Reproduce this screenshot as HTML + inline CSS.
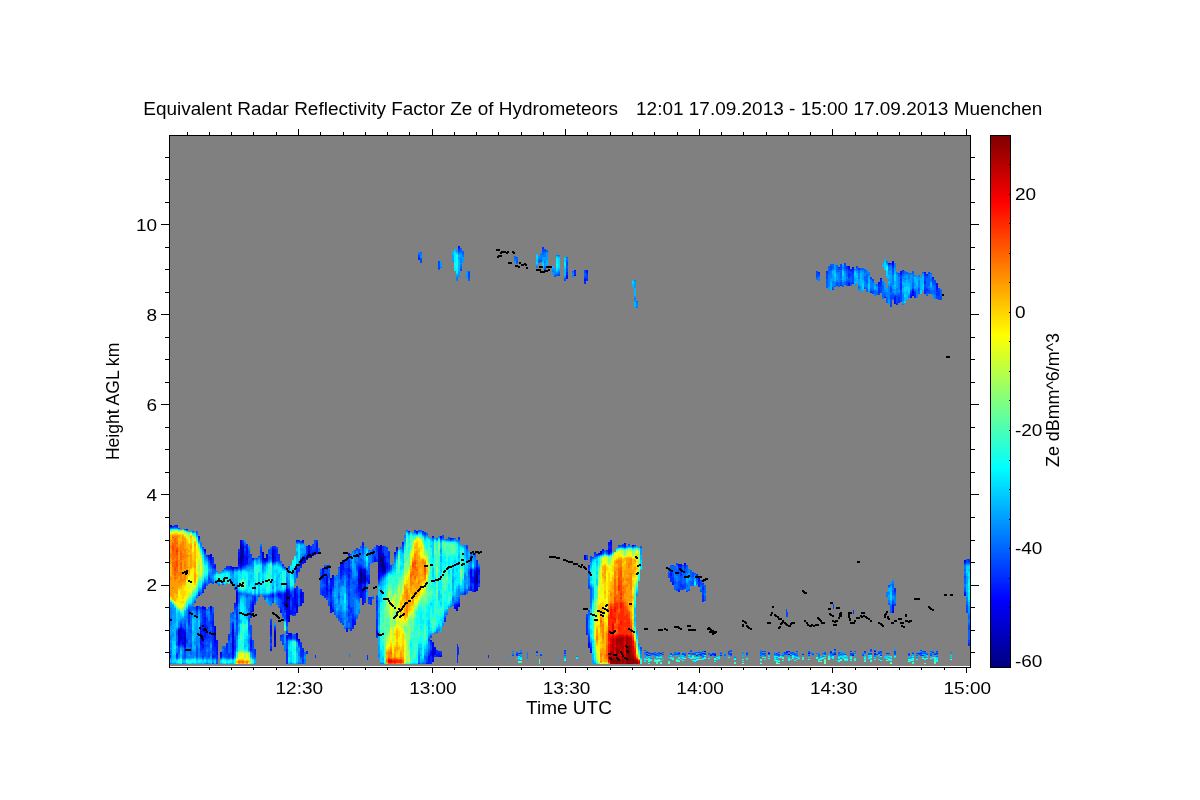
<!DOCTYPE html>
<html lang="en"><head><meta charset="utf-8"><title>Equivalent Radar Reflectivity Factor Ze of Hydrometeors</title>
<style>html,body{margin:0;padding:0;background:#fff;}body{width:1200px;height:800px;overflow:hidden;}svg{display:block;}text{font-family:"Liberation Sans",Arial,Helvetica,sans-serif;fill:#000;}</style></head><body>
<svg width="1200" height="800" viewBox="0 0 1200 800">
<defs>
<linearGradient id="cb" x1="0" y1="0" x2="0" y2="1">
<stop offset="0.0000" stop-color="#800000"/>
<stop offset="0.0156" stop-color="#8f0000"/>
<stop offset="0.0312" stop-color="#9f0000"/>
<stop offset="0.0469" stop-color="#af0000"/>
<stop offset="0.0625" stop-color="#bf0000"/>
<stop offset="0.0781" stop-color="#cf0000"/>
<stop offset="0.0938" stop-color="#df0000"/>
<stop offset="0.1094" stop-color="#ef0000"/>
<stop offset="0.1250" stop-color="#ff0000"/>
<stop offset="0.1406" stop-color="#ff1000"/>
<stop offset="0.1562" stop-color="#ff2000"/>
<stop offset="0.1719" stop-color="#ff3000"/>
<stop offset="0.1875" stop-color="#ff4000"/>
<stop offset="0.2031" stop-color="#ff5000"/>
<stop offset="0.2188" stop-color="#ff6000"/>
<stop offset="0.2344" stop-color="#ff7000"/>
<stop offset="0.2500" stop-color="#ff8000"/>
<stop offset="0.2656" stop-color="#ff8f00"/>
<stop offset="0.2812" stop-color="#ff9f00"/>
<stop offset="0.2969" stop-color="#ffaf00"/>
<stop offset="0.3125" stop-color="#ffbf00"/>
<stop offset="0.3281" stop-color="#ffcf00"/>
<stop offset="0.3438" stop-color="#ffdf00"/>
<stop offset="0.3594" stop-color="#ffef00"/>
<stop offset="0.3750" stop-color="#ffff00"/>
<stop offset="0.3906" stop-color="#efff10"/>
<stop offset="0.4062" stop-color="#dfff20"/>
<stop offset="0.4219" stop-color="#cfff30"/>
<stop offset="0.4375" stop-color="#bfff40"/>
<stop offset="0.4531" stop-color="#afff50"/>
<stop offset="0.4688" stop-color="#9fff60"/>
<stop offset="0.4844" stop-color="#8fff70"/>
<stop offset="0.5000" stop-color="#80ff80"/>
<stop offset="0.5156" stop-color="#70ff8f"/>
<stop offset="0.5312" stop-color="#60ff9f"/>
<stop offset="0.5469" stop-color="#50ffaf"/>
<stop offset="0.5625" stop-color="#40ffbf"/>
<stop offset="0.5781" stop-color="#30ffcf"/>
<stop offset="0.5938" stop-color="#20ffdf"/>
<stop offset="0.6094" stop-color="#10ffef"/>
<stop offset="0.6250" stop-color="#00ffff"/>
<stop offset="0.6406" stop-color="#00efff"/>
<stop offset="0.6562" stop-color="#00dfff"/>
<stop offset="0.6719" stop-color="#00cfff"/>
<stop offset="0.6875" stop-color="#00bfff"/>
<stop offset="0.7031" stop-color="#00afff"/>
<stop offset="0.7188" stop-color="#009fff"/>
<stop offset="0.7344" stop-color="#008fff"/>
<stop offset="0.7500" stop-color="#0080ff"/>
<stop offset="0.7656" stop-color="#0070ff"/>
<stop offset="0.7812" stop-color="#0060ff"/>
<stop offset="0.7969" stop-color="#0050ff"/>
<stop offset="0.8125" stop-color="#0040ff"/>
<stop offset="0.8281" stop-color="#0030ff"/>
<stop offset="0.8438" stop-color="#0020ff"/>
<stop offset="0.8594" stop-color="#0010ff"/>
<stop offset="0.8750" stop-color="#0000ff"/>
<stop offset="0.8906" stop-color="#0000ef"/>
<stop offset="0.9062" stop-color="#0000df"/>
<stop offset="0.9219" stop-color="#0000cf"/>
<stop offset="0.9375" stop-color="#0000bf"/>
<stop offset="0.9531" stop-color="#0000af"/>
<stop offset="0.9688" stop-color="#00009f"/>
<stop offset="0.9844" stop-color="#00008f"/>
<stop offset="1.0000" stop-color="#000080"/>
</linearGradient>

</defs>
<rect width="1200" height="800" fill="#fff"/>
<rect x="170" y="136" width="800" height="530" fill="#808080"/>
<g id="data">
<g fill="none" stroke-width="1" shape-rendering="crispEdges">
<path stroke="#000080" d="M240.5 557v2M241.5 557v2M286.5 594v4M286.5 599v5M287.5 594v4M287.5 599v5M360.5 572v10M361.5 572v10M380.5 556v7M381.5 556v7M382.5 559v7M382.5 569v1M383.5 559v7M383.5 569v1M476.5 575v6M477.5 575v6"/>
<path stroke="#00009c" d="M178.5 631v2M179.5 631v2M240.5 546v3M240.5 555v2M240.5 559v5M241.5 546v3M241.5 555v2M241.5 559v5M242.5 551v7M243.5 551v7M264.5 558v1M265.5 558v1M286.5 592v2M286.5 598v1M286.5 604v1M287.5 592v2M287.5 598v1M287.5 604v1M360.5 570v2M360.5 582v1M361.5 570v2M361.5 582v1M364.5 575v7M365.5 575v7M378.5 560v3M379.5 560v3M380.5 555v1M380.5 563v3M381.5 555v1M381.5 563v3M382.5 557v2M382.5 566v3M382.5 570v1M383.5 557v2M383.5 566v3M383.5 570v1M384.5 567v3M385.5 567v3M476.5 570v5M476.5 581v2M477.5 570v5M477.5 581v2"/>
<path stroke="#0000b8" d="M178.5 630v1M178.5 633v6M179.5 630v1M179.5 633v6M184.5 638v5M185.5 638v5M210.5 554v1M211.5 554v1M240.5 544v2M240.5 549v6M240.5 564v1M241.5 544v2M241.5 549v6M241.5 564v1M242.5 548v3M242.5 558v2M243.5 548v3M243.5 558v2M262.5 552v3M263.5 552v3M264.5 559v1M265.5 559v1M272.5 554v6M273.5 554v6M274.5 635v5M275.5 635v5M286.5 591v1M286.5 605v4M287.5 591v1M287.5 605v4M288.5 617v5M289.5 617v5M296.5 606v2M297.5 606v2M358.5 579v1M359.5 579v1M360.5 569v1M360.5 583v1M361.5 569v1M361.5 583v1M362.5 574v7M363.5 574v7M364.5 571v4M364.5 582v1M365.5 571v4M365.5 582v1M378.5 554v6M378.5 563v5M379.5 554v6M379.5 563v5M380.5 546v5M380.5 553v2M380.5 566v5M381.5 546v5M381.5 553v2M381.5 566v5M382.5 555v2M382.5 571v1M383.5 555v2M383.5 571v1M384.5 565v2M384.5 570v1M385.5 565v2M385.5 570v1M432.5 651v3M433.5 651v3M474.5 579v4M475.5 579v4M476.5 569v1M476.5 583v1M477.5 569v1M477.5 583v1"/>
<path stroke="#0000d4" d="M170.5 525v1M171.5 525v1M178.5 639v4M179.5 639v4M180.5 629v11M181.5 629v11M184.5 636v2M184.5 643v3M185.5 636v2M185.5 643v3M210.5 555v1M211.5 555v1M214.5 632v4M214.5 639v2M215.5 632v4M215.5 639v2M232.5 567v1M232.5 631v18M233.5 567v1M233.5 631v18M236.5 593v6M237.5 593v6M240.5 541v3M240.5 565v1M241.5 541v3M241.5 565v1M242.5 546v2M242.5 560v4M243.5 546v2M243.5 560v4M262.5 555v4M263.5 555v4M266.5 554v5M267.5 554v5M272.5 551v3M272.5 560v1M273.5 551v3M273.5 560v1M274.5 632v3M274.5 640v6M275.5 632v3M275.5 640v6M284.5 602v3M285.5 602v3M286.5 590v1M286.5 609v2M287.5 590v1M287.5 609v2M288.5 592v4M288.5 598v1M288.5 615v2M289.5 592v4M289.5 598v1M289.5 615v2M296.5 604v2M296.5 608v2M296.5 633v5M297.5 604v2M297.5 608v2M297.5 633v5M298.5 639v1M299.5 639v1M300.5 593v5M301.5 593v5M308.5 549v8M309.5 549v8M326.5 580v2M327.5 580v2M342.5 560v1M343.5 560v1M358.5 577v2M358.5 580v5M359.5 577v2M359.5 580v5M360.5 584v3M361.5 584v3M362.5 572v2M362.5 581v2M363.5 572v2M363.5 581v2M364.5 570v1M365.5 570v1M378.5 551v3M378.5 568v4M379.5 551v3M379.5 568v4M380.5 545v1M380.5 551v2M380.5 571v1M381.5 545v1M381.5 551v2M381.5 571v1M382.5 554v1M382.5 572v1M383.5 554v1M383.5 572v1M384.5 563v2M384.5 571v1M385.5 563v2M385.5 571v1M432.5 648v3M432.5 654v2M433.5 648v3M433.5 654v2M456.5 608v3M457.5 608v3M474.5 574v5M474.5 583v1M474.5 587v5M475.5 574v5M475.5 583v1M475.5 587v5M476.5 568v1M476.5 584v1M477.5 568v1M477.5 584v1M584.5 556v2M585.5 556v2M600.5 551v2M601.5 551v2M608.5 552v1M609.5 552v1M704.5 651v1M705.5 651v1M874.5 651v1M875.5 651v1M964.5 560v1M965.5 560v1"/>
<path stroke="#0000f1" d="M170.5 526v1M171.5 526v1M178.5 629v1M178.5 643v2M179.5 629v1M179.5 643v2M180.5 628v1M180.5 640v1M181.5 628v1M181.5 640v1M182.5 630v5M182.5 636v4M182.5 642v2M183.5 630v5M183.5 636v4M183.5 642v2M184.5 632v4M184.5 646v1M185.5 632v4M185.5 646v1M196.5 606v1M197.5 606v1M202.5 607v2M203.5 607v2M204.5 549v2M204.5 607v2M205.5 549v2M205.5 607v2M208.5 555v1M209.5 555v1M210.5 556v4M210.5 606v3M211.5 556v4M211.5 606v3M214.5 626v6M214.5 636v3M214.5 641v2M215.5 626v6M215.5 636v3M215.5 641v2M220.5 652v3M221.5 652v3M232.5 568v1M232.5 629v2M232.5 649v5M233.5 568v1M233.5 629v2M233.5 649v5M236.5 567v1M236.5 592v1M236.5 599v5M237.5 567v1M237.5 592v1M237.5 599v5M238.5 558v6M239.5 558v6M240.5 540v1M240.5 566v1M241.5 540v1M241.5 566v1M242.5 544v2M242.5 564v1M243.5 544v2M243.5 564v1M246.5 557v3M247.5 557v3M252.5 604v8M253.5 604v8M262.5 559v1M263.5 559v1M264.5 560v1M265.5 560v1M266.5 559v2M267.5 559v2M272.5 549v2M272.5 561v1M272.5 595v1M273.5 549v2M273.5 561v1M273.5 595v1M274.5 550v2M274.5 557v2M274.5 631v1M274.5 646v1M275.5 550v2M275.5 557v2M275.5 631v1M275.5 646v1M278.5 594v1M279.5 594v1M284.5 594v8M284.5 605v2M285.5 594v8M285.5 605v2M286.5 589v1M286.5 611v8M287.5 589v1M287.5 611v8M288.5 591v1M288.5 596v2M288.5 599v16M288.5 633v1M289.5 591v1M289.5 596v2M289.5 599v16M289.5 633v1M290.5 633v4M291.5 633v4M294.5 591v14M295.5 591v14M296.5 603v1M296.5 610v3M296.5 638v2M297.5 603v1M297.5 610v3M297.5 638v2M298.5 640v1M299.5 640v1M300.5 561v4M300.5 592v1M300.5 598v6M301.5 561v4M301.5 592v1M301.5 598v6M302.5 540v2M302.5 559v2M302.5 601v2M303.5 540v2M303.5 559v2M303.5 601v2M304.5 559v4M305.5 559v4M308.5 545v4M308.5 557v1M309.5 545v4M309.5 557v1M310.5 555v3M311.5 555v3M312.5 555v1M313.5 555v1M322.5 568v4M323.5 568v4M326.5 578v2M326.5 582v3M326.5 588v3M327.5 578v2M327.5 582v3M327.5 588v3M330.5 578v2M330.5 589v2M330.5 605v4M331.5 578v2M331.5 589v2M331.5 605v4M332.5 575v4M332.5 611v1M333.5 575v4M333.5 611v1M340.5 563v1M340.5 571v1M341.5 563v1M341.5 571v1M342.5 561v2M343.5 561v2M358.5 570v7M358.5 585v4M359.5 570v7M359.5 585v4M360.5 568v1M360.5 587v11M361.5 568v1M361.5 587v11M362.5 570v2M363.5 570v2M364.5 569v1M364.5 583v1M365.5 569v1M365.5 583v1M378.5 546v5M378.5 572v6M379.5 546v5M379.5 572v6M380.5 572v1M381.5 572v1M382.5 553v1M382.5 573v1M383.5 553v1M383.5 573v1M384.5 557v1M384.5 562v1M384.5 572v1M385.5 557v1M385.5 562v1M385.5 572v1M396.5 547v1M397.5 547v1M416.5 531v1M417.5 531v1M432.5 643v5M432.5 656v1M432.5 660v2M433.5 643v5M433.5 656v1M433.5 660v2M434.5 648v6M435.5 648v6M440.5 656v1M441.5 656v1M454.5 607v2M455.5 607v2M456.5 605v3M457.5 605v3M458.5 604v3M459.5 604v3M470.5 570v9M471.5 570v9M472.5 579v1M472.5 581v1M473.5 579v1M473.5 581v1M474.5 572v2M474.5 584v3M475.5 572v2M475.5 584v3M476.5 585v6M477.5 585v6M478.5 571v1M479.5 571v1M584.5 555v1M584.5 558v2M585.5 555v1M585.5 558v2M588.5 643v3M589.5 643v3M590.5 652v1M591.5 652v1M598.5 553v1M599.5 553v1M600.5 553v1M601.5 553v1M608.5 550v2M608.5 553v1M609.5 550v2M609.5 553v1M610.5 542v3M611.5 542v3M624.5 543v1M625.5 543v1M632.5 545v1M633.5 545v1M660.5 653v1M661.5 653v1M678.5 564v1M679.5 564v1M684.5 563v1M685.5 563v1M698.5 577v2M699.5 577v2M768.5 653v1M769.5 653v1M808.5 653v1M809.5 653v1M848.5 266v2M849.5 266v2M892.5 261v4M892.5 611v2M893.5 261v4M893.5 611v2M912.5 291v5M913.5 291v5M964.5 561v1M965.5 561v1"/>
<path stroke="#000eff" d="M176.5 525v1M177.5 525v1M178.5 645v1M179.5 645v1M180.5 626v2M180.5 641v2M181.5 626v2M181.5 641v2M182.5 629v1M182.5 635v1M182.5 640v2M182.5 644v1M183.5 629v1M183.5 635v1M183.5 640v2M183.5 644v1M184.5 630v2M184.5 647v1M185.5 630v2M185.5 647v1M186.5 529v1M187.5 529v1M188.5 613v1M189.5 613v1M196.5 607v3M197.5 607v3M198.5 536v2M198.5 595v1M199.5 536v2M199.5 595v1M200.5 629v16M201.5 629v16M202.5 592v1M202.5 606v1M202.5 609v1M202.5 628v4M202.5 636v6M202.5 644v4M203.5 592v1M203.5 606v1M203.5 609v1M203.5 628v4M203.5 636v6M203.5 644v4M204.5 551v1M204.5 588v1M204.5 609v1M204.5 614v1M204.5 617v6M204.5 624v14M205.5 551v1M205.5 588v1M205.5 609v1M205.5 614v1M205.5 617v6M205.5 624v14M206.5 627v1M207.5 627v1M208.5 556v2M209.5 556v2M210.5 560v3M210.5 609v3M211.5 560v3M211.5 609v3M212.5 621v6M212.5 656v1M213.5 621v6M213.5 656v1M214.5 565v3M214.5 643v4M215.5 565v3M215.5 643v4M216.5 640v15M217.5 640v15M220.5 655v2M221.5 655v2M230.5 566v3M231.5 566v3M232.5 569v1M232.5 624v5M232.5 654v4M233.5 569v1M233.5 624v5M233.5 654v4M234.5 567v1M234.5 603v1M235.5 567v1M235.5 603v1M236.5 568v1M236.5 591v1M236.5 604v2M237.5 568v1M237.5 591v1M237.5 604v2M238.5 552v6M238.5 564v2M239.5 552v6M239.5 564v2M240.5 567v1M241.5 567v1M242.5 543v1M242.5 565v1M243.5 543v1M243.5 565v1M244.5 555v10M245.5 555v10M246.5 547v10M246.5 560v4M247.5 547v10M247.5 560v4M250.5 611v1M250.5 640v7M250.5 649v1M251.5 611v1M251.5 640v7M251.5 649v1M252.5 558v2M252.5 602v2M253.5 558v2M253.5 602v2M254.5 597v4M255.5 597v4M262.5 560v2M263.5 560v2M264.5 561v1M265.5 561v1M270.5 625v10M270.5 649v2M271.5 625v10M271.5 649v2M272.5 548v1M272.5 594v1M272.5 596v1M273.5 548v1M273.5 594v1M273.5 596v1M274.5 549v1M274.5 552v5M274.5 559v2M274.5 630v1M275.5 549v1M275.5 552v5M275.5 559v2M275.5 630v1M278.5 593v1M278.5 595v2M279.5 593v1M279.5 595v2M280.5 594v4M280.5 610v3M281.5 594v4M281.5 610v3M282.5 602v2M283.5 602v2M284.5 593v1M284.5 607v3M285.5 593v1M285.5 607v3M286.5 619v2M286.5 635v4M287.5 619v2M287.5 635v4M288.5 590v1M288.5 634v3M289.5 590v1M289.5 634v3M290.5 595v2M290.5 610v5M290.5 637v2M291.5 595v2M291.5 610v5M291.5 637v2M292.5 598v16M293.5 598v16M294.5 589v2M294.5 605v3M294.5 612v2M295.5 589v2M295.5 605v3M295.5 612v2M296.5 540v1M296.5 570v3M296.5 593v10M297.5 540v1M297.5 570v3M297.5 593v10M298.5 540v1M298.5 641v2M299.5 540v1M299.5 641v2M300.5 560v1M300.5 565v1M300.5 591v1M300.5 604v2M300.5 646v1M301.5 560v1M301.5 565v1M301.5 591v1M301.5 604v2M301.5 646v1M302.5 557v2M302.5 561v3M302.5 592v9M302.5 651v1M303.5 557v2M303.5 561v3M303.5 592v9M303.5 651v1M304.5 558v1M305.5 558v1M306.5 556v4M307.5 556v4M310.5 554v1M311.5 554v1M312.5 552v3M313.5 552v3M314.5 552v3M315.5 552v3M316.5 543v11M317.5 543v11M322.5 572v6M322.5 592v1M323.5 572v6M323.5 592v1M326.5 576v2M326.5 585v3M326.5 591v4M327.5 576v2M327.5 585v3M327.5 591v4M330.5 580v9M330.5 591v4M330.5 602v3M330.5 609v4M331.5 580v9M331.5 591v4M331.5 602v3M331.5 609v4M332.5 579v7M332.5 609v2M333.5 579v7M333.5 609v2M340.5 564v7M340.5 572v4M341.5 564v7M341.5 572v4M342.5 563v7M343.5 563v7M346.5 629v3M347.5 629v3M348.5 553v2M348.5 568v4M348.5 574v4M349.5 553v2M349.5 568v4M349.5 574v4M352.5 619v8M353.5 619v8M354.5 621v4M355.5 621v4M358.5 567v3M358.5 589v3M359.5 567v3M359.5 589v3M360.5 567v1M361.5 567v1M362.5 544v1M362.5 569v1M362.5 583v1M362.5 590v15M363.5 544v1M363.5 569v1M363.5 583v1M363.5 590v15M364.5 584v8M365.5 584v8M366.5 577v4M367.5 577v4M368.5 580v4M369.5 580v4M374.5 557v5M375.5 557v5M376.5 601v1M376.5 630v5M377.5 601v1M377.5 630v5M378.5 578v2M379.5 578v2M380.5 573v3M381.5 573v3M382.5 552v1M382.5 574v1M383.5 552v1M383.5 574v1M384.5 556v1M384.5 558v4M384.5 573v1M385.5 556v1M385.5 558v4M385.5 573v1M386.5 563v6M387.5 563v6M394.5 552v2M395.5 552v2M396.5 548v2M397.5 548v2M402.5 542v2M403.5 542v2M416.5 532v1M417.5 532v1M426.5 663v1M427.5 663v1M428.5 656v8M429.5 656v8M430.5 640v2M430.5 651v5M431.5 640v2M431.5 651v5M432.5 536v1M432.5 642v1M432.5 657v3M433.5 536v1M433.5 642v1M433.5 657v3M434.5 647v1M434.5 654v1M435.5 647v1M435.5 654v1M436.5 654v2M437.5 654v2M438.5 653v4M439.5 653v4M440.5 536v2M440.5 655v1M441.5 536v2M441.5 655v1M450.5 538v1M451.5 538v1M454.5 605v2M455.5 605v2M456.5 604v1M457.5 604v1M458.5 246v2M458.5 603v1M459.5 246v2M459.5 603v1M470.5 569v1M470.5 579v4M470.5 586v5M471.5 569v1M471.5 579v4M471.5 586v5M472.5 577v2M472.5 580v1M472.5 582v1M473.5 577v2M473.5 580v1M473.5 582v1M474.5 570v2M475.5 570v2M476.5 567v1M477.5 567v1M478.5 569v2M478.5 572v3M478.5 580v3M479.5 569v2M479.5 572v3M479.5 580v3M516.5 654v1M517.5 654v1M536.5 652v1M537.5 652v1M566.5 275v4M567.5 275v4M574.5 270v1M574.5 275v1M575.5 270v1M575.5 275v1M584.5 279v2M585.5 279v2M586.5 270v3M587.5 270v3M588.5 642v1M588.5 646v2M589.5 642v1M589.5 646v2M590.5 649v3M591.5 649v3M596.5 554v1M597.5 554v1M598.5 554v1M599.5 554v1M602.5 549v2M603.5 549v2M608.5 542v4M608.5 548v2M609.5 542v4M609.5 548v2M610.5 540v2M610.5 545v7M611.5 540v2M611.5 545v7M624.5 544v3M625.5 544v3M646.5 652v1M647.5 652v1M670.5 573v3M671.5 573v3M672.5 582v3M673.5 582v3M678.5 565v2M678.5 591v1M679.5 565v2M679.5 591v1M680.5 564v3M681.5 564v3M684.5 564v2M685.5 564v2M698.5 579v3M699.5 579v3M702.5 653v1M703.5 653v1M710.5 655v1M711.5 655v1M714.5 654v2M715.5 654v2M786.5 652v1M787.5 652v1M788.5 651v1M788.5 654v1M789.5 651v1M789.5 654v1M830.5 652v1M831.5 652v1M834.5 654v1M835.5 654v1M848.5 268v2M848.5 283v2M849.5 268v2M849.5 283v2M852.5 267v3M852.5 655v1M853.5 267v3M853.5 655v1M874.5 654v1M875.5 654v1M878.5 282v2M879.5 282v2M880.5 278v1M881.5 278v1M888.5 263v1M889.5 263v1M892.5 265v1M892.5 605v6M893.5 265v1M893.5 605v6M894.5 297v7M895.5 297v7M900.5 271v4M901.5 271v4M910.5 295v3M911.5 295v3M912.5 290v1M913.5 290v1M924.5 272v1M925.5 272v1M932.5 277v1M933.5 277v1M936.5 283v7M937.5 283v7M964.5 562v1M964.5 593v3M965.5 562v1M965.5 593v3"/>
<path stroke="#002aff" d="M170.5 527v1M170.5 655v3M171.5 527v1M172.5 526v1M173.5 526v1M174.5 525v2M175.5 525v2M176.5 526v1M176.5 654v4M177.5 526v1M177.5 654v4M178.5 628v1M178.5 646v1M179.5 628v1M179.5 646v1M180.5 624v2M180.5 643v2M181.5 624v2M181.5 643v2M182.5 628v1M182.5 645v1M183.5 628v1M183.5 645v1M184.5 629v1M184.5 648v4M185.5 629v1M185.5 648v4M186.5 640v2M187.5 640v2M188.5 610v3M188.5 614v11M189.5 610v3M189.5 614v11M196.5 610v2M197.5 610v2M198.5 538v1M198.5 594v1M199.5 538v1M199.5 594v1M200.5 607v2M200.5 625v4M200.5 645v6M201.5 607v2M201.5 625v4M201.5 645v6M202.5 588v4M202.5 610v18M202.5 632v4M202.5 642v2M202.5 648v2M202.5 656v1M203.5 588v4M203.5 610v18M203.5 632v4M203.5 642v2M203.5 648v2M203.5 656v1M204.5 552v1M204.5 584v4M204.5 610v4M204.5 615v2M204.5 623v1M204.5 638v2M204.5 645v2M205.5 552v1M205.5 584v4M205.5 610v4M205.5 615v2M205.5 623v1M205.5 638v2M205.5 645v2M206.5 555v1M206.5 619v1M206.5 625v2M206.5 628v4M206.5 633v6M207.5 555v1M207.5 619v1M207.5 625v2M207.5 628v4M207.5 633v6M208.5 558v2M208.5 636v2M209.5 558v2M209.5 636v2M210.5 563v2M210.5 612v3M210.5 621v3M211.5 563v2M211.5 612v3M211.5 621v3M212.5 557v11M212.5 614v7M212.5 627v24M212.5 654v2M212.5 657v1M213.5 557v11M213.5 614v7M213.5 627v24M213.5 654v2M213.5 657v1M214.5 564v1M214.5 568v1M214.5 647v6M214.5 654v3M215.5 564v1M215.5 568v1M215.5 647v6M215.5 654v3M216.5 655v4M217.5 655v4M220.5 657v1M221.5 657v1M226.5 566v3M226.5 643v11M227.5 566v3M227.5 643v11M228.5 566v3M228.5 634v1M228.5 636v4M228.5 654v3M229.5 566v3M229.5 634v1M229.5 636v4M229.5 654v3M230.5 569v1M231.5 569v1M232.5 570v1M232.5 623v1M233.5 570v1M233.5 623v1M234.5 568v1M234.5 604v4M234.5 640v3M234.5 645v5M235.5 568v1M235.5 604v4M235.5 640v3M235.5 645v5M236.5 590v1M236.5 606v1M236.5 609v11M236.5 623v2M237.5 590v1M237.5 606v1M237.5 609v11M237.5 623v2M238.5 549v3M238.5 566v2M239.5 549v3M239.5 566v2M240.5 568v1M241.5 568v1M242.5 541v2M242.5 566v1M243.5 541v2M243.5 566v1M244.5 546v2M244.5 551v4M244.5 565v1M245.5 546v2M245.5 551v4M245.5 565v1M246.5 544v3M246.5 564v1M247.5 544v3M247.5 564v1M248.5 555v3M249.5 555v3M250.5 554v1M250.5 604v7M250.5 612v6M250.5 638v2M250.5 647v2M250.5 650v1M251.5 554v1M251.5 604v7M251.5 612v6M251.5 638v2M251.5 647v2M251.5 650v1M252.5 600v2M253.5 600v2M254.5 596v1M254.5 601v2M254.5 649v6M255.5 596v1M255.5 601v2M255.5 649v6M260.5 550v3M261.5 550v3M262.5 562v1M263.5 562v1M264.5 562v1M265.5 562v1M266.5 561v1M267.5 561v1M270.5 595v2M270.5 621v4M270.5 635v2M270.5 639v4M270.5 646v3M271.5 595v2M271.5 621v4M271.5 635v2M271.5 639v4M271.5 646v3M272.5 546v2M272.5 562v1M272.5 597v1M272.5 602v1M273.5 546v2M273.5 562v1M273.5 597v1M273.5 602v1M274.5 546v3M274.5 561v1M274.5 628v2M275.5 546v3M275.5 561v1M275.5 628v2M276.5 549v12M276.5 594v2M277.5 549v12M277.5 594v2M278.5 554v7M278.5 597v1M279.5 554v7M279.5 597v1M280.5 593v1M280.5 598v2M280.5 607v3M280.5 635v2M281.5 593v1M281.5 598v2M281.5 607v3M281.5 635v2M282.5 564v2M282.5 594v8M282.5 604v3M283.5 564v2M283.5 594v8M283.5 604v3M284.5 567v1M284.5 592v1M284.5 610v2M285.5 567v1M285.5 592v1M285.5 610v2M286.5 587v2M286.5 621v2M286.5 632v2M286.5 639v2M286.5 649v15M287.5 587v2M287.5 621v2M287.5 632v2M287.5 639v2M287.5 649v15M288.5 589v1M288.5 637v2M289.5 589v1M289.5 637v2M290.5 593v2M290.5 597v4M290.5 607v3M291.5 593v2M291.5 597v4M291.5 607v3M292.5 597v1M292.5 614v2M293.5 597v1M293.5 614v2M294.5 588v1M294.5 608v4M294.5 614v1M295.5 588v1M295.5 608v4M295.5 614v1M296.5 541v1M296.5 568v2M296.5 573v2M296.5 586v7M296.5 640v1M297.5 541v1M297.5 568v2M297.5 573v2M297.5 586v7M297.5 640v1M298.5 541v1M298.5 568v4M298.5 643v2M299.5 541v1M299.5 568v4M299.5 643v2M300.5 541v1M300.5 559v1M300.5 566v2M300.5 589v2M300.5 643v3M300.5 647v10M301.5 541v1M301.5 559v1M301.5 566v2M301.5 589v2M301.5 643v3M301.5 647v10M302.5 542v1M302.5 648v3M302.5 652v5M302.5 659v3M303.5 542v1M303.5 648v3M303.5 652v5M303.5 659v3M304.5 556v2M305.5 556v2M306.5 546v10M306.5 651v3M307.5 546v10M307.5 651v3M310.5 546v8M311.5 546v8M312.5 550v2M313.5 550v2M314.5 549v3M315.5 549v3M315.5 655v3M316.5 540v3M317.5 540v3M322.5 578v3M322.5 589v3M322.5 593v3M323.5 578v3M323.5 589v3M323.5 593v3M324.5 577v7M324.5 587v11M325.5 577v7M325.5 587v11M326.5 567v3M326.5 575v1M326.5 595v2M327.5 567v3M327.5 575v1M327.5 595v2M328.5 565v1M328.5 589v3M329.5 565v1M329.5 589v3M330.5 595v7M331.5 595v7M332.5 586v2M332.5 607v2M333.5 586v2M333.5 607v2M340.5 576v3M341.5 576v3M342.5 570v5M343.5 570v5M344.5 563v1M344.5 568v4M345.5 563v1M345.5 568v4M346.5 568v7M346.5 628v1M347.5 568v7M347.5 628v1M348.5 555v1M348.5 560v8M348.5 572v2M348.5 578v8M348.5 593v3M348.5 605v4M348.5 613v3M349.5 555v1M349.5 560v8M349.5 572v2M349.5 578v8M349.5 593v3M349.5 605v4M349.5 613v3M350.5 570v2M350.5 608v5M350.5 628v3M351.5 570v2M351.5 608v5M351.5 628v3M352.5 614v5M352.5 627v2M353.5 614v5M353.5 627v2M354.5 618v3M355.5 618v3M356.5 548v1M356.5 587v6M357.5 548v1M357.5 587v6M358.5 565v2M358.5 592v5M359.5 565v2M359.5 592v5M360.5 565v2M361.5 565v2M362.5 542v2M362.5 545v3M362.5 568v1M362.5 584v6M363.5 542v2M363.5 545v3M363.5 568v1M363.5 584v6M364.5 568v1M364.5 592v11M365.5 568v1M365.5 592v11M366.5 575v2M366.5 581v1M367.5 575v2M367.5 581v1M367.5 655v5M368.5 575v5M368.5 597v3M368.5 603v1M369.5 575v5M369.5 597v3M369.5 603v1M370.5 597v8M371.5 597v8M374.5 556v1M375.5 556v1M376.5 545v7M376.5 559v3M376.5 600v1M376.5 602v3M376.5 606v5M376.5 619v11M376.5 635v2M377.5 545v7M377.5 559v3M377.5 600v1M377.5 602v3M377.5 606v5M377.5 619v11M377.5 635v2M378.5 580v1M379.5 580v1M380.5 576v2M381.5 576v2M382.5 546v6M382.5 575v1M383.5 546v6M383.5 575v1M384.5 555v1M385.5 555v1M386.5 556v2M386.5 561v2M386.5 569v3M387.5 556v2M387.5 561v2M387.5 569v3M388.5 552v7M388.5 563v7M389.5 552v7M389.5 563v7M394.5 554v2M395.5 554v2M396.5 550v1M397.5 550v1M402.5 544v2M403.5 544v2M408.5 531v1M409.5 531v1M414.5 530v1M415.5 530v1M418.5 257v3M419.5 257v3M422.5 531v2M423.5 531v2M424.5 532v3M425.5 532v3M426.5 662v1M427.5 662v1M428.5 654v2M429.5 654v2M430.5 642v3M430.5 650v1M430.5 656v8M431.5 642v3M431.5 650v1M431.5 656v8M432.5 537v1M433.5 537v1M434.5 655v2M435.5 655v2M436.5 650v4M436.5 656v1M437.5 650v4M437.5 656v1M438.5 651v2M439.5 651v2M440.5 538v1M440.5 652v3M441.5 538v1M441.5 652v3M444.5 618v4M445.5 618v4M450.5 539v1M451.5 539v1M452.5 538v1M453.5 538v1M454.5 604v1M455.5 604v1M456.5 603v1M457.5 603v1M457.5 644v19M458.5 248v2M458.5 537v2M458.5 601v2M458.5 647v8M459.5 248v2M459.5 537v2M459.5 601v2M464.5 592v3M465.5 592v3M466.5 547v1M467.5 547v1M470.5 552v1M470.5 583v3M471.5 552v1M471.5 583v3M472.5 576v1M472.5 583v1M472.5 589v3M473.5 576v1M473.5 583v1M473.5 589v3M474.5 569v1M475.5 569v1M476.5 560v7M477.5 560v7M478.5 568v1M478.5 575v5M478.5 583v1M478.5 586v1M479.5 568v1M479.5 575v5M479.5 583v1M479.5 586v1M488.5 655v3M518.5 653v1M519.5 653v1M542.5 247v2M543.5 247v2M564.5 653v1M565.5 653v1M566.5 272v3M567.5 272v3M574.5 271v4M575.5 271v4M584.5 278v1M584.5 281v3M585.5 278v1M585.5 281v3M586.5 273v2M586.5 278v3M586.5 559v1M586.5 617v18M587.5 273v2M587.5 278v3M587.5 559v1M587.5 617v18M588.5 565v3M588.5 637v5M589.5 565v3M589.5 637v5M590.5 647v2M591.5 647v2M594.5 552v2M595.5 552v2M596.5 555v1M597.5 555v1M600.5 554v1M601.5 554v1M602.5 551v2M603.5 551v2M606.5 550v2M607.5 550v2M608.5 546v2M609.5 546v2M610.5 552v1M611.5 552v1M622.5 545v1M623.5 545v1M632.5 546v1M633.5 546v1M634.5 545v1M635.5 545v1M646.5 654v1M647.5 654v1M648.5 655v1M649.5 655v1M652.5 653v1M653.5 653v1M654.5 654v1M655.5 654v1M670.5 571v2M670.5 576v6M671.5 571v2M671.5 576v6M672.5 577v5M673.5 577v5M678.5 567v2M678.5 589v2M678.5 653v1M679.5 567v2M679.5 589v2M679.5 653v1M680.5 567v2M680.5 572v4M680.5 584v3M681.5 567v2M681.5 572v4M681.5 584v3M682.5 586v2M682.5 654v1M683.5 586v2M683.5 654v1M684.5 566v2M685.5 566v2M688.5 653v1M689.5 653v1M696.5 574v2M696.5 655v1M697.5 574v2M697.5 655v1M698.5 582v5M698.5 654v1M699.5 582v5M699.5 654v1M700.5 654v1M701.5 654v1M702.5 583v1M702.5 587v3M702.5 595v7M703.5 583v1M703.5 587v3M703.5 595v7M704.5 653v1M705.5 653v1M712.5 653v2M713.5 653v2M720.5 655v1M721.5 655v1M730.5 654v1M731.5 654v1M746.5 653v1M747.5 653v1M786.5 651v1M787.5 651v1M802.5 654v1M803.5 654v1M818.5 272v2M819.5 272v2M826.5 271v2M827.5 271v2M834.5 649v1M835.5 649v1M838.5 267v1M839.5 267v1M840.5 285v1M841.5 285v1M846.5 266v3M847.5 266v3M848.5 270v1M848.5 273v4M848.5 282v1M848.5 285v1M849.5 270v1M849.5 273v4M849.5 282v1M849.5 285v1M850.5 269v3M850.5 651v1M851.5 269v3M851.5 651v1M852.5 270v3M852.5 283v1M853.5 270v3M853.5 283v1M853.5 610v4M858.5 268v1M859.5 268v1M864.5 651v1M865.5 651v1M870.5 292v1M871.5 292v1M874.5 653v1M875.5 653v1M878.5 284v3M878.5 288v5M878.5 653v1M879.5 284v3M879.5 288v5M879.5 653v1M880.5 279v7M880.5 655v1M881.5 279v7M881.5 655v1M884.5 297v1M885.5 297v1M886.5 653v1M887.5 653v1M888.5 264v1M889.5 264v1M890.5 263v1M891.5 263v1M892.5 266v2M892.5 604v1M893.5 266v2M893.5 604v1M894.5 296v1M894.5 588v4M895.5 296v1M895.5 588v4M896.5 303v2M897.5 303v2M898.5 297v6M899.5 297v6M900.5 275v1M900.5 279v2M900.5 283v7M901.5 275v1M901.5 279v2M901.5 283v7M902.5 270v1M903.5 270v1M908.5 654v1M909.5 654v1M910.5 293v2M911.5 293v2M912.5 289v1M913.5 289v1M914.5 292v6M915.5 292v6M918.5 653v1M919.5 653v1M920.5 653v1M921.5 653v1M922.5 655v1M923.5 655v1M924.5 273v3M924.5 281v3M924.5 287v7M925.5 273v3M925.5 281v3M925.5 287v7M926.5 274v2M926.5 289v2M927.5 274v2M927.5 289v2M932.5 278v2M932.5 652v1M933.5 278v2M933.5 652v1M934.5 654v1M935.5 654v1M936.5 290v2M936.5 293v3M936.5 653v1M937.5 290v2M937.5 293v3M937.5 653v1M938.5 291v5M939.5 291v5M964.5 563v1M964.5 592v1M965.5 563v1M965.5 592v1M968.5 559v3M968.5 643v3M969.5 559v3M969.5 643v3"/>
<path stroke="#0047ff" d="M172.5 527v1M173.5 527v1M176.5 527v1M176.5 631v4M176.5 642v3M176.5 653v1M177.5 527v1M177.5 631v4M177.5 642v3M177.5 653v1M178.5 528v1M178.5 647v1M178.5 649v4M179.5 528v1M179.5 647v1M179.5 649v4M180.5 623v1M180.5 645v1M181.5 623v1M181.5 645v1M182.5 627v1M182.5 646v1M183.5 627v1M183.5 646v1M184.5 623v6M184.5 652v6M185.5 623v6M185.5 652v6M186.5 638v2M186.5 642v2M187.5 638v2M187.5 642v2M188.5 609v1M188.5 625v2M188.5 630v1M189.5 609v1M189.5 625v2M189.5 630v1M190.5 630v3M190.5 644v3M191.5 630v3M191.5 644v3M194.5 602v1M194.5 607v2M195.5 602v1M195.5 607v2M196.5 612v3M196.5 647v10M197.5 612v3M197.5 647v10M198.5 539v1M198.5 592v2M198.5 606v3M199.5 539v1M199.5 592v2M199.5 606v3M200.5 609v4M200.5 623v2M200.5 651v2M201.5 609v4M201.5 623v2M201.5 651v2M202.5 547v1M202.5 586v2M202.5 650v6M202.5 657v1M203.5 547v1M203.5 586v2M203.5 650v6M203.5 657v1M204.5 553v1M204.5 583v1M204.5 640v5M204.5 647v9M205.5 553v1M205.5 583v1M205.5 640v5M205.5 647v9M206.5 556v1M206.5 617v2M206.5 620v5M206.5 632v1M206.5 639v3M206.5 644v3M207.5 556v1M207.5 617v2M207.5 620v5M207.5 632v1M207.5 639v3M207.5 644v3M208.5 560v1M208.5 577v6M208.5 622v14M208.5 638v5M208.5 644v4M208.5 652v5M209.5 560v1M209.5 577v6M209.5 622v14M209.5 638v5M209.5 644v4M209.5 652v5M210.5 565v1M210.5 579v4M210.5 615v6M210.5 624v3M210.5 630v11M211.5 565v1M211.5 579v4M211.5 615v6M211.5 624v3M211.5 630v11M212.5 568v1M212.5 582v2M212.5 612v2M212.5 651v3M212.5 658v1M213.5 568v1M213.5 582v2M213.5 612v2M213.5 651v3M213.5 658v1M214.5 569v2M214.5 653v1M214.5 657v1M215.5 569v2M215.5 653v1M215.5 657v1M216.5 659v1M216.5 663v1M217.5 659v1M217.5 663v1M222.5 654v2M223.5 654v2M224.5 568v1M224.5 648v9M225.5 568v1M225.5 648v9M226.5 569v1M226.5 654v4M227.5 569v1M227.5 654v4M228.5 569v1M228.5 635v1M228.5 640v1M228.5 653v1M228.5 657v1M229.5 569v1M229.5 635v1M229.5 640v1M229.5 653v1M229.5 657v1M230.5 632v5M230.5 643v7M230.5 652v5M231.5 632v5M231.5 643v7M231.5 652v5M232.5 612v2M232.5 622v1M232.5 658v1M233.5 612v2M233.5 622v1M233.5 658v1M234.5 589v1M234.5 608v2M234.5 636v4M234.5 643v2M234.5 650v2M235.5 589v1M235.5 608v2M235.5 636v4M235.5 643v2M235.5 650v2M236.5 569v1M236.5 607v2M236.5 620v3M236.5 625v10M237.5 569v1M237.5 607v2M237.5 620v3M237.5 625v10M238.5 568v1M238.5 593v2M239.5 568v1M239.5 593v2M240.5 569v1M241.5 569v1M242.5 540v1M242.5 567v1M243.5 540v1M243.5 567v1M244.5 545v1M244.5 548v3M244.5 566v1M245.5 545v1M245.5 548v3M245.5 566v1M246.5 595v2M247.5 595v2M248.5 551v4M248.5 558v7M248.5 618v4M248.5 627v3M249.5 551v4M249.5 558v7M249.5 618v4M249.5 627v3M250.5 555v9M250.5 601v3M250.5 625v10M250.5 636v2M250.5 651v1M251.5 555v9M251.5 601v3M251.5 625v10M251.5 636v2M251.5 651v1M252.5 560v1M252.5 596v4M252.5 640v13M253.5 560v1M253.5 596v4M253.5 640v13M254.5 595v1M254.5 603v2M254.5 655v2M255.5 595v1M255.5 603v2M255.5 655v2M256.5 558v1M257.5 558v1M258.5 556v1M258.5 596v1M259.5 556v1M259.5 596v1M260.5 547v3M260.5 553v7M261.5 547v3M261.5 553v7M262.5 563v1M263.5 563v1M264.5 563v1M264.5 596v2M265.5 563v1M265.5 596v2M268.5 550v4M268.5 556v4M268.5 595v3M269.5 550v4M269.5 556v4M269.5 595v3M270.5 549v6M270.5 557v2M270.5 594v1M270.5 597v1M270.5 619v2M270.5 637v2M270.5 643v3M271.5 549v6M271.5 557v2M271.5 594v1M271.5 597v1M271.5 619v2M271.5 637v2M271.5 643v3M272.5 593v1M272.5 598v4M273.5 593v1M273.5 598v4M274.5 562v1M274.5 627v1M275.5 562v1M275.5 627v1M276.5 547v2M276.5 593v1M276.5 596v1M277.5 547v2M277.5 593v1M277.5 596v1M278.5 561v1M278.5 592v1M278.5 598v1M279.5 561v1M279.5 592v1M279.5 598v1M280.5 592v1M280.5 600v7M280.5 637v4M281.5 592v1M281.5 600v7M281.5 637v4M282.5 566v1M282.5 593v1M282.5 607v9M282.5 634v11M283.5 566v1M283.5 593v1M283.5 607v9M283.5 634v11M284.5 612v1M284.5 615v4M285.5 612v1M285.5 615v4M286.5 585v2M286.5 623v3M286.5 631v1M286.5 641v8M287.5 585v2M287.5 623v3M287.5 631v1M287.5 641v8M288.5 566v2M288.5 588v1M289.5 566v2M289.5 588v1M290.5 592v1M290.5 601v6M290.5 639v1M291.5 592v1M291.5 601v6M291.5 639v1M292.5 591v6M292.5 636v2M293.5 591v6M293.5 636v2M294.5 615v1M294.5 634v5M295.5 615v1M295.5 634v5M296.5 542v1M296.5 567v1M296.5 575v3M297.5 542v1M297.5 567v1M297.5 575v3M298.5 565v3M298.5 595v3M298.5 605v1M298.5 645v1M299.5 565v3M299.5 595v3M299.5 605v1M299.5 645v1M300.5 542v1M300.5 558v1M300.5 642v1M300.5 657v1M301.5 542v1M301.5 558v1M301.5 642v1M301.5 657v1M302.5 556v1M302.5 657v2M302.5 662v2M303.5 556v1M303.5 657v2M303.5 662v2M304.5 555v1M305.5 555v1M312.5 544v6M313.5 544v6M314.5 540v9M315.5 540v9M320.5 569v1M320.5 572v7M320.5 588v7M321.5 569v1M321.5 572v7M321.5 588v7M322.5 581v3M322.5 587v2M323.5 581v3M323.5 587v2M324.5 566v11M324.5 584v3M325.5 566v11M325.5 584v3M326.5 565v2M326.5 570v5M326.5 597v3M327.5 565v2M327.5 570v5M327.5 597v3M328.5 566v2M328.5 573v5M328.5 585v4M328.5 592v6M328.5 601v5M329.5 566v2M329.5 573v5M329.5 585v4M329.5 592v6M329.5 601v5M332.5 588v2M332.5 600v7M333.5 588v2M333.5 600v7M334.5 614v1M335.5 614v1M338.5 567v1M338.5 596v2M338.5 615v4M339.5 567v1M339.5 596v2M339.5 615v4M340.5 579v1M340.5 618v5M341.5 579v1M341.5 618v5M342.5 575v2M342.5 581v2M342.5 623v2M343.5 575v2M343.5 581v2M343.5 623v2M344.5 559v4M344.5 564v4M344.5 572v2M345.5 559v4M345.5 564v4M345.5 572v2M346.5 559v9M346.5 575v3M346.5 581v7M346.5 627v1M347.5 559v9M347.5 575v3M347.5 581v7M347.5 627v1M348.5 556v4M348.5 586v7M348.5 596v9M348.5 609v4M348.5 616v6M348.5 628v1M349.5 556v4M349.5 586v7M349.5 596v9M349.5 609v4M349.5 616v6M349.5 628v1M350.5 569v1M350.5 572v7M350.5 607v1M350.5 613v3M350.5 618v10M351.5 569v1M351.5 572v7M351.5 607v1M351.5 613v3M351.5 618v10M352.5 581v3M352.5 607v7M353.5 581v3M353.5 607v7M354.5 550v1M354.5 581v4M354.5 589v5M354.5 616v2M355.5 550v1M355.5 581v4M355.5 589v5M355.5 616v2M356.5 549v1M356.5 565v5M356.5 578v4M356.5 584v3M356.5 593v3M357.5 549v1M357.5 565v5M357.5 578v4M357.5 584v3M357.5 593v3M358.5 549v9M358.5 563v2M358.5 597v2M359.5 549v9M359.5 563v2M359.5 597v2M360.5 559v2M360.5 564v1M361.5 559v2M361.5 564v1M362.5 548v5M362.5 566v2M363.5 548v5M363.5 566v2M366.5 571v4M366.5 582v1M367.5 571v4M367.5 582v1M368.5 574v1M368.5 600v3M369.5 574v1M369.5 600v3M372.5 549v13M372.5 598v1M373.5 549v13M373.5 598v1M374.5 554v2M375.5 554v2M376.5 552v7M376.5 596v4M376.5 605v1M376.5 611v8M376.5 637v1M377.5 552v7M377.5 596v4M377.5 605v1M377.5 611v8M377.5 637v1M378.5 581v2M379.5 581v2M380.5 578v2M381.5 578v2M382.5 576v1M383.5 576v1M384.5 546v9M384.5 574v1M385.5 546v9M385.5 574v1M386.5 547v9M386.5 558v3M386.5 572v1M387.5 547v9M387.5 558v3M387.5 572v1M388.5 551v1M388.5 559v4M388.5 570v1M389.5 551v1M389.5 559v4M389.5 570v1M390.5 565v4M391.5 565v4M394.5 556v1M395.5 556v1M396.5 551v1M397.5 551v1M402.5 546v1M403.5 546v1M414.5 531v1M415.5 531v1M416.5 533v1M417.5 533v1M418.5 255v2M418.5 530v1M418.5 663v1M419.5 255v2M419.5 530v1M419.5 663v1M420.5 259v4M421.5 259v4M422.5 533v1M423.5 533v1M426.5 658v4M427.5 658v4M428.5 639v2M428.5 652v2M429.5 639v2M429.5 652v2M430.5 636v2M430.5 645v5M431.5 636v2M431.5 645v5M438.5 261v8M439.5 261v8M440.5 539v1M440.5 651v1M441.5 539v1M441.5 651v1M442.5 535v3M443.5 535v3M444.5 617v1M445.5 617v1M448.5 537v2M449.5 537v2M452.5 539v1M453.5 539v1M454.5 603v1M455.5 603v1M456.5 602v1M457.5 602v1M458.5 250v2M458.5 539v1M458.5 599v2M459.5 250v2M459.5 539v1M459.5 599v2M460.5 269v2M461.5 269v2M462.5 594v1M463.5 594v1M464.5 591v1M465.5 591v1M466.5 545v2M466.5 548v1M467.5 545v2M467.5 548v1M468.5 272v6M468.5 572v2M468.5 588v3M469.5 272v6M469.5 572v2M469.5 588v3M470.5 553v1M470.5 568v1M471.5 553v1M471.5 568v1M472.5 570v6M472.5 584v5M473.5 570v6M473.5 584v5M474.5 553v2M474.5 568v1M475.5 553v2M475.5 568v1M478.5 567v1M478.5 584v2M479.5 567v1M479.5 584v2M512.5 655v1M513.5 655v1M516.5 261v1M516.5 655v1M517.5 261v1M517.5 655v1M520.5 653v1M521.5 653v1M536.5 651v1M537.5 651v1M540.5 261v1M540.5 654v2M541.5 261v1M541.5 654v2M542.5 249v3M543.5 249v3M544.5 249v3M544.5 269v1M545.5 249v3M545.5 269v1M554.5 276v1M555.5 276v1M556.5 275v1M557.5 275v1M558.5 274v2M559.5 274v2M564.5 279v2M564.5 650v2M565.5 279v2M565.5 650v2M566.5 262v4M566.5 268v4M567.5 262v4M567.5 268v4M584.5 270v3M584.5 276v2M585.5 270v3M585.5 276v2M586.5 275v3M586.5 555v4M586.5 614v3M587.5 275v3M587.5 555v4M587.5 614v3M588.5 568v5M588.5 585v4M588.5 610v2M588.5 635v2M589.5 568v5M589.5 585v4M589.5 610v2M589.5 635v2M590.5 556v4M590.5 589v1M590.5 644v3M591.5 556v4M591.5 589v1M591.5 644v3M592.5 557v1M593.5 557v1M594.5 554v3M595.5 554v3M602.5 553v1M603.5 553v1M606.5 552v1M607.5 552v1M608.5 554v1M609.5 554v1M610.5 553v1M611.5 553v1M618.5 545v2M619.5 545v2M620.5 545v1M621.5 545v1M622.5 544v1M622.5 546v1M623.5 544v1M623.5 546v1M624.5 547v1M625.5 547v1M628.5 544v1M629.5 544v1M640.5 647v2M641.5 647v2M648.5 653v1M649.5 653v1M650.5 653v1M651.5 653v1M656.5 655v1M657.5 655v1M662.5 654v1M663.5 654v1M668.5 573v5M669.5 573v5M670.5 569v2M670.5 654v1M671.5 569v2M671.5 654v1M672.5 565v1M672.5 572v5M673.5 565v1M673.5 572v5M674.5 581v3M674.5 654v1M675.5 581v3M675.5 654v1M676.5 563v2M676.5 589v2M676.5 654v1M677.5 563v2M677.5 589v2M677.5 654v1M678.5 569v5M678.5 581v8M679.5 569v5M679.5 581v8M680.5 569v3M680.5 576v8M680.5 587v3M681.5 569v3M681.5 576v8M681.5 587v3M682.5 565v1M682.5 584v2M682.5 588v2M682.5 653v1M683.5 565v1M683.5 584v2M683.5 588v2M683.5 653v1M684.5 568v5M684.5 583v6M684.5 655v1M685.5 568v5M685.5 583v6M685.5 655v1M686.5 565v1M686.5 591v1M687.5 565v1M687.5 591v1M688.5 590v1M689.5 590v1M690.5 651v1M691.5 651v1M692.5 572v5M692.5 582v2M692.5 653v1M693.5 572v5M693.5 582v2M693.5 653v1M694.5 654v1M695.5 654v1M696.5 576v4M697.5 576v4M698.5 652v1M699.5 652v1M700.5 580v5M700.5 591v1M700.5 655v1M701.5 580v5M701.5 591v1M701.5 655v1M702.5 584v3M702.5 590v5M703.5 584v3M703.5 590v5M704.5 600v1M704.5 654v1M705.5 600v1M705.5 654v1M710.5 654v1M711.5 654v1M714.5 653v1M715.5 653v1M720.5 653v1M721.5 653v1M728.5 651v1M728.5 653v1M729.5 651v1M729.5 653v1M730.5 650v1M730.5 653v1M731.5 650v1M731.5 653v1M762.5 651v1M762.5 653v2M763.5 651v1M763.5 653v2M764.5 651v1M764.5 653v1M765.5 651v1M765.5 653v1M768.5 652v1M769.5 652v1M776.5 653v1M777.5 653v1M778.5 652v1M778.5 654v1M779.5 652v1M779.5 654v1M784.5 652v2M785.5 652v2M786.5 609v8M787.5 612v5M790.5 653v1M791.5 653v1M792.5 652v1M792.5 654v1M793.5 652v1M793.5 654v1M794.5 654v1M795.5 654v1M796.5 651v1M797.5 651v1M808.5 652v1M808.5 655v1M809.5 652v1M809.5 655v1M812.5 654v1M813.5 654v1M816.5 271v6M817.5 271v6M818.5 274v2M819.5 274v2M824.5 653v1M825.5 653v1M826.5 273v6M826.5 282v1M827.5 273v6M827.5 282v1M830.5 266v4M830.5 651v1M831.5 266v4M831.5 651v1M832.5 289v1M832.5 654v1M833.5 289v1M833.5 604v5M833.5 654v1M834.5 652v2M835.5 652v2M836.5 283v3M837.5 283v3M838.5 268v2M839.5 268v2M840.5 264v6M840.5 282v3M841.5 264v6M841.5 282v3M844.5 263v6M844.5 654v1M845.5 263v6M845.5 654v1M846.5 269v2M846.5 281v5M847.5 269v2M847.5 281v5M848.5 271v2M848.5 277v2M848.5 280v2M849.5 271v2M849.5 277v2M849.5 280v2M850.5 272v4M850.5 282v2M850.5 653v2M851.5 272v4M851.5 282v2M851.5 653v2M852.5 273v10M852.5 653v2M853.5 273v10M853.5 653v2M856.5 266v2M857.5 266v2M858.5 269v1M859.5 269v1M862.5 655v1M863.5 655v1M864.5 652v1M865.5 652v1M866.5 281v1M867.5 281v1M868.5 654v1M869.5 654v1M870.5 277v2M870.5 290v2M870.5 649v2M870.5 653v1M871.5 277v2M871.5 290v2M871.5 649v2M871.5 653v1M872.5 279v2M872.5 291v3M873.5 279v2M873.5 291v3M874.5 650v1M875.5 650v1M876.5 654v1M877.5 654v1M878.5 287v1M878.5 293v2M878.5 652v1M879.5 287v1M879.5 293v2M879.5 652v1M880.5 286v7M880.5 651v2M881.5 286v7M881.5 651v2M884.5 296v1M885.5 296v1M888.5 265v1M888.5 585v1M888.5 653v1M889.5 265v1M889.5 585v1M889.5 653v1M890.5 264v1M890.5 288v4M890.5 295v12M891.5 264v1M891.5 288v4M891.5 295v12M892.5 268v4M892.5 294v5M892.5 601v3M893.5 268v4M893.5 294v5M893.5 601v3M894.5 295v1M894.5 592v2M894.5 604v2M894.5 651v3M895.5 295v1M895.5 592v2M895.5 604v2M895.5 651v3M896.5 296v7M897.5 296v7M898.5 273v1M898.5 295v2M899.5 273v1M899.5 295v2M900.5 276v3M900.5 281v2M900.5 290v12M901.5 276v3M901.5 281v2M901.5 290v12M902.5 271v3M903.5 271v3M910.5 291v2M911.5 291v2M912.5 288v1M912.5 653v1M913.5 288v1M913.5 653v1M914.5 291v1M915.5 291v1M916.5 653v1M917.5 653v1M918.5 290v1M919.5 290v1M920.5 650v1M920.5 655v1M921.5 650v1M921.5 655v1M922.5 651v1M923.5 651v1M924.5 276v5M924.5 284v3M924.5 651v1M924.5 653v1M925.5 276v5M925.5 284v3M925.5 651v1M925.5 653v1M926.5 276v2M926.5 288v1M926.5 291v2M926.5 654v1M927.5 276v2M927.5 288v1M927.5 291v2M927.5 654v1M928.5 272v2M928.5 290v3M929.5 272v2M929.5 290v3M930.5 655v1M931.5 655v1M932.5 280v3M933.5 280v3M934.5 280v5M935.5 280v5M936.5 292v1M936.5 296v3M936.5 651v1M937.5 292v1M937.5 296v3M937.5 651v1M938.5 288v3M938.5 296v4M939.5 288v3M939.5 296v4M940.5 296v4M941.5 296v4M964.5 576v2M964.5 590v2M965.5 576v2M965.5 590v2M966.5 559v4M966.5 605v8M967.5 559v4M967.5 605v8M968.5 562v1M968.5 625v5M968.5 640v3M969.5 562v1M969.5 625v5M969.5 640v3"/>
<path stroke="#0063ff" d="M170.5 618v1M170.5 651v3M171.5 618v1M171.5 651v3M174.5 527v1M175.5 527v1M176.5 630v1M176.5 635v7M176.5 645v1M176.5 652v1M176.5 658v1M177.5 630v1M177.5 635v7M177.5 645v1M177.5 652v1M177.5 658v1M178.5 627v1M178.5 648v1M178.5 653v2M179.5 627v1M179.5 648v1M179.5 653v2M180.5 621v2M180.5 646v1M181.5 621v2M181.5 646v1M182.5 624v3M182.5 647v1M182.5 655v4M183.5 624v3M183.5 647v1M183.5 655v4M184.5 529v1M184.5 620v3M184.5 658v1M185.5 529v1M185.5 620v3M185.5 658v1M186.5 530v1M186.5 617v1M186.5 632v6M186.5 644v3M187.5 530v1M187.5 617v1M187.5 632v6M187.5 644v3M188.5 607v2M188.5 627v3M188.5 631v9M188.5 642v5M189.5 607v2M189.5 627v3M189.5 631v9M189.5 642v5M190.5 607v15M190.5 623v7M190.5 633v11M190.5 647v8M191.5 607v15M191.5 623v7M191.5 633v11M191.5 647v8M192.5 531v1M192.5 606v4M193.5 531v1M193.5 606v4M194.5 601v1M194.5 609v2M195.5 601v1M195.5 609v2M196.5 531v3M196.5 597v1M196.5 615v2M196.5 645v2M196.5 657v1M197.5 531v3M197.5 597v1M197.5 615v2M197.5 645v2M197.5 657v1M198.5 540v1M198.5 609v1M199.5 540v1M199.5 609v1M200.5 592v3M200.5 613v10M200.5 653v4M201.5 592v3M201.5 613v10M201.5 653v4M202.5 548v2M202.5 585v1M202.5 658v1M203.5 548v2M203.5 585v1M203.5 658v1M204.5 554v1M204.5 582v1M204.5 656v1M205.5 554v1M205.5 582v1M205.5 656v1M206.5 557v1M206.5 583v3M206.5 609v2M206.5 615v2M206.5 642v2M206.5 647v2M206.5 652v6M207.5 557v1M207.5 583v3M207.5 609v2M207.5 615v2M207.5 642v2M207.5 647v2M207.5 652v6M208.5 561v2M208.5 575v2M208.5 583v1M208.5 607v3M208.5 620v2M208.5 643v1M208.5 648v4M208.5 657v1M209.5 561v2M209.5 575v2M209.5 583v1M209.5 607v3M209.5 620v2M209.5 643v1M209.5 648v4M209.5 657v1M210.5 566v2M210.5 578v1M210.5 627v3M210.5 641v2M210.5 651v2M211.5 566v2M211.5 578v1M211.5 627v3M211.5 641v2M211.5 651v2M212.5 569v5M212.5 581v1M212.5 607v5M212.5 663v1M213.5 569v5M213.5 581v1M213.5 607v5M213.5 663v1M214.5 571v2M214.5 658v1M215.5 571v2M215.5 658v1M216.5 660v3M217.5 660v3M220.5 658v1M221.5 658v1M222.5 570v1M222.5 584v1M222.5 646v3M222.5 651v3M222.5 656v1M223.5 570v1M223.5 584v1M223.5 646v3M223.5 651v3M223.5 656v1M224.5 569v1M224.5 646v2M224.5 657v1M225.5 569v1M225.5 646v2M225.5 657v1M226.5 658v1M227.5 658v1M228.5 570v1M228.5 641v12M228.5 658v1M229.5 570v1M229.5 641v12M229.5 658v1M230.5 570v1M230.5 582v2M230.5 613v5M230.5 623v9M230.5 637v6M230.5 650v2M230.5 657v1M231.5 570v1M231.5 582v2M231.5 613v5M231.5 623v9M231.5 637v6M231.5 650v2M231.5 657v1M232.5 571v2M232.5 614v5M232.5 621v1M233.5 571v2M233.5 614v5M233.5 621v1M234.5 569v1M234.5 588v1M234.5 610v3M234.5 632v4M234.5 652v4M235.5 569v1M235.5 588v1M235.5 610v3M235.5 632v4M235.5 652v4M236.5 588v2M236.5 635v1M237.5 588v2M237.5 635v1M238.5 592v1M238.5 595v8M239.5 592v1M239.5 595v8M240.5 593v2M241.5 593v2M242.5 568v1M243.5 568v1M244.5 543v2M244.5 567v1M245.5 543v2M245.5 567v1M246.5 565v1M246.5 594v1M246.5 597v1M247.5 565v1M247.5 594v1M247.5 597v1M248.5 549v2M248.5 565v1M248.5 594v2M248.5 608v3M248.5 614v4M248.5 622v5M248.5 630v3M249.5 549v2M249.5 565v1M249.5 594v2M249.5 608v3M249.5 614v4M249.5 622v5M249.5 630v3M250.5 564v1M250.5 595v1M250.5 600v1M250.5 635v1M251.5 564v1M251.5 595v1M251.5 600v1M251.5 635v1M252.5 561v1M252.5 595v1M252.5 653v4M253.5 561v1M253.5 595v1M253.5 653v4M254.5 558v1M254.5 657v1M255.5 558v1M255.5 657v1M256.5 559v1M257.5 559v1M258.5 557v1M258.5 595v1M259.5 557v1M259.5 595v1M260.5 546v1M260.5 560v1M261.5 546v1M261.5 560v1M262.5 564v1M262.5 596v1M263.5 564v1M263.5 596v1M264.5 564v1M264.5 595v1M264.5 598v2M265.5 564v1M265.5 595v1M265.5 598v2M266.5 562v1M266.5 595v2M267.5 562v1M267.5 595v2M268.5 549v1M268.5 554v2M268.5 560v1M268.5 598v2M269.5 549v1M269.5 554v2M269.5 560v1M269.5 598v2M270.5 547v2M270.5 555v2M270.5 559v1M270.5 598v3M271.5 547v2M271.5 555v2M271.5 559v1M271.5 598v3M272.5 563v1M273.5 563v1M274.5 595v1M274.5 626v1M275.5 595v1M275.5 626v1M276.5 561v1M276.5 592v1M276.5 597v1M277.5 561v1M277.5 592v1M277.5 597v1M278.5 562v1M278.5 591v1M278.5 599v9M279.5 562v1M279.5 591v1M279.5 599v9M280.5 561v2M281.5 561v2M282.5 592v1M282.5 616v2M283.5 592v1M283.5 616v2M284.5 568v1M284.5 591v1M284.5 613v2M284.5 619v1M284.5 650v1M285.5 568v1M285.5 591v1M285.5 613v2M285.5 619v1M285.5 650v1M286.5 583v2M286.5 626v1M286.5 630v1M287.5 583v2M287.5 626v1M287.5 630v1M288.5 568v1M288.5 587v1M288.5 639v1M289.5 568v1M289.5 587v1M289.5 639v1M290.5 591v1M291.5 591v1M292.5 590v1M292.5 634v2M292.5 638v1M293.5 590v1M293.5 634v2M293.5 638v1M296.5 566v1M296.5 641v1M297.5 566v1M297.5 641v1M298.5 542v1M298.5 564v1M298.5 590v5M298.5 598v7M298.5 606v1M298.5 646v1M298.5 663v1M299.5 542v1M299.5 564v1M299.5 590v5M299.5 598v7M299.5 606v1M299.5 646v1M299.5 663v1M300.5 543v1M300.5 658v1M300.5 663v1M301.5 543v1M301.5 658v1M301.5 663v1M302.5 543v1M303.5 543v1M304.5 554v1M304.5 652v2M305.5 554v1M305.5 652v2M318.5 548v6M319.5 548v6M320.5 570v2M320.5 579v9M321.5 570v2M321.5 579v9M322.5 584v3M323.5 584v3M324.5 565v1M325.5 565v1M328.5 568v5M328.5 578v3M328.5 583v2M328.5 598v3M329.5 568v5M329.5 578v3M329.5 583v2M329.5 598v3M332.5 590v2M332.5 597v3M333.5 590v2M333.5 597v3M334.5 578v2M334.5 609v5M335.5 578v2M335.5 609v5M336.5 575v1M336.5 615v3M337.5 575v1M337.5 615v3M338.5 568v3M338.5 572v7M338.5 583v5M338.5 593v3M338.5 598v2M338.5 611v4M338.5 619v2M339.5 568v3M339.5 572v7M339.5 583v5M339.5 593v3M339.5 598v2M339.5 611v4M339.5 619v2M340.5 580v5M340.5 612v6M341.5 580v5M341.5 612v6M342.5 577v4M342.5 583v2M342.5 618v5M343.5 577v4M343.5 583v2M343.5 618v5M344.5 574v2M344.5 628v1M345.5 574v2M345.5 628v1M346.5 558v1M346.5 578v3M346.5 588v6M346.5 612v5M346.5 621v6M347.5 558v1M347.5 578v3M347.5 588v6M347.5 612v5M347.5 621v6M348.5 622v1M348.5 627v1M349.5 622v1M349.5 627v1M350.5 554v1M350.5 561v3M350.5 566v3M350.5 579v10M350.5 591v16M350.5 616v2M351.5 554v1M351.5 561v3M351.5 566v3M351.5 579v10M351.5 591v16M351.5 616v2M352.5 578v3M352.5 584v14M352.5 599v8M353.5 578v3M353.5 584v14M353.5 599v8M354.5 551v3M354.5 561v1M354.5 579v2M354.5 585v4M354.5 594v4M354.5 614v2M355.5 551v3M355.5 561v1M355.5 579v2M355.5 585v4M355.5 594v4M355.5 614v2M356.5 550v1M356.5 562v3M356.5 570v2M356.5 576v2M356.5 582v2M356.5 596v3M356.5 615v4M357.5 550v1M357.5 562v3M357.5 570v2M357.5 576v2M357.5 582v2M357.5 596v3M357.5 615v4M358.5 558v5M358.5 599v2M359.5 558v5M359.5 599v2M360.5 546v2M360.5 550v1M360.5 558v1M360.5 561v3M361.5 546v2M361.5 550v1M361.5 558v1M361.5 561v3M362.5 553v2M362.5 560v6M363.5 553v2M363.5 560v6M364.5 567v1M365.5 567v1M366.5 570v1M366.5 583v1M367.5 570v1M367.5 583v1M368.5 563v4M368.5 568v6M369.5 563v4M369.5 568v6M372.5 562v1M372.5 597v1M373.5 562v1M373.5 597v1M374.5 547v7M375.5 547v7M376.5 595v1M377.5 595v1M378.5 583v1M379.5 583v1M380.5 580v1M381.5 580v1M382.5 577v1M383.5 577v1M384.5 575v1M385.5 575v1M388.5 571v1M389.5 571v1M390.5 569v1M391.5 569v1M394.5 557v2M395.5 557v2M396.5 552v2M397.5 552v2M400.5 547v1M401.5 547v1M402.5 547v3M403.5 547v3M406.5 530v1M407.5 530v1M408.5 532v1M409.5 532v1M414.5 532v1M415.5 532v1M418.5 254v1M418.5 531v1M418.5 662v1M419.5 254v1M419.5 531v1M419.5 662v1M420.5 252v1M420.5 258v1M420.5 530v2M421.5 252v1M421.5 258v1M421.5 530v2M422.5 534v1M422.5 663v1M423.5 534v1M423.5 663v1M424.5 535v1M424.5 656v3M424.5 663v1M425.5 535v1M425.5 656v3M425.5 663v1M426.5 533v2M426.5 656v2M427.5 533v2M427.5 656v2M428.5 638v1M428.5 641v1M428.5 649v3M429.5 638v1M429.5 641v1M429.5 649v3M430.5 635v1M431.5 635v1M432.5 538v1M433.5 538v1M436.5 538v1M436.5 632v1M437.5 538v1M437.5 632v1M438.5 269v1M439.5 269v1M442.5 538v1M443.5 538v1M444.5 616v1M445.5 616v1M446.5 539v1M446.5 614v1M447.5 539v1M447.5 614v1M448.5 539v1M449.5 539v1M450.5 540v1M451.5 540v1M452.5 598v3M452.5 605v1M453.5 598v3M453.5 605v1M454.5 538v1M454.5 602v1M455.5 538v1M455.5 602v1M456.5 601v1M457.5 601v1M458.5 252v1M458.5 540v1M458.5 597v2M459.5 252v1M459.5 540v1M459.5 597v2M460.5 248v4M460.5 266v3M460.5 594v1M461.5 248v4M461.5 266v3M461.5 594v1M462.5 251v4M462.5 593v1M463.5 251v4M463.5 593v1M464.5 589v2M465.5 589v2M466.5 549v2M466.5 590v4M467.5 549v2M467.5 590v4M468.5 271v1M468.5 278v3M468.5 570v2M468.5 574v4M468.5 586v2M469.5 271v1M469.5 278v3M469.5 570v2M469.5 574v4M469.5 586v2M470.5 554v9M470.5 567v1M471.5 554v9M471.5 567v1M472.5 569v1M473.5 569v1M474.5 555v2M474.5 566v2M475.5 555v2M475.5 566v2M478.5 566v1M479.5 566v1M514.5 256v3M515.5 256v3M516.5 257v4M516.5 262v2M516.5 652v2M517.5 257v4M517.5 262v2M517.5 652v2M518.5 655v1M519.5 655v1M520.5 652v1M521.5 652v1M538.5 260v3M539.5 260v3M540.5 259v2M541.5 259v2M542.5 252v3M543.5 252v3M544.5 252v1M544.5 267v2M545.5 252v1M545.5 267v2M546.5 250v2M547.5 250v2M554.5 275v1M555.5 275v1M556.5 274v1M557.5 274v1M558.5 272v2M559.5 272v2M564.5 278v1M564.5 652v1M564.5 655v1M565.5 278v1M565.5 652v1M565.5 655v1M566.5 257v1M566.5 260v2M566.5 266v2M567.5 257v1M567.5 260v2M567.5 266v2M572.5 271v1M573.5 271v1M584.5 273v3M585.5 273v3M588.5 573v2M588.5 579v6M588.5 612v4M588.5 633v2M589.5 573v2M589.5 579v6M589.5 612v4M589.5 633v2M590.5 560v2M590.5 587v2M590.5 590v13M590.5 643v1M591.5 560v2M591.5 587v2M591.5 590v13M591.5 643v1M592.5 558v1M593.5 558v1M596.5 556v1M597.5 556v1M598.5 555v1M599.5 555v1M604.5 550v2M605.5 550v2M606.5 553v1M607.5 553v1M620.5 546v1M621.5 546v1M628.5 545v1M629.5 545v1M636.5 301v1M637.5 301v1M640.5 546v2M640.5 649v2M641.5 546v2M641.5 649v2M644.5 650v1M644.5 653v1M645.5 650v1M645.5 653v1M646.5 655v1M647.5 655v1M648.5 652v1M649.5 652v1M650.5 654v1M651.5 654v1M652.5 654v1M653.5 654v1M654.5 652v1M655.5 652v1M656.5 653v1M657.5 653v1M658.5 652v3M659.5 652v3M662.5 652v1M663.5 652v1M668.5 571v2M669.5 571v2M670.5 565v4M670.5 653v1M671.5 565v4M671.5 653v1M672.5 566v6M673.5 566v6M674.5 566v6M674.5 578v3M674.5 584v6M674.5 652v1M675.5 566v6M675.5 578v3M675.5 584v6M675.5 652v1M676.5 565v1M676.5 569v7M676.5 582v7M676.5 653v1M677.5 565v1M677.5 569v7M677.5 582v7M677.5 653v1M678.5 574v7M678.5 652v1M678.5 654v1M679.5 574v7M679.5 652v1M679.5 654v1M682.5 566v18M683.5 566v18M684.5 573v10M684.5 653v2M685.5 573v10M685.5 653v2M686.5 566v7M686.5 585v2M686.5 590v1M687.5 566v7M687.5 585v2M687.5 590v1M688.5 589v1M689.5 589v1M690.5 570v8M690.5 581v5M690.5 650v1M690.5 653v1M691.5 570v8M691.5 581v5M691.5 650v1M691.5 653v1M692.5 577v5M692.5 584v2M692.5 654v1M693.5 577v5M693.5 584v2M693.5 654v1M694.5 573v2M694.5 653v1M695.5 573v2M695.5 653v1M696.5 580v4M696.5 652v1M697.5 580v4M697.5 652v1M700.5 585v2M700.5 589v2M700.5 652v2M701.5 585v2M701.5 589v2M701.5 652v2M702.5 651v1M702.5 656v1M703.5 651v1M703.5 656v1M704.5 585v8M704.5 596v4M705.5 585v8M705.5 596v4M708.5 653v2M709.5 653v2M724.5 655v1M725.5 655v1M728.5 652v1M728.5 654v1M729.5 652v1M729.5 654v1M730.5 651v1M730.5 655v1M731.5 651v1M731.5 655v1M746.5 654v1M747.5 654v1M760.5 652v2M760.5 655v1M761.5 652v2M761.5 655v1M764.5 655v1M765.5 655v1M768.5 654v1M769.5 654v1M774.5 654v1M775.5 654v1M776.5 654v2M777.5 654v2M778.5 655v1M779.5 655v1M782.5 655v1M783.5 655v1M784.5 654v1M785.5 654v1M786.5 653v2M787.5 653v2M790.5 652v1M790.5 655v1M791.5 652v1M791.5 655v1M794.5 653v1M795.5 653v1M796.5 655v1M797.5 655v1M808.5 651v1M809.5 651v1M816.5 277v2M817.5 277v2M818.5 276v1M818.5 654v1M819.5 276v1M819.5 654v1M822.5 653v1M823.5 653v1M824.5 652v1M824.5 654v1M825.5 652v1M825.5 654v1M826.5 279v3M826.5 283v5M827.5 279v3M827.5 283v5M828.5 266v9M829.5 266v9M830.5 264v2M830.5 270v1M830.5 653v1M831.5 264v2M831.5 270v1M831.5 653v1M832.5 264v5M832.5 287v2M832.5 653v1M833.5 264v5M833.5 287v2M833.5 653v1M834.5 286v1M834.5 650v1M835.5 286v1M835.5 650v1M836.5 265v7M836.5 282v1M837.5 265v7M837.5 282v1M838.5 270v2M838.5 282v5M838.5 652v2M839.5 270v2M839.5 282v5M839.5 652v2M840.5 270v9M840.5 280v2M840.5 654v1M841.5 270v9M841.5 280v2M841.5 654v1M842.5 285v2M843.5 285v2M844.5 269v2M844.5 282v3M845.5 269v2M845.5 282v3M846.5 271v6M846.5 279v2M847.5 271v6M847.5 279v2M848.5 279v1M849.5 279v1M850.5 276v6M850.5 284v2M850.5 655v1M851.5 276v6M851.5 284v2M851.5 655v1M854.5 651v1M855.5 651v1M856.5 268v2M857.5 268v2M858.5 270v3M858.5 287v1M859.5 270v3M859.5 287v1M860.5 268v2M861.5 268v2M862.5 268v2M863.5 268v2M864.5 269v4M864.5 276v5M864.5 287v2M865.5 269v4M865.5 276v5M865.5 287v2M866.5 274v7M866.5 282v2M866.5 288v4M867.5 274v7M867.5 282v2M867.5 288v4M868.5 653v1M869.5 653v1M870.5 279v1M870.5 288v2M870.5 651v1M870.5 654v1M871.5 279v1M871.5 288v2M871.5 651v1M871.5 654v1M872.5 281v2M872.5 289v2M873.5 281v2M873.5 289v2M874.5 291v2M875.5 291v2M876.5 284v2M876.5 292v3M877.5 284v2M877.5 292v3M882.5 285v6M882.5 292v5M883.5 285v6M883.5 292v5M884.5 293v3M885.5 293v3M886.5 297v6M887.5 297v6M888.5 266v1M888.5 586v1M888.5 603v2M889.5 266v1M889.5 586v1M889.5 603v2M890.5 265v1M890.5 286v2M890.5 292v3M890.5 605v8M891.5 265v1M891.5 286v2M891.5 292v3M891.5 605v8M892.5 272v3M892.5 293v1M892.5 299v1M892.5 584v4M892.5 590v5M892.5 600v1M893.5 272v3M893.5 293v1M893.5 299v1M893.5 584v4M893.5 590v5M893.5 600v1M894.5 594v2M894.5 603v1M894.5 654v1M895.5 594v2M895.5 603v1M895.5 654v1M896.5 294v2M897.5 294v2M898.5 274v3M898.5 293v2M899.5 274v3M899.5 293v2M902.5 274v2M903.5 274v2M904.5 271v3M905.5 271v3M906.5 272v2M907.5 272v2M908.5 273v1M908.5 653v1M908.5 655v1M909.5 273v1M909.5 653v1M909.5 655v1M910.5 290v1M911.5 290v1M912.5 271v3M912.5 283v5M913.5 271v3M913.5 283v5M914.5 290v1M915.5 290v1M916.5 655v1M917.5 655v1M918.5 288v2M918.5 291v3M918.5 654v1M919.5 288v2M919.5 291v3M919.5 654v1M920.5 652v1M920.5 654v1M921.5 652v1M921.5 654v1M922.5 272v1M922.5 653v1M923.5 272v1M923.5 653v1M924.5 652v1M925.5 652v1M926.5 278v10M926.5 293v3M927.5 278v10M927.5 293v3M928.5 274v12M928.5 288v2M928.5 293v1M929.5 274v12M929.5 288v2M929.5 293v1M930.5 273v1M930.5 279v2M930.5 290v4M930.5 651v1M930.5 653v2M931.5 273v1M931.5 279v2M931.5 290v4M931.5 651v1M931.5 653v2M932.5 283v3M932.5 290v3M933.5 283v3M933.5 290v3M934.5 285v10M934.5 653v1M935.5 285v10M935.5 653v1M936.5 652v1M936.5 654v1M936.5 656v1M937.5 652v1M937.5 654v1M937.5 656v1M940.5 290v6M941.5 290v6M964.5 564v2M964.5 569v2M964.5 574v2M964.5 578v6M964.5 587v3M965.5 564v2M965.5 569v2M965.5 574v2M965.5 578v6M965.5 587v3M966.5 563v1M966.5 602v3M967.5 563v1M967.5 602v3M968.5 563v1M968.5 615v4M968.5 623v2M968.5 630v10M969.5 563v1M969.5 615v4M969.5 623v2M969.5 630v10"/>
<path stroke="#0080ff" d="M170.5 528v1M170.5 608v10M170.5 619v7M170.5 635v5M170.5 643v5M170.5 649v2M170.5 654v1M170.5 663v1M171.5 528v1M171.5 608v10M171.5 619v7M171.5 635v5M171.5 643v5M171.5 649v2M171.5 654v3M171.5 663v1M172.5 612v1M172.5 634v2M173.5 612v1M173.5 634v2M176.5 629v1M176.5 648v4M177.5 629v1M177.5 648v4M178.5 622v5M178.5 655v3M179.5 622v5M179.5 655v3M180.5 620v1M180.5 647v1M181.5 620v1M181.5 647v1M182.5 619v5M182.5 648v7M182.5 663v1M183.5 619v5M183.5 648v7M183.5 663v1M184.5 616v4M185.5 616v4M186.5 610v7M186.5 618v5M186.5 628v4M186.5 647v11M187.5 610v7M187.5 618v5M187.5 628v4M187.5 647v11M188.5 606v1M188.5 640v2M188.5 647v7M188.5 656v2M189.5 606v1M189.5 640v2M189.5 647v7M189.5 656v2M190.5 606v1M190.5 622v1M190.5 655v3M191.5 606v1M191.5 622v1M191.5 655v3M192.5 604v1M192.5 610v1M192.5 651v7M193.5 604v1M193.5 610v1M193.5 651v7M194.5 600v1M194.5 611v2M194.5 642v2M194.5 652v4M195.5 600v1M195.5 611v2M195.5 642v2M195.5 652v4M196.5 534v1M196.5 596v1M196.5 617v1M196.5 636v9M196.5 658v1M197.5 534v1M197.5 596v1M197.5 617v1M197.5 636v9M197.5 658v1M198.5 541v1M198.5 591v1M198.5 610v1M198.5 638v5M198.5 648v9M199.5 541v1M199.5 591v1M199.5 610v1M199.5 638v5M199.5 648v9M200.5 542v4M200.5 590v2M200.5 657v1M201.5 542v4M201.5 590v2M201.5 657v1M202.5 550v1M202.5 584v1M203.5 550v1M203.5 584v1M204.5 555v2M204.5 580v2M204.5 657v1M205.5 555v2M205.5 580v2M205.5 657v1M206.5 558v1M206.5 581v2M206.5 611v4M206.5 649v3M206.5 658v1M206.5 663v1M207.5 558v1M207.5 581v2M207.5 611v4M207.5 649v3M207.5 658v1M207.5 663v1M208.5 563v4M208.5 573v2M208.5 610v2M208.5 613v7M208.5 658v1M209.5 563v4M209.5 573v2M209.5 610v2M209.5 613v7M209.5 658v1M210.5 568v2M210.5 572v6M210.5 643v1M210.5 648v3M210.5 653v3M211.5 568v2M211.5 572v6M211.5 643v1M211.5 648v3M211.5 653v3M212.5 574v2M212.5 579v2M212.5 659v1M213.5 574v2M213.5 579v2M213.5 659v1M214.5 573v1M215.5 573v1M216.5 571v1M216.5 583v1M217.5 571v1M217.5 583v1M218.5 584v2M219.5 584v2M222.5 649v2M222.5 657v1M223.5 649v2M223.5 657v1M226.5 570v1M227.5 570v1M230.5 571v1M230.5 580v2M230.5 618v5M231.5 571v1M231.5 580v2M231.5 618v5M232.5 573v1M232.5 619v2M233.5 573v1M233.5 619v2M234.5 570v1M234.5 587v1M234.5 613v2M234.5 617v3M234.5 629v3M234.5 656v1M235.5 570v1M235.5 587v1M235.5 613v2M235.5 617v3M235.5 629v3M235.5 656v1M236.5 570v1M236.5 585v3M236.5 636v4M237.5 570v1M237.5 585v3M237.5 636v4M238.5 569v1M238.5 603v1M238.5 619v4M239.5 569v1M239.5 603v1M239.5 619v4M240.5 570v1M240.5 592v1M240.5 595v1M241.5 570v1M241.5 592v1M241.5 595v1M242.5 593v2M243.5 593v2M244.5 542v1M244.5 568v1M244.5 593v3M245.5 542v1M245.5 568v1M245.5 593v3M246.5 566v2M246.5 593v1M246.5 598v11M247.5 566v2M247.5 593v1M247.5 598v11M248.5 546v3M248.5 566v1M248.5 596v2M248.5 599v9M248.5 611v3M248.5 633v2M248.5 638v6M248.5 647v3M249.5 546v3M249.5 566v1M249.5 596v2M249.5 599v9M249.5 611v3M249.5 633v2M249.5 638v6M249.5 647v3M250.5 565v2M250.5 594v1M250.5 596v4M250.5 652v1M251.5 565v2M251.5 594v1M251.5 596v4M251.5 652v1M252.5 562v5M252.5 657v1M253.5 562v5M253.5 657v1M254.5 559v1M254.5 594v1M254.5 658v1M255.5 559v1M255.5 594v1M255.5 658v1M256.5 560v1M256.5 596v5M257.5 560v1M257.5 596v5M258.5 558v1M258.5 594v1M259.5 558v1M259.5 594v1M260.5 544v2M260.5 561v1M261.5 544v2M261.5 561v1M262.5 565v4M262.5 595v1M263.5 565v4M263.5 595v1M264.5 565v1M265.5 565v1M266.5 597v1M267.5 597v1M268.5 561v1M268.5 594v1M268.5 600v2M269.5 561v1M269.5 594v1M269.5 600v2M270.5 560v1M270.5 593v1M270.5 601v5M271.5 560v1M271.5 593v1M271.5 601v5M272.5 564v1M272.5 592v1M273.5 564v1M273.5 592v1M274.5 563v1M274.5 594v1M274.5 596v2M274.5 625v1M275.5 563v1M275.5 594v1M275.5 596v2M275.5 625v1M276.5 591v1M276.5 598v7M277.5 591v1M277.5 598v7M278.5 563v1M279.5 563v1M280.5 563v2M280.5 591v1M281.5 563v2M281.5 591v1M282.5 567v1M283.5 567v1M284.5 590v1M284.5 620v1M284.5 643v7M285.5 590v1M285.5 620v1M285.5 643v7M286.5 577v6M286.5 627v3M287.5 577v6M287.5 627v3M288.5 569v1M288.5 583v1M288.5 585v2M289.5 569v1M289.5 583v1M289.5 585v2M290.5 590v1M290.5 663v1M291.5 590v1M291.5 663v1M292.5 589v1M292.5 639v1M293.5 589v1M293.5 639v1M294.5 572v11M294.5 639v1M295.5 572v11M295.5 639v1M296.5 543v1M297.5 543v1M298.5 563v1M298.5 588v2M298.5 647v1M298.5 651v5M298.5 662v1M299.5 563v1M299.5 588v2M299.5 647v1M299.5 651v5M299.5 662v1M300.5 557v1M300.5 659v4M301.5 557v1M301.5 659v4M302.5 554v2M303.5 554v2M304.5 553v1M304.5 654v2M304.5 659v5M305.5 553v1M305.5 654v2M305.5 659v5M328.5 581v2M329.5 581v2M332.5 592v5M333.5 592v5M334.5 576v2M334.5 580v4M334.5 585v3M334.5 604v5M335.5 576v2M335.5 580v4M335.5 585v3M335.5 604v5M336.5 576v5M336.5 612v3M337.5 576v5M337.5 612v3M338.5 571v1M338.5 579v4M338.5 588v5M338.5 600v4M338.5 610v1M339.5 571v1M339.5 579v4M339.5 588v5M339.5 600v4M339.5 610v1M340.5 585v2M340.5 606v6M341.5 585v2M341.5 606v6M342.5 585v1M342.5 612v6M343.5 585v1M343.5 612v6M344.5 576v4M344.5 617v3M344.5 626v2M345.5 576v4M345.5 617v3M345.5 626v2M346.5 594v6M346.5 606v2M346.5 610v2M346.5 617v4M347.5 594v6M347.5 606v2M347.5 610v2M347.5 617v4M348.5 623v4M349.5 623v4M349.5 654v3M350.5 555v6M350.5 564v2M350.5 589v2M351.5 555v6M351.5 564v2M351.5 589v2M352.5 551v2M352.5 572v6M352.5 598v1M353.5 551v2M353.5 572v6M353.5 598v1M354.5 554v7M354.5 562v2M354.5 576v3M354.5 598v16M355.5 554v7M355.5 562v2M355.5 576v3M355.5 598v16M356.5 551v11M356.5 572v4M356.5 599v1M356.5 606v1M356.5 614v1M357.5 551v11M357.5 572v4M357.5 599v1M357.5 606v1M357.5 614v1M358.5 601v2M358.5 609v5M359.5 601v2M359.5 609v5M360.5 548v2M360.5 551v7M361.5 548v2M361.5 551v7M362.5 555v5M363.5 555v5M364.5 547v1M364.5 562v5M365.5 547v1M365.5 562v5M366.5 569v1M366.5 584v8M367.5 569v1M367.5 584v8M368.5 550v13M368.5 567v1M369.5 550v13M369.5 567v1M370.5 550v14M371.5 550v14M372.5 596v1M373.5 596v1M378.5 584v1M378.5 654v3M379.5 584v1M379.5 654v3M380.5 581v1M380.5 663v1M381.5 581v1M381.5 663v1M382.5 578v1M382.5 663v1M383.5 578v1M383.5 663v1M384.5 576v1M385.5 576v1M386.5 573v1M387.5 573v1M390.5 570v1M391.5 570v1M392.5 564v1M393.5 564v1M394.5 559v3M395.5 559v3M396.5 554v1M397.5 554v1M400.5 548v1M401.5 548v1M402.5 550v2M403.5 550v2M404.5 535v3M405.5 535v3M408.5 533v1M409.5 533v1M418.5 252v2M418.5 655v7M419.5 252v2M419.5 655v7M420.5 253v3M420.5 257v1M420.5 663v1M421.5 253v3M421.5 257v1M421.5 663v1M422.5 662v1M423.5 662v1M424.5 536v1M424.5 655v1M424.5 659v4M425.5 536v1M425.5 655v1M425.5 659v4M426.5 535v1M426.5 652v4M427.5 535v1M427.5 652v4M428.5 637v1M428.5 642v7M429.5 637v1M429.5 642v7M432.5 539v1M433.5 539v1M434.5 633v1M435.5 633v1M436.5 539v1M436.5 630v2M437.5 539v1M437.5 630v2M438.5 536v1M438.5 630v1M439.5 536v1M439.5 630v1M440.5 267v1M440.5 540v1M441.5 267v1M441.5 540v1M442.5 539v1M442.5 625v1M443.5 539v1M443.5 625v1M444.5 539v1M444.5 613v3M445.5 539v1M445.5 613v3M446.5 612v2M447.5 612v2M448.5 540v1M449.5 540v1M450.5 606v1M451.5 606v1M452.5 540v1M452.5 597v1M452.5 601v4M453.5 540v1M453.5 597v1M453.5 601v4M454.5 539v1M454.5 600v2M455.5 539v1M455.5 600v2M456.5 277v4M456.5 540v1M456.5 597v4M457.5 277v4M457.5 540v1M457.5 597v4M458.5 253v1M458.5 276v1M458.5 541v1M458.5 589v8M459.5 253v1M459.5 276v1M459.5 541v1M459.5 589v8M460.5 252v2M460.5 258v5M460.5 264v2M460.5 592v2M461.5 252v2M461.5 258v5M461.5 264v2M461.5 592v2M462.5 255v2M462.5 592v1M463.5 255v2M463.5 592v1M464.5 545v2M464.5 575v5M464.5 583v6M465.5 545v2M465.5 575v5M465.5 583v6M466.5 551v7M466.5 589v1M467.5 551v7M467.5 589v1M468.5 566v1M468.5 568v2M468.5 578v8M469.5 566v1M469.5 568v2M469.5 578v8M470.5 563v4M471.5 563v4M472.5 553v2M473.5 553v2M474.5 557v9M475.5 557v9M478.5 564v2M479.5 564v2M512.5 651v1M512.5 653v2M513.5 651v1M513.5 653v2M514.5 259v2M515.5 259v2M520.5 650v1M520.5 656v1M521.5 650v1M521.5 656v1M527.5 652v7M536.5 266v2M536.5 655v1M537.5 266v2M537.5 655v1M538.5 258v2M539.5 258v2M540.5 253v6M541.5 253v6M542.5 255v2M543.5 255v2M544.5 253v4M544.5 261v2M544.5 266v1M545.5 253v4M545.5 261v2M545.5 266v1M546.5 252v1M547.5 252v1M552.5 270v2M553.5 270v2M554.5 271v4M555.5 271v4M556.5 255v1M556.5 273v1M557.5 255v1M557.5 273v1M558.5 255v1M558.5 271v1M559.5 255v1M559.5 271v1M564.5 277v1M565.5 277v1M566.5 258v2M567.5 258v2M572.5 272v2M572.5 275v2M573.5 272v2M573.5 275v2M576.5 656v1M577.5 656v1M588.5 575v4M588.5 616v4M588.5 629v4M589.5 575v4M589.5 616v4M589.5 629v4M590.5 562v1M590.5 586v1M590.5 603v4M590.5 642v1M591.5 562v1M591.5 586v1M591.5 603v4M591.5 642v1M594.5 557v1M595.5 557v1M602.5 554v1M603.5 554v1M604.5 552v1M605.5 552v1M618.5 547v1M619.5 547v1M622.5 547v1M623.5 547v1M626.5 546v1M627.5 546v1M628.5 546v1M629.5 546v1M630.5 546v1M631.5 546v1M632.5 547v1M633.5 547v1M634.5 280v1M634.5 298v2M634.5 546v1M635.5 280v1M635.5 298v2M635.5 546v1M636.5 302v3M636.5 306v2M636.5 595v1M637.5 302v3M637.5 306v2M637.5 595v1M638.5 644v1M639.5 644v1M640.5 548v1M640.5 651v3M641.5 548v1M641.5 651v3M644.5 652v1M644.5 654v1M645.5 652v1M645.5 654v1M646.5 651v1M647.5 651v1M650.5 655v1M650.5 658v1M651.5 655v1M651.5 658v1M654.5 653v1M654.5 655v1M655.5 653v1M655.5 655v1M656.5 654v1M657.5 654v1M658.5 655v1M659.5 655v1M660.5 655v1M661.5 655v1M668.5 567v4M669.5 567v4M672.5 654v2M673.5 654v2M674.5 572v6M674.5 653v1M675.5 572v6M675.5 653v1M676.5 566v3M676.5 576v6M677.5 566v3M677.5 576v6M686.5 573v3M686.5 583v2M686.5 587v3M687.5 573v3M687.5 583v2M687.5 587v3M688.5 569v4M688.5 576v1M688.5 581v8M689.5 569v4M689.5 576v1M689.5 581v8M690.5 578v3M690.5 654v1M691.5 578v3M691.5 654v1M694.5 575v1M694.5 652v1M695.5 575v1M695.5 652v1M696.5 584v1M697.5 584v1M700.5 587v2M701.5 587v2M702.5 655v1M703.5 655v1M704.5 593v3M705.5 593v3M712.5 655v1M713.5 655v1M714.5 657v1M715.5 657v1M720.5 652v1M721.5 652v1M724.5 654v1M725.5 654v1M734.5 657v1M735.5 657v1M742.5 653v1M743.5 653v1M746.5 652v1M746.5 655v1M747.5 652v1M747.5 655v1M760.5 650v2M760.5 654v1M760.5 657v1M761.5 650v2M761.5 654v1M761.5 657v1M764.5 654v1M765.5 654v1M774.5 653v1M775.5 653v1M776.5 657v1M777.5 657v1M782.5 653v1M783.5 653v1M788.5 653v1M789.5 653v1M792.5 653v1M793.5 653v1M794.5 655v1M795.5 655v1M796.5 653v2M797.5 653v2M810.5 652v2M811.5 652v2M812.5 653v1M813.5 653v1M816.5 279v1M816.5 653v1M817.5 279v1M817.5 653v1M818.5 277v4M818.5 655v2M819.5 277v4M819.5 655v2M822.5 656v1M823.5 656v1M828.5 275v12M829.5 275v12M830.5 271v7M830.5 654v2M831.5 271v7M831.5 654v2M832.5 269v1M832.5 281v6M832.5 655v1M833.5 269v1M833.5 281v6M833.5 655v1M834.5 282v4M835.5 282v4M836.5 272v2M836.5 280v2M837.5 272v2M837.5 280v2M838.5 272v10M838.5 654v2M839.5 272v10M839.5 654v2M840.5 279v1M840.5 652v1M840.5 658v1M841.5 279v1M841.5 652v1M841.5 658v1M842.5 267v2M842.5 282v3M842.5 653v2M843.5 267v2M843.5 282v3M843.5 653v2M844.5 271v2M844.5 281v1M845.5 271v2M845.5 281v1M846.5 277v2M847.5 277v2M854.5 269v1M854.5 653v1M855.5 269v1M855.5 653v1M856.5 270v1M857.5 270v1M858.5 273v6M858.5 285v2M858.5 288v2M859.5 273v6M859.5 285v2M859.5 288v2M860.5 270v1M861.5 270v1M862.5 270v2M862.5 653v2M863.5 270v2M863.5 653v2M864.5 273v3M864.5 281v6M864.5 653v1M865.5 273v3M865.5 281v6M865.5 653v1M866.5 270v4M866.5 284v4M867.5 270v4M867.5 284v4M868.5 272v4M869.5 272v4M870.5 280v8M871.5 280v8M872.5 283v6M873.5 283v6M874.5 290v1M874.5 293v3M874.5 655v2M875.5 290v1M875.5 293v3M875.5 655v2M876.5 286v1M876.5 290v2M877.5 286v1M877.5 290v2M878.5 651v1M879.5 651v1M880.5 653v2M881.5 653v2M882.5 281v4M882.5 291v1M882.5 297v2M883.5 281v4M883.5 291v1M883.5 297v2M884.5 290v3M885.5 290v3M886.5 261v3M886.5 292v5M886.5 592v5M887.5 261v3M887.5 292v5M887.5 592v5M888.5 267v4M888.5 286v13M888.5 587v1M888.5 592v2M888.5 600v3M889.5 267v4M889.5 286v13M889.5 587v1M889.5 592v2M889.5 600v3M890.5 266v4M890.5 283v3M890.5 584v2M890.5 604v1M891.5 266v4M891.5 283v3M891.5 584v2M891.5 604v1M892.5 275v10M892.5 289v4M892.5 581v3M892.5 588v2M892.5 595v1M892.5 599v1M893.5 275v10M893.5 289v4M893.5 581v3M893.5 588v2M893.5 595v1M893.5 599v1M894.5 263v5M894.5 293v2M894.5 596v7M895.5 263v5M895.5 293v2M895.5 596v7M896.5 272v3M896.5 288v6M897.5 272v3M897.5 288v6M898.5 277v13M898.5 292v1M899.5 277v13M899.5 292v1M902.5 276v3M902.5 294v7M902.5 304v1M903.5 276v3M903.5 294v7M903.5 304v1M904.5 274v2M904.5 278v2M905.5 274v2M905.5 278v2M906.5 274v1M907.5 274v1M908.5 274v5M908.5 296v2M909.5 274v5M909.5 296v2M910.5 273v2M910.5 289v1M911.5 273v2M911.5 289v1M912.5 274v3M912.5 278v5M912.5 652v1M913.5 274v3M913.5 278v5M913.5 652v1M914.5 275v1M914.5 289v1M915.5 275v1M915.5 289v1M916.5 289v9M916.5 657v1M917.5 289v9M917.5 657v1M918.5 275v2M918.5 280v8M919.5 275v2M919.5 280v8M922.5 273v1M922.5 652v1M923.5 273v1M923.5 652v1M924.5 657v1M925.5 657v1M926.5 653v1M927.5 653v1M928.5 286v2M929.5 286v2M930.5 274v5M930.5 281v1M930.5 288v2M931.5 274v5M931.5 281v1M931.5 288v2M932.5 286v4M932.5 293v2M932.5 651v1M932.5 654v1M933.5 286v4M933.5 293v2M933.5 651v1M933.5 654v1M934.5 295v4M935.5 295v4M940.5 289v1M941.5 289v1M950.5 652v1M951.5 652v1M964.5 566v3M964.5 571v3M964.5 584v3M965.5 566v3M965.5 571v3M965.5 584v3M966.5 597v5M967.5 597v5M968.5 613v2M968.5 619v4M969.5 613v2M969.5 619v4"/>
<path stroke="#009cff" d="M170.5 603v5M170.5 626v9M170.5 640v3M170.5 648v1M170.5 658v2M171.5 603v5M171.5 626v9M171.5 640v3M171.5 648v1M171.5 657v3M172.5 528v1M172.5 605v7M172.5 613v3M172.5 617v8M172.5 626v3M172.5 632v2M172.5 636v2M172.5 663v1M173.5 528v1M173.5 605v7M173.5 613v3M173.5 617v8M173.5 626v3M173.5 632v2M173.5 636v2M173.5 663v1M174.5 528v1M174.5 608v15M174.5 663v1M175.5 528v1M175.5 608v15M175.5 663v1M176.5 528v1M176.5 628v1M176.5 646v2M176.5 659v1M177.5 528v1M177.5 628v1M177.5 646v2M177.5 659v1M178.5 620v2M178.5 658v1M179.5 620v2M179.5 658v1M180.5 618v2M180.5 648v1M181.5 618v2M181.5 648v1M182.5 618v1M182.5 659v1M183.5 618v1M183.5 659v1M184.5 613v3M184.5 659v1M184.5 663v1M185.5 613v3M185.5 659v1M185.5 663v1M186.5 609v1M186.5 623v5M187.5 609v1M187.5 623v5M188.5 605v1M188.5 654v2M188.5 658v1M189.5 605v1M189.5 654v2M189.5 658v1M190.5 530v1M190.5 605v1M191.5 530v1M191.5 605v1M192.5 532v1M192.5 602v2M192.5 611v7M192.5 649v2M193.5 532v1M193.5 602v2M193.5 611v7M193.5 649v2M194.5 599v1M194.5 613v4M194.5 627v3M194.5 632v1M194.5 638v4M194.5 644v2M194.5 649v3M194.5 656v2M195.5 599v1M195.5 613v4M195.5 627v3M195.5 632v1M195.5 638v4M195.5 644v2M195.5 649v3M195.5 656v2M196.5 535v1M196.5 595v1M196.5 618v18M197.5 535v1M197.5 595v1M197.5 618v18M198.5 590v1M198.5 611v3M198.5 630v8M198.5 643v5M198.5 657v1M199.5 590v1M199.5 611v3M199.5 630v8M199.5 643v5M199.5 657v1M200.5 546v1M200.5 589v1M200.5 658v1M201.5 546v1M201.5 589v1M201.5 658v1M202.5 551v1M202.5 583v1M202.5 659v1M203.5 551v1M203.5 583v1M203.5 659v1M204.5 557v3M204.5 579v1M204.5 658v1M204.5 663v1M205.5 557v3M205.5 579v1M205.5 658v1M205.5 663v1M206.5 559v2M206.5 580v1M206.5 659v1M206.5 662v1M207.5 559v2M207.5 580v1M207.5 659v1M207.5 662v1M208.5 567v2M208.5 571v2M208.5 612v1M208.5 663v1M209.5 567v2M209.5 571v2M209.5 612v1M209.5 663v1M210.5 570v2M210.5 644v4M210.5 656v3M211.5 570v2M211.5 644v4M211.5 656v3M212.5 576v3M212.5 660v3M213.5 576v3M213.5 660v3M214.5 582v1M214.5 659v1M215.5 582v1M215.5 659v1M216.5 582v1M217.5 582v1M218.5 583v1M219.5 583v1M220.5 572v1M220.5 659v1M221.5 572v1M221.5 659v1M222.5 571v1M222.5 583v1M223.5 571v1M223.5 583v1M224.5 570v1M224.5 658v1M225.5 570v1M225.5 658v1M228.5 571v1M229.5 571v1M230.5 572v4M230.5 578v2M230.5 658v1M231.5 572v4M231.5 578v2M231.5 658v1M232.5 574v12M232.5 659v1M233.5 574v12M233.5 659v1M234.5 584v3M234.5 615v2M234.5 620v9M234.5 657v1M235.5 584v3M235.5 615v2M235.5 620v9M235.5 657v1M236.5 571v1M236.5 583v2M236.5 640v8M237.5 571v1M237.5 583v2M237.5 640v8M238.5 591v1M238.5 604v3M238.5 609v10M238.5 623v1M238.5 627v4M239.5 591v1M239.5 604v3M239.5 609v10M239.5 623v1M239.5 627v4M240.5 596v1M241.5 596v1M242.5 569v1M242.5 595v1M243.5 569v1M243.5 595v1M244.5 540v2M244.5 569v1M244.5 592v1M244.5 596v2M245.5 540v2M245.5 569v1M245.5 592v1M245.5 596v2M246.5 568v2M246.5 609v2M247.5 568v2M247.5 609v2M248.5 567v3M248.5 593v1M248.5 598v1M248.5 635v3M248.5 644v3M248.5 650v1M249.5 567v3M249.5 593v1M249.5 598v1M249.5 635v3M249.5 644v3M249.5 650v1M250.5 567v2M250.5 593v1M250.5 653v2M251.5 567v2M251.5 593v1M251.5 653v2M252.5 567v2M252.5 658v1M253.5 567v2M253.5 658v1M254.5 593v1M254.5 659v1M254.5 663v1M255.5 593v1M255.5 659v1M255.5 663v1M256.5 561v2M256.5 595v1M256.5 601v1M257.5 561v2M257.5 595v1M257.5 601v1M258.5 559v1M258.5 592v2M259.5 559v1M259.5 592v2M260.5 543v1M260.5 562v1M261.5 543v1M261.5 562v1M262.5 569v3M262.5 594v1M263.5 569v3M263.5 594v1M264.5 566v1M264.5 594v1M265.5 566v1M265.5 594v1M266.5 563v1M266.5 594v1M266.5 598v1M266.5 602v1M267.5 563v1M267.5 594v1M267.5 598v1M267.5 602v1M268.5 562v1M268.5 602v3M269.5 562v1M269.5 602v3M270.5 561v1M271.5 561v1M272.5 586v3M272.5 591v1M273.5 586v3M273.5 591v1M274.5 564v1M274.5 593v1M274.5 598v2M274.5 623v2M275.5 564v1M275.5 593v1M275.5 598v2M275.5 623v2M276.5 562v1M276.5 584v2M276.5 590v1M277.5 562v1M277.5 584v2M277.5 590v1M278.5 564v1M278.5 590v1M279.5 564v1M279.5 590v1M280.5 565v1M281.5 565v1M282.5 568v1M282.5 591v1M283.5 568v1M283.5 591v1M284.5 569v1M284.5 634v9M285.5 569v1M285.5 634v9M286.5 571v6M287.5 571v6M288.5 570v1M288.5 580v3M288.5 584v1M288.5 640v1M289.5 570v1M289.5 580v3M289.5 584v1M289.5 640v1M290.5 589v1M290.5 640v1M291.5 589v1M291.5 640v1M292.5 588v1M293.5 588v1M294.5 570v2M295.5 570v2M296.5 552v3M296.5 565v1M296.5 642v1M296.5 647v4M296.5 663v1M297.5 552v3M297.5 565v1M297.5 642v1M297.5 647v4M297.5 663v1M298.5 543v1M298.5 562v1M298.5 648v3M298.5 656v6M299.5 543v1M299.5 562v1M299.5 648v3M299.5 656v6M300.5 544v2M300.5 548v3M300.5 553v4M301.5 544v2M301.5 548v3M301.5 553v4M302.5 544v1M302.5 548v6M303.5 544v1M303.5 548v6M304.5 545v8M304.5 656v3M305.5 545v8M305.5 656v3M334.5 584v1M334.5 588v4M334.5 593v1M334.5 597v7M335.5 584v1M335.5 588v4M335.5 593v1M335.5 597v7M336.5 581v18M336.5 603v5M336.5 610v2M337.5 581v18M337.5 603v5M337.5 610v2M338.5 604v6M339.5 604v6M340.5 587v5M340.5 596v2M340.5 604v2M341.5 587v5M341.5 596v2M341.5 604v2M342.5 586v1M342.5 596v4M342.5 610v2M343.5 586v1M343.5 596v4M343.5 610v2M344.5 580v7M344.5 612v5M344.5 620v6M345.5 580v7M345.5 612v5M345.5 620v6M346.5 600v6M346.5 608v2M347.5 600v6M347.5 608v2M352.5 553v2M352.5 568v4M353.5 553v2M353.5 568v4M354.5 564v12M355.5 564v12M356.5 600v6M356.5 607v7M357.5 600v6M357.5 607v7M358.5 603v6M359.5 603v6M364.5 548v6M364.5 560v2M365.5 548v6M365.5 560v2M366.5 547v1M366.5 567v2M366.5 592v6M367.5 547v1M367.5 567v2M367.5 592v6M378.5 585v1M378.5 600v7M378.5 613v4M378.5 632v3M378.5 645v9M378.5 657v2M379.5 585v1M379.5 600v7M379.5 613v4M379.5 632v3M379.5 645v9M379.5 657v2M380.5 582v4M381.5 582v4M382.5 579v2M383.5 579v2M384.5 577v1M385.5 577v1M386.5 574v1M387.5 574v1M388.5 572v1M389.5 572v1M390.5 571v1M391.5 571v1M392.5 565v3M393.5 565v3M394.5 562v2M395.5 562v2M396.5 555v2M397.5 555v2M400.5 549v1M401.5 549v1M402.5 552v1M403.5 552v1M404.5 538v4M405.5 538v4M406.5 531v1M407.5 531v1M408.5 534v1M409.5 534v1M414.5 533v1M415.5 533v1M416.5 534v1M417.5 534v1M418.5 532v1M418.5 651v4M419.5 532v1M419.5 651v4M420.5 256v1M420.5 532v1M421.5 256v1M421.5 532v1M422.5 535v1M422.5 661v1M423.5 535v1M423.5 661v1M424.5 537v1M424.5 653v2M425.5 537v1M425.5 653v2M426.5 536v1M426.5 649v3M427.5 536v1M427.5 649v3M428.5 537v1M428.5 635v2M429.5 537v1M429.5 635v2M430.5 538v1M430.5 634v1M431.5 538v1M431.5 634v1M432.5 540v1M433.5 540v1M434.5 538v1M434.5 632v1M435.5 538v1M435.5 632v1M436.5 629v1M437.5 629v1M438.5 537v1M438.5 628v2M439.5 537v1M439.5 628v2M440.5 261v6M440.5 541v1M440.5 550v2M441.5 261v6M441.5 541v1M441.5 550v2M442.5 623v2M443.5 623v2M444.5 612v1M445.5 612v1M446.5 540v1M446.5 610v2M447.5 540v1M447.5 610v2M448.5 607v1M449.5 607v1M450.5 605v1M451.5 605v1M452.5 255v7M452.5 579v4M452.5 596v1M453.5 255v7M453.5 579v4M453.5 596v1M454.5 540v1M454.5 597v3M455.5 540v1M455.5 597v3M456.5 250v2M456.5 275v2M456.5 541v1M456.5 590v7M457.5 250v2M457.5 275v2M457.5 541v1M457.5 590v7M458.5 254v1M458.5 257v2M458.5 271v5M458.5 542v2M458.5 586v3M459.5 254v1M459.5 257v2M459.5 271v5M459.5 542v2M459.5 586v3M460.5 254v4M460.5 263v1M460.5 591v1M461.5 254v4M461.5 263v1M461.5 591v1M462.5 257v6M462.5 545v1M462.5 591v1M463.5 257v6M463.5 545v1M463.5 591v1M464.5 547v2M464.5 573v2M464.5 580v3M465.5 547v2M465.5 573v2M465.5 580v3M466.5 271v7M466.5 558v3M466.5 576v8M466.5 588v1M467.5 271v7M467.5 558v3M467.5 576v8M467.5 588v1M468.5 551v1M468.5 557v9M468.5 567v1M469.5 551v1M469.5 557v9M469.5 567v1M472.5 555v5M472.5 568v1M473.5 555v5M473.5 568v1M507.5 655v3M514.5 261v2M515.5 261v2M520.5 651v1M520.5 654v1M521.5 651v1M521.5 654v1M536.5 265v1M537.5 265v1M538.5 256v2M539.5 256v2M542.5 257v4M543.5 257v4M544.5 257v4M544.5 263v3M545.5 257v4M545.5 263v3M546.5 253v8M546.5 265v2M547.5 253v8M547.5 265v2M552.5 268v2M552.5 272v3M553.5 268v2M553.5 272v3M554.5 268v3M555.5 268v3M556.5 272v1M557.5 272v1M558.5 256v1M558.5 270v1M558.5 658v2M559.5 256v1M559.5 270v1M564.5 276v1M564.5 656v1M565.5 276v1M565.5 656v1M572.5 274v1M573.5 274v1M588.5 620v9M589.5 620v9M590.5 563v3M590.5 585v1M590.5 607v2M590.5 641v1M591.5 563v3M591.5 585v1M591.5 607v2M591.5 641v1M592.5 559v1M592.5 588v10M592.5 660v4M593.5 559v1M593.5 588v10M593.5 660v4M594.5 558v1M594.5 663v1M595.5 558v1M595.5 663v1M596.5 557v1M597.5 557v1M600.5 555v1M601.5 555v1M604.5 553v1M605.5 553v1M606.5 554v1M607.5 554v1M610.5 554v1M611.5 554v1M620.5 547v1M621.5 547v1M634.5 281v7M634.5 296v2M634.5 300v2M634.5 307v1M635.5 281v7M635.5 296v2M635.5 300v2M635.5 307v1M636.5 305v1M636.5 546v1M636.5 593v2M636.5 631v2M637.5 305v1M637.5 546v1M637.5 593v2M637.5 631v2M638.5 645v2M639.5 645v2M640.5 549v6M640.5 654v4M641.5 549v6M641.5 654v4M644.5 656v1M645.5 656v1M654.5 656v1M655.5 656v1M668.5 656v1M669.5 656v1M676.5 652v1M677.5 652v1M686.5 576v1M686.5 582v1M687.5 576v1M687.5 582v1M688.5 573v3M688.5 577v4M689.5 573v3M689.5 577v4M690.5 656v1M691.5 656v1M694.5 576v3M695.5 576v3M696.5 656v1M697.5 656v1M698.5 651v1M698.5 655v1M699.5 651v1M699.5 655v1M702.5 652v1M702.5 654v1M702.5 657v1M703.5 652v1M703.5 654v1M703.5 657v1M704.5 656v1M705.5 656v1M710.5 653v1M711.5 653v1M720.5 654v1M721.5 654v1M724.5 653v1M724.5 656v1M724.5 659v1M725.5 653v1M725.5 656v1M725.5 659v1M734.5 656v1M735.5 656v1M742.5 652v1M743.5 652v1M774.5 652v1M774.5 655v1M775.5 652v1M775.5 655v1M776.5 659v1M777.5 659v1M778.5 656v1M779.5 656v1M780.5 655v1M781.5 655v1M782.5 654v1M783.5 654v1M796.5 656v1M797.5 656v1M802.5 653v1M803.5 653v1M808.5 654v1M809.5 654v1M812.5 655v1M813.5 655v1M818.5 653v1M818.5 657v1M819.5 653v1M819.5 657v1M828.5 287v3M829.5 287v3M830.5 278v4M830.5 656v1M831.5 278v4M831.5 656v1M832.5 270v1M832.5 274v7M833.5 270v1M833.5 274v7M834.5 264v6M834.5 281v1M835.5 264v6M835.5 281v1M836.5 274v6M836.5 658v1M837.5 274v6M837.5 658v1M840.5 653v1M841.5 653v1M842.5 265v2M842.5 269v1M842.5 280v2M843.5 265v2M843.5 269v1M843.5 280v2M844.5 273v8M844.5 653v1M845.5 273v8M845.5 653v1M854.5 270v1M854.5 278v3M854.5 284v2M855.5 270v1M855.5 278v3M855.5 284v2M856.5 271v2M857.5 271v2M858.5 279v6M858.5 290v1M859.5 279v6M859.5 290v1M860.5 271v2M860.5 286v3M860.5 290v1M861.5 271v2M861.5 286v3M861.5 290v1M862.5 272v8M863.5 272v8M868.5 276v2M868.5 291v1M869.5 276v2M869.5 291v1M874.5 283v3M874.5 289v1M875.5 283v3M875.5 289v1M876.5 287v3M876.5 653v1M877.5 287v3M877.5 653v1M880.5 658v1M881.5 658v1M884.5 283v7M885.5 283v7M886.5 264v1M886.5 288v4M887.5 264v1M887.5 288v4M888.5 271v4M888.5 279v2M888.5 284v2M888.5 299v5M888.5 591v1M888.5 594v2M888.5 597v3M888.5 654v1M889.5 271v4M889.5 279v2M889.5 284v2M889.5 299v5M889.5 591v1M889.5 594v2M889.5 597v3M889.5 654v1M890.5 270v13M890.5 582v2M890.5 586v1M890.5 602v2M891.5 270v13M891.5 582v2M891.5 586v1M891.5 602v2M892.5 285v4M892.5 580v1M892.5 596v3M893.5 285v4M893.5 580v1M893.5 596v3M894.5 268v3M894.5 289v4M894.5 649v2M895.5 268v3M895.5 289v4M895.5 649v2M896.5 275v13M897.5 275v13M898.5 290v2M899.5 290v2M902.5 279v3M902.5 285v3M902.5 292v2M902.5 301v3M903.5 279v3M903.5 285v3M903.5 292v2M903.5 301v3M904.5 276v2M904.5 280v3M905.5 276v2M905.5 280v3M906.5 275v5M907.5 275v5M908.5 279v4M908.5 294v2M909.5 279v4M909.5 294v2M910.5 275v14M911.5 275v14M912.5 277v1M912.5 654v1M913.5 277v1M913.5 654v1M914.5 276v1M914.5 282v5M914.5 288v1M915.5 276v1M915.5 282v5M915.5 288v1M916.5 276v2M916.5 287v2M917.5 276v2M917.5 287v2M918.5 277v3M918.5 652v1M919.5 277v3M919.5 652v1M920.5 277v1M920.5 651v1M921.5 277v1M921.5 651v1M922.5 274v2M923.5 274v2M924.5 655v1M925.5 655v1M930.5 282v1M930.5 287v1M930.5 652v1M931.5 282v1M931.5 287v1M931.5 652v1M932.5 295v2M933.5 295v2M966.5 564v1M966.5 576v8M966.5 592v5M967.5 564v1M967.5 576v8M967.5 592v5M968.5 564v1M968.5 606v7M969.5 564v1M969.5 606v7"/>
<path stroke="#00b8ff" d="M170.5 602v1M170.5 660v3M171.5 602v1M171.5 660v3M172.5 604v1M172.5 616v1M172.5 625v1M172.5 629v3M172.5 638v3M172.5 655v4M173.5 604v1M173.5 616v1M173.5 625v1M173.5 629v3M173.5 638v3M173.5 655v4M174.5 623v18M174.5 655v3M174.5 662v1M175.5 623v18M175.5 655v3M175.5 662v1M176.5 619v2M176.5 627v1M176.5 663v1M177.5 619v2M177.5 627v1M177.5 663v1M178.5 612v8M179.5 612v8M180.5 616v2M180.5 649v2M180.5 654v3M181.5 616v2M181.5 649v2M181.5 654v3M182.5 617v1M182.5 660v3M183.5 617v1M183.5 660v3M184.5 611v2M184.5 660v1M184.5 662v1M185.5 611v2M185.5 660v1M185.5 662v1M186.5 608v1M186.5 658v1M187.5 608v1M187.5 658v1M188.5 604v1M189.5 604v1M190.5 531v1M190.5 604v1M190.5 658v1M191.5 531v1M191.5 604v1M191.5 658v1M192.5 600v2M192.5 618v1M192.5 631v5M192.5 641v8M192.5 658v1M192.5 663v1M193.5 600v2M193.5 618v1M193.5 631v5M193.5 641v8M193.5 658v1M193.5 663v1M194.5 532v1M194.5 597v2M194.5 617v4M194.5 622v5M194.5 630v2M194.5 633v5M194.5 646v3M195.5 532v1M195.5 597v2M195.5 617v4M195.5 622v5M195.5 630v2M195.5 633v5M195.5 646v3M196.5 536v1M196.5 594v1M196.5 659v1M196.5 663v1M197.5 536v1M197.5 594v1M197.5 659v1M197.5 663v1M198.5 542v1M198.5 588v2M198.5 614v6M198.5 628v2M198.5 658v1M198.5 663v1M199.5 542v1M199.5 588v2M199.5 614v6M199.5 628v2M199.5 658v1M199.5 663v1M200.5 547v1M200.5 588v1M200.5 663v1M201.5 547v1M201.5 588v1M201.5 663v1M202.5 552v2M202.5 582v1M202.5 663v1M203.5 552v2M203.5 582v1M203.5 663v1M204.5 560v2M204.5 578v1M205.5 560v2M205.5 578v1M206.5 561v1M206.5 579v1M206.5 660v2M207.5 561v1M207.5 579v1M207.5 660v2M208.5 569v2M208.5 659v1M209.5 569v2M209.5 659v1M210.5 659v1M210.5 663v1M211.5 659v1M211.5 663v1M214.5 574v1M214.5 580v2M214.5 663v1M215.5 574v1M215.5 580v2M215.5 663v1M216.5 572v1M216.5 580v2M217.5 572v1M217.5 580v2M220.5 663v1M221.5 663v1M222.5 572v1M222.5 582v1M222.5 658v1M223.5 572v1M223.5 582v1M223.5 658v1M224.5 571v1M224.5 584v1M225.5 571v1M225.5 584v1M226.5 571v1M226.5 659v1M226.5 663v1M227.5 571v1M227.5 659v1M227.5 663v1M228.5 659v1M229.5 659v1M230.5 576v2M230.5 663v1M231.5 576v2M231.5 663v1M232.5 663v1M233.5 663v1M234.5 571v1M234.5 578v6M235.5 571v1M235.5 578v6M236.5 575v8M236.5 648v3M237.5 575v8M237.5 648v3M238.5 570v1M238.5 590v1M238.5 607v2M238.5 624v3M238.5 631v2M239.5 570v1M239.5 590v1M239.5 607v2M239.5 624v3M239.5 631v2M240.5 571v1M240.5 591v1M240.5 597v2M240.5 620v3M241.5 571v1M241.5 591v1M241.5 597v2M241.5 620v3M242.5 592v1M242.5 596v2M243.5 592v1M243.5 596v2M244.5 591v1M244.5 598v8M244.5 613v3M244.5 645v2M245.5 591v1M245.5 598v8M245.5 613v3M245.5 645v2M246.5 570v1M246.5 592v1M246.5 611v8M246.5 639v2M247.5 570v1M247.5 592v1M247.5 611v8M247.5 639v2M248.5 570v2M248.5 580v6M249.5 570v2M249.5 580v6M250.5 569v2M250.5 575v4M250.5 592v1M250.5 655v2M251.5 569v2M251.5 575v4M251.5 592v1M251.5 655v2M252.5 569v3M252.5 594v1M253.5 569v3M253.5 594v1M254.5 560v1M254.5 585v8M254.5 660v3M255.5 560v1M255.5 585v8M255.5 660v3M256.5 563v1M256.5 594v1M257.5 563v1M257.5 594v1M258.5 560v3M258.5 584v3M258.5 589v3M259.5 560v3M259.5 584v3M259.5 589v3M260.5 563v1M261.5 563v1M262.5 572v2M262.5 579v1M262.5 593v1M263.5 572v2M263.5 579v1M263.5 593v1M264.5 567v4M264.5 593v1M265.5 567v4M265.5 593v1M266.5 564v1M266.5 599v3M267.5 564v1M267.5 599v3M268.5 593v1M269.5 593v1M270.5 592v1M271.5 592v1M272.5 565v2M272.5 580v6M272.5 589v2M273.5 565v2M273.5 580v6M273.5 589v2M274.5 592v1M274.5 600v3M275.5 592v1M275.5 600v3M276.5 563v1M276.5 577v7M276.5 586v4M277.5 563v1M277.5 577v7M277.5 586v4M278.5 565v1M278.5 575v2M278.5 589v1M279.5 565v1M279.5 575v2M279.5 589v1M280.5 566v1M280.5 590v1M281.5 566v1M281.5 590v1M282.5 590v1M283.5 590v1M284.5 589v1M285.5 589v1M288.5 571v9M288.5 641v3M288.5 663v1M289.5 571v9M289.5 641v3M289.5 663v1M290.5 588v1M290.5 662v1M291.5 588v1M291.5 662v1M292.5 570v5M292.5 587v1M292.5 663v1M293.5 570v5M293.5 587v1M293.5 663v1M294.5 569v1M294.5 640v1M295.5 569v1M295.5 640v1M296.5 544v4M296.5 551v1M296.5 555v3M296.5 564v1M296.5 643v4M296.5 651v2M296.5 662v1M297.5 544v4M297.5 551v1M297.5 555v3M297.5 564v1M297.5 643v4M297.5 651v2M297.5 662v1M298.5 561v1M299.5 561v1M300.5 546v2M300.5 551v2M301.5 546v2M301.5 551v2M302.5 545v3M303.5 545v3M334.5 592v1M334.5 594v3M335.5 592v1M335.5 594v3M336.5 599v4M336.5 608v2M337.5 599v4M337.5 608v2M340.5 592v4M340.5 598v6M341.5 592v4M341.5 598v6M342.5 587v9M342.5 600v10M343.5 587v9M343.5 600v10M344.5 587v6M344.5 610v2M345.5 587v6M345.5 610v2M352.5 555v13M353.5 555v13M364.5 554v6M365.5 554v6M366.5 548v1M366.5 566v1M367.5 548v1M367.5 566v1M378.5 586v1M378.5 589v2M378.5 597v3M378.5 607v6M378.5 617v8M378.5 631v1M378.5 635v10M379.5 586v1M379.5 589v2M379.5 597v3M379.5 607v6M379.5 617v8M379.5 631v1M379.5 635v10M380.5 586v9M380.5 662v1M381.5 586v9M381.5 662v1M382.5 581v5M382.5 658v2M382.5 662v1M383.5 581v5M383.5 658v2M383.5 662v1M384.5 578v2M385.5 578v2M386.5 575v1M387.5 575v1M390.5 572v1M391.5 572v1M392.5 568v2M393.5 568v2M394.5 564v5M395.5 564v5M396.5 557v2M397.5 557v2M400.5 550v2M401.5 550v2M402.5 553v1M403.5 553v1M404.5 542v2M405.5 542v2M406.5 532v1M407.5 532v1M410.5 532v1M411.5 532v1M412.5 533v1M413.5 533v1M418.5 648v3M419.5 648v3M420.5 533v1M420.5 648v2M420.5 654v2M420.5 659v4M421.5 533v1M421.5 648v2M421.5 654v2M421.5 659v4M422.5 659v2M423.5 659v2M424.5 538v1M424.5 649v4M425.5 538v1M425.5 649v4M426.5 645v4M427.5 645v4M428.5 623v1M428.5 627v2M428.5 633v2M429.5 623v1M429.5 627v2M429.5 633v2M430.5 539v1M430.5 633v1M431.5 539v1M431.5 633v1M432.5 541v1M433.5 541v1M436.5 540v1M436.5 628v1M437.5 540v1M437.5 628v1M438.5 626v2M439.5 626v2M440.5 542v1M440.5 548v2M440.5 552v2M440.5 556v6M440.5 570v1M440.5 627v5M441.5 542v1M441.5 548v2M441.5 552v2M441.5 556v6M441.5 570v1M441.5 627v5M442.5 621v2M443.5 621v2M444.5 540v1M444.5 611v1M445.5 540v1M445.5 611v1M446.5 609v1M447.5 609v1M448.5 606v1M449.5 606v1M450.5 541v1M450.5 603v2M451.5 541v1M451.5 603v2M452.5 251v4M452.5 569v4M452.5 576v3M452.5 583v8M452.5 595v1M453.5 251v4M453.5 569v4M453.5 576v3M453.5 583v8M453.5 595v1M454.5 249v2M454.5 595v2M455.5 249v2M455.5 595v2M456.5 252v1M456.5 274v1M456.5 588v2M457.5 252v1M457.5 274v1M457.5 588v2M458.5 255v2M458.5 259v12M458.5 544v2M458.5 555v3M458.5 585v1M459.5 255v2M459.5 259v12M459.5 544v2M459.5 555v3M459.5 585v1M460.5 545v1M460.5 589v2M461.5 545v1M461.5 589v2M462.5 546v1M462.5 588v3M463.5 546v1M463.5 588v3M464.5 549v7M464.5 572v1M465.5 549v7M465.5 572v1M466.5 561v2M466.5 568v8M466.5 584v4M467.5 561v2M467.5 568v8M467.5 584v4M468.5 552v2M468.5 555v2M469.5 552v2M469.5 555v2M472.5 560v2M473.5 560v2M518.5 659v1M519.5 659v1M536.5 254v1M536.5 260v1M536.5 264v1M537.5 254v1M537.5 260v1M537.5 264v1M540.5 653v1M541.5 653v1M542.5 261v2M542.5 267v1M543.5 261v2M543.5 267v1M546.5 261v4M547.5 261v4M552.5 266v2M553.5 266v2M556.5 256v1M556.5 271v1M557.5 256v1M557.5 271v1M558.5 257v1M558.5 268v2M559.5 257v1M559.5 268v2M564.5 257v1M564.5 269v7M564.5 657v1M565.5 257v1M565.5 269v7M565.5 657v1M590.5 566v2M590.5 584v1M590.5 609v1M590.5 611v1M590.5 639v2M591.5 566v2M591.5 584v1M591.5 609v1M591.5 611v1M591.5 639v2M592.5 560v1M592.5 587v1M592.5 598v2M592.5 654v6M593.5 560v1M593.5 587v1M593.5 598v2M593.5 654v6M594.5 662v1M595.5 662v1M596.5 558v1M596.5 561v2M597.5 558v1M597.5 561v2M598.5 556v1M599.5 556v1M608.5 555v1M609.5 555v1M612.5 552v1M613.5 552v1M616.5 548v1M617.5 548v1M624.5 548v1M625.5 548v1M626.5 547v1M627.5 547v1M632.5 280v1M632.5 284v3M633.5 280v1M633.5 284v3M634.5 288v8M634.5 302v5M634.5 547v1M634.5 608v6M634.5 617v5M635.5 288v8M635.5 302v5M635.5 547v1M635.5 608v6M635.5 617v5M636.5 592v1M636.5 633v3M637.5 592v1M637.5 633v3M638.5 647v2M639.5 647v2M640.5 555v5M641.5 555v5M644.5 660v1M645.5 660v1M646.5 656v1M647.5 656v1M650.5 656v1M651.5 656v1M660.5 658v1M661.5 658v1M676.5 655v1M677.5 655v1M680.5 655v2M681.5 655v2M682.5 652v1M682.5 656v1M683.5 652v1M683.5 656v1M684.5 657v1M685.5 657v1M686.5 577v5M687.5 577v5M688.5 656v1M689.5 656v1M694.5 579v2M695.5 579v2M696.5 653v1M696.5 658v1M697.5 653v1M697.5 658v1M698.5 658v1M699.5 658v1M710.5 657v1M711.5 657v1M714.5 660v1M715.5 660v1M718.5 659v1M719.5 659v1M742.5 654v1M742.5 656v1M743.5 654v1M743.5 656v1M762.5 655v1M763.5 655v1M788.5 656v1M789.5 656v1M790.5 654v1M791.5 654v1M794.5 657v1M795.5 657v1M822.5 655v1M823.5 655v1M830.5 282v8M831.5 282v8M832.5 271v3M832.5 651v1M833.5 271v3M833.5 651v1M834.5 270v3M834.5 277v4M835.5 270v3M835.5 277v4M840.5 651v1M840.5 657v1M841.5 651v1M841.5 657v1M842.5 264v1M842.5 270v1M842.5 276v4M842.5 655v1M843.5 264v1M843.5 270v1M843.5 276v4M843.5 655v1M854.5 271v1M854.5 276v2M854.5 281v3M854.5 654v1M855.5 271v1M855.5 276v2M855.5 281v3M855.5 654v1M856.5 273v3M856.5 277v6M857.5 273v3M857.5 277v6M860.5 273v13M860.5 289v1M861.5 273v13M861.5 289v1M862.5 280v3M862.5 289v2M863.5 280v3M863.5 289v2M864.5 654v1M865.5 654v1M868.5 278v6M868.5 289v2M869.5 278v6M869.5 289v2M874.5 286v3M874.5 649v1M875.5 286v3M875.5 649v1M878.5 656v1M879.5 656v1M882.5 264v3M883.5 264v3M884.5 259v3M884.5 658v1M885.5 259v3M885.5 658v1M886.5 276v2M886.5 655v1M887.5 276v2M887.5 655v1M888.5 275v4M888.5 281v3M888.5 588v3M888.5 596v1M889.5 275v4M889.5 281v3M889.5 588v3M889.5 596v1M890.5 587v5M890.5 600v2M891.5 587v5M891.5 600v2M894.5 271v3M894.5 281v4M894.5 286v3M894.5 655v1M895.5 271v3M895.5 281v4M895.5 286v3M895.5 655v1M902.5 282v3M902.5 288v4M903.5 282v3M903.5 288v4M904.5 283v4M904.5 292v2M904.5 297v4M905.5 283v4M905.5 292v2M905.5 297v4M906.5 280v6M906.5 291v9M907.5 280v6M907.5 291v9M908.5 283v4M908.5 293v1M908.5 656v2M909.5 283v4M909.5 293v1M909.5 656v2M910.5 656v1M910.5 658v1M910.5 661v1M911.5 656v1M911.5 658v1M911.5 661v1M912.5 655v1M912.5 657v1M913.5 655v1M913.5 657v1M914.5 277v5M914.5 287v1M915.5 277v5M915.5 287v1M916.5 278v5M916.5 284v3M916.5 656v1M917.5 278v5M917.5 284v3M917.5 656v1M920.5 278v12M921.5 278v12M922.5 276v8M922.5 289v2M922.5 654v1M923.5 276v8M923.5 289v2M923.5 654v1M924.5 654v1M925.5 654v1M930.5 283v4M930.5 656v1M931.5 283v4M931.5 656v1M934.5 655v1M935.5 655v1M950.5 656v1M951.5 656v1M966.5 565v1M966.5 573v3M966.5 584v8M967.5 565v1M967.5 573v3M967.5 584v8M968.5 565v1M968.5 569v2M968.5 602v4M969.5 565v1M969.5 569v2M969.5 602v4"/>
<path stroke="#00d4ff" d="M172.5 641v14M172.5 659v4M173.5 641v14M173.5 659v4M174.5 607v1M174.5 641v4M174.5 649v6M174.5 658v2M174.5 661v1M175.5 607v1M175.5 641v4M175.5 649v6M175.5 658v2M175.5 661v1M176.5 613v6M176.5 621v6M176.5 660v1M177.5 613v6M177.5 621v6M177.5 660v1M178.5 529v1M178.5 611v1M178.5 663v1M179.5 529v1M179.5 611v1M179.5 663v1M180.5 614v2M180.5 651v3M180.5 657v1M181.5 614v2M181.5 651v3M181.5 657v1M182.5 529v1M182.5 616v1M183.5 529v1M183.5 616v1M184.5 530v1M184.5 610v1M184.5 661v1M185.5 530v1M185.5 610v1M185.5 661v1M186.5 607v1M186.5 663v1M187.5 607v1M187.5 663v1M188.5 659v1M189.5 659v1M190.5 603v1M190.5 659v1M190.5 663v1M191.5 603v1M191.5 659v1M191.5 663v1M192.5 598v2M192.5 619v9M192.5 629v2M192.5 636v5M193.5 598v2M193.5 619v9M193.5 629v2M193.5 636v5M194.5 596v1M194.5 621v1M194.5 658v1M194.5 663v1M195.5 596v1M195.5 621v1M195.5 658v1M195.5 663v1M196.5 593v1M196.5 660v3M197.5 593v1M197.5 660v3M198.5 543v1M198.5 587v1M198.5 620v8M198.5 659v1M199.5 543v1M199.5 587v1M199.5 620v8M199.5 659v1M200.5 548v1M200.5 587v1M200.5 659v1M200.5 662v1M201.5 548v1M201.5 587v1M201.5 659v1M201.5 662v1M202.5 554v1M202.5 581v1M202.5 660v3M203.5 554v1M203.5 581v1M203.5 660v3M204.5 562v2M204.5 577v1M204.5 659v1M204.5 662v1M205.5 562v2M205.5 577v1M205.5 659v1M205.5 662v1M206.5 562v2M206.5 576v3M207.5 562v2M207.5 576v3M208.5 660v1M208.5 662v1M209.5 660v1M209.5 662v1M210.5 660v3M211.5 660v3M214.5 575v1M214.5 578v2M214.5 660v3M215.5 575v1M215.5 578v2M215.5 660v3M216.5 573v1M217.5 573v1M218.5 582v1M219.5 582v1M220.5 573v1M220.5 660v1M220.5 662v1M221.5 573v1M221.5 660v1M221.5 662v1M222.5 580v2M222.5 663v1M223.5 580v2M223.5 663v1M224.5 572v1M224.5 659v1M225.5 572v1M225.5 659v1M226.5 660v1M227.5 660v1M228.5 572v2M228.5 663v1M229.5 572v2M229.5 663v1M230.5 659v1M231.5 659v1M232.5 660v3M233.5 660v3M234.5 572v6M234.5 658v1M235.5 572v6M235.5 658v1M236.5 572v3M236.5 651v1M237.5 572v3M237.5 651v1M238.5 589v1M238.5 633v2M239.5 589v1M239.5 633v2M240.5 572v2M240.5 577v1M240.5 590v1M240.5 599v2M240.5 619v1M240.5 623v1M241.5 572v2M241.5 577v1M241.5 590v1M241.5 599v2M241.5 619v1M241.5 623v1M242.5 570v1M242.5 591v1M242.5 598v5M242.5 613v2M243.5 570v1M243.5 591v1M243.5 598v5M243.5 613v2M244.5 570v1M244.5 590v1M244.5 606v7M244.5 616v2M244.5 622v1M244.5 639v6M244.5 647v2M245.5 570v1M245.5 590v1M245.5 606v7M245.5 616v2M245.5 622v1M245.5 639v6M245.5 647v2M246.5 571v1M246.5 589v3M246.5 619v1M246.5 636v3M246.5 641v6M247.5 571v1M247.5 589v3M247.5 619v1M247.5 636v3M247.5 641v6M248.5 572v8M248.5 586v1M248.5 592v1M248.5 651v1M249.5 572v8M249.5 586v1M249.5 592v1M249.5 651v1M250.5 571v4M250.5 579v4M250.5 591v1M250.5 657v1M251.5 571v4M251.5 579v4M251.5 591v1M251.5 657v1M252.5 572v10M253.5 572v10M254.5 561v2M254.5 584v1M255.5 561v2M255.5 584v1M256.5 564v1M257.5 564v1M258.5 563v1M258.5 573v11M258.5 587v2M259.5 563v1M259.5 573v11M259.5 587v2M260.5 564v1M260.5 593v1M261.5 564v1M261.5 593v1M262.5 574v5M262.5 580v4M262.5 589v2M262.5 592v1M263.5 574v5M263.5 580v4M263.5 589v2M263.5 592v1M264.5 571v2M264.5 589v4M265.5 571v2M265.5 589v4M266.5 565v3M266.5 593v1M267.5 565v3M267.5 593v1M268.5 563v1M269.5 563v1M270.5 562v1M270.5 585v1M270.5 591v1M271.5 562v1M271.5 585v1M271.5 591v1M272.5 567v13M273.5 567v13M274.5 565v1M274.5 570v3M274.5 581v2M275.5 565v1M275.5 570v3M275.5 581v2M276.5 564v2M276.5 569v8M277.5 564v2M277.5 569v8M278.5 566v1M278.5 573v2M278.5 577v12M279.5 566v1M279.5 573v2M279.5 577v12M280.5 567v1M280.5 572v2M280.5 579v1M280.5 583v7M281.5 567v1M281.5 572v2M281.5 579v1M281.5 583v7M282.5 569v1M283.5 569v1M284.5 570v1M284.5 588v1M284.5 621v1M285.5 570v1M285.5 588v1M285.5 621v1M288.5 644v3M288.5 649v8M288.5 662v1M289.5 644v3M289.5 649v8M289.5 662v1M290.5 565v1M290.5 587v1M290.5 641v1M290.5 651v11M291.5 565v1M291.5 587v1M291.5 641v1M291.5 651v11M292.5 568v2M292.5 575v3M292.5 586v1M292.5 640v1M293.5 568v2M293.5 575v3M293.5 586v1M293.5 640v1M294.5 568v1M294.5 663v1M295.5 568v1M295.5 663v1M296.5 548v3M296.5 558v6M296.5 653v9M297.5 548v3M297.5 558v6M297.5 653v9M298.5 544v1M298.5 559v2M299.5 544v1M299.5 559v2M344.5 593v1M344.5 603v7M345.5 593v1M345.5 603v7M366.5 549v2M366.5 561v5M367.5 549v2M367.5 561v5M378.5 587v2M378.5 591v6M378.5 625v6M379.5 587v2M379.5 591v6M379.5 625v6M380.5 595v7M380.5 651v11M381.5 595v7M381.5 651v11M382.5 586v4M382.5 656v2M382.5 660v2M383.5 586v4M383.5 656v2M383.5 660v2M384.5 580v5M385.5 580v5M386.5 576v1M387.5 576v1M388.5 573v1M389.5 573v1M390.5 573v1M391.5 573v1M392.5 570v2M393.5 570v2M394.5 569v3M395.5 569v3M396.5 559v1M397.5 559v1M400.5 552v7M400.5 567v2M401.5 552v7M401.5 567v2M402.5 554v9M402.5 566v1M403.5 554v9M403.5 566v1M404.5 544v2M405.5 544v2M408.5 535v1M409.5 535v1M412.5 534v1M412.5 663v1M413.5 534v1M413.5 663v1M414.5 534v1M414.5 663v1M415.5 534v1M415.5 663v1M416.5 663v1M417.5 663v1M418.5 533v1M418.5 644v4M419.5 533v1M419.5 644v4M420.5 644v4M420.5 650v4M420.5 656v3M421.5 644v4M421.5 650v4M421.5 656v3M422.5 536v1M422.5 658v1M423.5 536v1M423.5 658v1M424.5 539v1M424.5 647v2M425.5 539v1M425.5 647v2M426.5 537v1M426.5 643v2M427.5 537v1M427.5 643v2M428.5 538v1M428.5 620v3M428.5 624v3M428.5 629v4M429.5 538v1M429.5 620v3M429.5 624v3M429.5 629v4M430.5 540v2M430.5 545v2M430.5 603v2M430.5 631v2M431.5 540v2M431.5 545v2M431.5 603v2M431.5 631v2M432.5 542v16M432.5 568v9M433.5 542v16M433.5 568v9M434.5 539v1M434.5 631v1M435.5 539v1M435.5 631v1M436.5 627v1M437.5 627v1M438.5 538v1M438.5 591v9M438.5 624v2M439.5 538v1M439.5 591v9M439.5 624v2M440.5 543v5M440.5 554v2M440.5 562v8M440.5 571v2M440.5 595v3M440.5 602v3M440.5 619v2M440.5 626v1M441.5 543v5M441.5 554v2M441.5 562v8M441.5 571v2M441.5 595v3M441.5 602v3M441.5 619v2M441.5 626v1M442.5 540v1M442.5 617v4M443.5 540v1M443.5 617v4M444.5 609v2M445.5 609v2M446.5 541v1M447.5 541v1M448.5 541v1M448.5 570v4M448.5 605v1M449.5 541v1M449.5 570v4M449.5 605v1M450.5 601v2M451.5 601v2M452.5 541v1M452.5 567v2M452.5 573v3M452.5 591v4M453.5 541v1M453.5 567v2M453.5 573v3M453.5 591v4M454.5 251v2M454.5 541v1M454.5 560v3M454.5 577v3M454.5 592v3M455.5 251v2M455.5 541v1M455.5 560v3M455.5 577v3M455.5 592v3M456.5 253v1M456.5 273v1M456.5 542v1M456.5 563v3M456.5 568v4M456.5 577v1M456.5 586v2M457.5 253v1M457.5 273v1M457.5 542v1M457.5 563v3M457.5 568v4M457.5 577v1M457.5 586v2M458.5 546v5M458.5 552v3M458.5 558v7M458.5 584v1M459.5 546v5M459.5 552v3M459.5 558v7M459.5 584v1M460.5 546v1M460.5 586v3M461.5 546v1M461.5 586v3M462.5 547v1M462.5 580v8M463.5 547v1M463.5 580v8M464.5 556v3M464.5 565v7M465.5 556v3M465.5 565v7M466.5 563v5M467.5 563v5M468.5 554v1M469.5 554v1M472.5 562v2M472.5 567v1M473.5 562v2M473.5 567v1M516.5 658v1M517.5 658v1M518.5 657v1M519.5 657v1M536.5 255v5M536.5 261v3M537.5 255v5M537.5 261v3M542.5 263v4M543.5 263v4M556.5 257v1M556.5 269v2M557.5 257v1M557.5 269v2M558.5 258v10M559.5 258v10M564.5 258v4M564.5 266v3M565.5 258v4M565.5 266v3M590.5 568v2M590.5 577v4M590.5 583v1M590.5 610v1M590.5 612v2M590.5 630v4M590.5 637v2M591.5 568v2M591.5 577v4M591.5 583v1M591.5 610v1M591.5 612v2M591.5 630v4M591.5 637v2M592.5 561v1M592.5 585v2M592.5 600v2M592.5 641v1M592.5 647v1M592.5 653v1M593.5 561v1M593.5 585v2M593.5 600v2M593.5 641v1M593.5 647v1M593.5 653v1M594.5 559v1M594.5 661v1M595.5 559v1M595.5 661v1M596.5 559v2M596.5 563v3M596.5 572v2M596.5 579v6M597.5 559v2M597.5 563v3M597.5 572v2M597.5 579v6M628.5 547v1M629.5 547v1M630.5 547v1M631.5 547v1M632.5 281v3M632.5 548v1M633.5 281v3M633.5 548v1M634.5 607v1M634.5 614v3M634.5 622v4M635.5 607v1M635.5 614v3M635.5 622v4M636.5 547v1M636.5 590v2M636.5 636v3M637.5 547v1M637.5 590v2M637.5 636v3M638.5 649v1M639.5 649v1M640.5 560v7M640.5 569v1M640.5 658v1M641.5 560v7M641.5 569v1M641.5 658v1M644.5 658v1M645.5 658v1M646.5 657v1M647.5 657v1M648.5 656v1M649.5 656v1M656.5 656v1M656.5 659v1M657.5 656v1M657.5 659v1M660.5 656v1M661.5 656v1M662.5 659v1M663.5 659v1M668.5 657v1M669.5 657v1M672.5 657v1M673.5 657v1M680.5 657v1M681.5 657v1M682.5 655v1M683.5 655v1M690.5 657v1M691.5 657v1M692.5 655v1M693.5 655v1M694.5 581v1M694.5 585v1M695.5 581v1M695.5 585v1M718.5 656v1M719.5 656v1M746.5 659v1M747.5 659v1M760.5 662v1M761.5 662v1M768.5 655v1M769.5 655v1M774.5 657v1M774.5 659v1M775.5 657v1M775.5 659v1M776.5 658v1M777.5 658v1M778.5 660v1M779.5 660v1M788.5 657v1M789.5 657v1M794.5 656v1M795.5 656v1M798.5 657v1M799.5 657v1M808.5 657v1M809.5 657v1M820.5 656v1M821.5 656v1M824.5 655v1M825.5 655v1M828.5 655v1M829.5 655v1M830.5 657v1M831.5 657v1M834.5 273v4M835.5 273v4M836.5 660v1M837.5 660v1M838.5 656v1M839.5 656v1M842.5 271v5M842.5 656v1M842.5 658v1M843.5 271v5M843.5 656v1M843.5 658v1M846.5 656v3M847.5 656v3M850.5 659v1M851.5 659v1M854.5 272v4M855.5 272v4M856.5 276v1M857.5 276v1M862.5 283v6M863.5 283v6M864.5 656v1M864.5 659v1M865.5 656v1M865.5 659v1M868.5 284v5M868.5 656v2M869.5 284v5M869.5 656v2M870.5 658v2M871.5 658v2M874.5 657v1M875.5 657v1M878.5 655v1M879.5 655v1M884.5 262v8M884.5 656v2M885.5 262v8M885.5 656v2M886.5 265v1M886.5 271v5M886.5 656v2M887.5 265v1M887.5 271v5M887.5 656v2M890.5 592v8M891.5 592v8M894.5 274v7M894.5 285v1M894.5 657v1M895.5 274v7M895.5 285v1M895.5 657v1M904.5 287v5M904.5 294v3M904.5 301v2M905.5 287v5M905.5 294v3M905.5 301v2M906.5 286v5M907.5 286v5M908.5 287v6M909.5 287v6M916.5 283v1M917.5 283v1M920.5 290v4M921.5 290v4M922.5 284v5M922.5 656v2M923.5 284v5M923.5 656v2M926.5 655v2M927.5 655v2M932.5 658v1M933.5 658v1M936.5 657v1M936.5 659v1M937.5 657v1M937.5 659v1M950.5 655v1M950.5 657v1M951.5 655v1M951.5 657v1M966.5 566v7M967.5 566v7M968.5 566v3M968.5 571v2M968.5 576v3M968.5 600v2M969.5 566v3M969.5 571v2M969.5 576v3M969.5 600v2"/>
<path stroke="#00f1ff" d="M170.5 529v1M171.5 529v1M174.5 606v1M174.5 645v4M174.5 660v1M175.5 606v1M175.5 645v4M175.5 660v1M176.5 610v3M176.5 661v2M177.5 610v3M177.5 661v2M178.5 659v1M179.5 659v1M180.5 613v1M180.5 658v1M180.5 663v1M181.5 613v1M181.5 658v1M181.5 663v1M182.5 615v1M183.5 615v1M186.5 531v1M186.5 606v1M186.5 659v1M187.5 531v1M187.5 606v1M187.5 659v1M188.5 603v1M188.5 663v1M189.5 603v1M189.5 663v1M190.5 602v1M191.5 602v1M192.5 533v1M192.5 597v1M192.5 628v1M192.5 659v1M192.5 662v1M193.5 533v1M193.5 597v1M193.5 628v1M193.5 659v1M193.5 662v1M194.5 533v1M194.5 595v1M194.5 659v1M195.5 533v1M195.5 595v1M195.5 659v1M196.5 537v1M196.5 592v1M197.5 537v1M197.5 592v1M198.5 585v2M198.5 660v1M198.5 662v1M199.5 585v2M199.5 660v1M199.5 662v1M200.5 549v1M200.5 585v2M200.5 660v2M201.5 549v1M201.5 585v2M201.5 660v2M202.5 555v3M202.5 580v1M203.5 555v3M203.5 580v1M204.5 564v1M204.5 576v1M204.5 660v2M205.5 564v1M205.5 576v1M205.5 660v2M206.5 564v2M206.5 575v1M207.5 564v2M207.5 575v1M208.5 661v1M209.5 661v1M214.5 576v2M215.5 576v2M216.5 579v1M217.5 579v1M218.5 574v1M218.5 581v1M219.5 574v1M219.5 581v1M220.5 574v1M220.5 583v1M220.5 661v1M221.5 574v1M221.5 583v1M221.5 661v1M222.5 573v1M222.5 576v4M222.5 659v1M223.5 573v1M223.5 576v4M223.5 659v1M224.5 573v5M224.5 581v3M224.5 663v1M225.5 573v5M225.5 581v3M225.5 663v1M226.5 572v1M226.5 577v3M226.5 582v1M226.5 661v2M227.5 572v1M227.5 577v3M227.5 582v1M227.5 661v2M228.5 574v6M228.5 660v1M229.5 574v6M229.5 660v1M230.5 662v1M231.5 662v1M238.5 571v18M238.5 635v4M239.5 571v18M239.5 635v4M240.5 574v3M240.5 578v1M240.5 601v10M240.5 614v5M241.5 574v3M241.5 578v1M241.5 601v10M241.5 614v5M242.5 571v1M242.5 590v1M242.5 603v7M242.5 611v2M242.5 615v7M243.5 571v1M243.5 590v1M243.5 603v7M243.5 611v2M243.5 615v7M244.5 571v1M244.5 576v3M244.5 589v1M244.5 618v4M244.5 623v1M244.5 633v6M244.5 649v1M245.5 571v1M245.5 576v3M245.5 589v1M245.5 618v4M245.5 623v1M245.5 633v6M245.5 649v1M246.5 572v1M246.5 585v4M246.5 620v1M246.5 630v6M246.5 647v3M247.5 572v1M247.5 585v4M247.5 620v1M247.5 630v6M247.5 647v3M248.5 587v5M249.5 587v5M250.5 583v8M251.5 583v8M252.5 582v4M252.5 593v1M252.5 659v1M252.5 663v1M253.5 582v4M253.5 593v1M253.5 659v1M253.5 663v1M254.5 563v2M254.5 579v5M255.5 563v2M255.5 579v5M256.5 593v1M257.5 593v1M258.5 564v1M258.5 572v1M259.5 564v1M259.5 572v1M260.5 565v13M260.5 587v6M261.5 565v13M261.5 587v6M262.5 584v5M262.5 591v1M263.5 584v5M263.5 591v1M264.5 573v2M264.5 577v3M264.5 586v3M265.5 573v2M265.5 577v3M265.5 586v3M266.5 568v4M266.5 592v1M267.5 568v4M267.5 592v1M268.5 592v1M269.5 592v1M270.5 583v2M270.5 586v5M271.5 583v2M271.5 586v5M274.5 566v4M274.5 573v3M274.5 579v2M274.5 583v4M274.5 590v2M275.5 566v4M275.5 573v3M275.5 579v2M275.5 583v4M275.5 590v2M276.5 566v3M277.5 566v3M278.5 567v6M279.5 567v6M280.5 568v4M280.5 574v5M280.5 580v3M281.5 568v4M281.5 574v5M281.5 580v3M282.5 570v1M282.5 589v1M283.5 570v1M283.5 589v1M284.5 586v2M284.5 622v1M285.5 586v2M285.5 622v1M288.5 647v2M288.5 657v5M289.5 647v2M289.5 657v5M290.5 566v7M290.5 586v1M290.5 642v9M291.5 566v7M291.5 586v1M291.5 642v9M292.5 560v2M292.5 567v1M292.5 578v2M292.5 585v1M292.5 655v8M293.5 560v2M293.5 567v1M293.5 578v2M293.5 585v1M293.5 655v8M294.5 556v1M294.5 566v2M294.5 641v1M295.5 556v1M295.5 566v2M295.5 641v1M298.5 545v14M299.5 545v14M344.5 594v9M345.5 594v9M366.5 551v7M366.5 560v1M367.5 551v7M367.5 560v1M380.5 602v1M380.5 649v2M381.5 602v1M381.5 649v2M382.5 590v5M382.5 598v2M382.5 646v10M383.5 590v5M383.5 598v2M383.5 646v10M384.5 585v3M384.5 663v1M385.5 585v3M385.5 663v1M386.5 577v1M386.5 579v5M387.5 577v1M387.5 579v5M388.5 574v1M389.5 574v1M390.5 574v1M391.5 574v1M392.5 572v3M393.5 572v3M394.5 572v1M395.5 572v1M396.5 560v3M397.5 560v3M398.5 550v1M399.5 550v1M400.5 559v3M400.5 564v3M400.5 569v2M401.5 559v3M401.5 564v3M401.5 569v2M402.5 563v3M402.5 567v2M403.5 563v3M403.5 567v2M404.5 546v3M405.5 546v3M406.5 533v1M407.5 533v1M408.5 536v3M409.5 536v3M410.5 533v1M410.5 642v5M410.5 663v1M411.5 533v1M411.5 642v5M411.5 663v1M412.5 535v1M413.5 535v1M414.5 535v1M414.5 662v1M415.5 535v1M415.5 662v1M418.5 534v1M418.5 643v1M419.5 534v1M419.5 643v1M420.5 534v1M420.5 612v12M420.5 626v3M420.5 642v2M421.5 534v1M421.5 612v12M421.5 626v3M421.5 642v2M422.5 620v4M422.5 656v2M423.5 620v4M423.5 656v2M424.5 540v2M424.5 645v2M425.5 540v2M425.5 645v2M426.5 538v2M426.5 613v4M426.5 620v6M426.5 640v3M427.5 538v2M427.5 613v4M427.5 620v6M427.5 640v3M428.5 539v1M428.5 606v14M429.5 539v1M429.5 606v14M430.5 542v3M430.5 547v1M430.5 602v1M430.5 605v2M430.5 628v3M431.5 542v3M431.5 547v1M431.5 602v1M431.5 605v2M431.5 628v3M432.5 558v4M432.5 565v3M432.5 577v5M432.5 600v1M432.5 602v11M432.5 632v1M433.5 558v4M433.5 565v3M433.5 577v5M433.5 600v1M433.5 602v11M433.5 632v1M434.5 577v7M434.5 630v1M435.5 577v7M435.5 630v1M436.5 541v1M436.5 626v1M437.5 541v1M437.5 626v1M438.5 581v10M438.5 600v2M438.5 621v3M439.5 581v10M439.5 600v2M439.5 621v3M440.5 573v17M440.5 593v2M440.5 598v4M440.5 605v2M440.5 617v2M440.5 621v5M441.5 573v17M441.5 593v2M441.5 598v4M441.5 605v2M441.5 617v2M441.5 621v5M442.5 557v6M442.5 615v2M443.5 557v6M443.5 615v2M444.5 541v1M444.5 556v3M444.5 561v4M444.5 602v3M444.5 606v3M445.5 541v1M445.5 556v3M445.5 561v4M445.5 602v3M445.5 606v3M446.5 605v4M447.5 605v4M448.5 557v13M448.5 574v3M448.5 584v7M448.5 604v1M449.5 557v13M449.5 574v3M449.5 584v7M449.5 604v1M450.5 600v1M451.5 600v1M452.5 561v6M453.5 561v6M454.5 253v10M454.5 266v5M454.5 557v3M454.5 563v14M454.5 580v6M454.5 588v4M455.5 253v10M455.5 266v5M455.5 557v3M455.5 563v14M455.5 580v6M455.5 588v4M456.5 254v1M456.5 269v4M456.5 543v1M456.5 561v2M456.5 566v2M456.5 572v5M456.5 578v4M456.5 583v3M457.5 254v1M457.5 269v4M457.5 543v1M457.5 561v2M457.5 566v2M457.5 572v5M457.5 578v4M457.5 583v3M458.5 551v1M458.5 565v4M458.5 572v12M459.5 551v1M459.5 565v4M459.5 572v12M460.5 547v1M460.5 585v1M461.5 547v1M461.5 585v1M462.5 548v1M462.5 579v1M463.5 548v1M463.5 579v1M464.5 559v6M465.5 559v6M472.5 564v3M473.5 564v3M518.5 656v1M518.5 658v1M519.5 656v1M519.5 658v1M520.5 657v2M521.5 657v2M556.5 258v6M556.5 266v3M557.5 258v6M557.5 266v3M564.5 262v4M564.5 658v2M565.5 262v4M565.5 658v2M576.5 657v2M577.5 657v2M590.5 570v7M590.5 581v2M590.5 614v1M590.5 618v3M590.5 622v3M590.5 628v2M590.5 634v3M591.5 570v7M591.5 581v2M591.5 614v1M591.5 618v3M591.5 622v3M591.5 628v2M591.5 634v3M592.5 562v3M592.5 584v1M592.5 602v2M592.5 639v2M592.5 642v5M592.5 648v5M593.5 562v3M593.5 584v1M593.5 602v2M593.5 639v2M593.5 642v5M593.5 648v5M594.5 560v2M594.5 659v2M595.5 560v2M595.5 659v2M596.5 566v6M596.5 574v5M596.5 585v1M596.5 663v1M597.5 566v6M597.5 574v5M597.5 585v1M597.5 663v1M598.5 557v1M599.5 557v1M602.5 555v1M603.5 555v1M604.5 554v1M605.5 554v1M618.5 548v1M619.5 548v1M622.5 548v1M623.5 548v1M634.5 604v3M634.5 626v1M635.5 604v3M635.5 626v1M636.5 588v2M636.5 639v1M637.5 588v2M637.5 639v1M638.5 548v1M638.5 579v2M638.5 650v1M639.5 548v1M639.5 579v2M639.5 650v1M640.5 567v2M641.5 567v2M650.5 659v1M651.5 659v1M654.5 659v1M655.5 659v1M658.5 657v1M658.5 661v1M659.5 657v1M659.5 661v1M670.5 655v1M670.5 657v2M671.5 655v1M671.5 657v2M678.5 657v1M679.5 657v1M680.5 659v1M681.5 659v1M682.5 657v2M683.5 657v2M688.5 655v1M688.5 657v1M689.5 655v1M689.5 657v1M692.5 658v1M693.5 658v1M694.5 582v3M694.5 657v2M694.5 661v1M695.5 582v3M695.5 657v2M695.5 661v1M696.5 657v1M696.5 660v1M697.5 657v1M697.5 660v1M702.5 658v2M703.5 658v2M716.5 659v1M717.5 659v1M718.5 657v1M719.5 657v1M734.5 658v1M735.5 658v1M768.5 656v1M769.5 656v1M776.5 661v1M777.5 661v1M780.5 657v1M781.5 657v1M788.5 658v1M789.5 658v1M790.5 659v1M791.5 659v1M792.5 655v1M792.5 657v1M793.5 655v1M793.5 657v1M796.5 659v1M797.5 659v1M802.5 658v1M803.5 658v1M818.5 660v1M819.5 660v1M820.5 659v1M821.5 659v1M822.5 657v1M823.5 657v1M832.5 658v1M833.5 658v1M838.5 658v1M839.5 658v1M840.5 656v1M841.5 656v1M842.5 657v1M843.5 657v1M844.5 656v1M845.5 656v1M850.5 656v1M851.5 656v1M854.5 658v1M855.5 658v1M864.5 657v1M865.5 657v1M868.5 655v1M869.5 655v1M870.5 656v1M871.5 656v1M878.5 659v1M879.5 659v1M886.5 266v1M886.5 270v1M887.5 266v1M887.5 270v1M888.5 656v1M888.5 658v1M888.5 660v1M889.5 656v1M889.5 658v1M889.5 660v1M890.5 656v1M891.5 656v1M908.5 660v1M909.5 660v1M912.5 656v1M913.5 656v1M924.5 658v1M925.5 658v1M932.5 657v1M933.5 657v1M934.5 657v1M935.5 657v1M936.5 658v1M936.5 661v1M937.5 658v1M937.5 661v1M968.5 573v3M968.5 579v3M968.5 586v4M968.5 592v8M969.5 573v3M969.5 579v3M969.5 586v4M969.5 592v8"/>
<path stroke="#0efff1" d="M170.5 601v1M171.5 601v1M172.5 529v1M172.5 603v1M173.5 529v1M173.5 603v1M174.5 529v1M175.5 529v1M176.5 529v1M176.5 609v1M177.5 529v1M177.5 609v1M178.5 610v1M178.5 662v1M179.5 610v1M179.5 662v1M180.5 612v1M181.5 612v1M182.5 613v2M183.5 613v2M184.5 609v1M185.5 609v1M186.5 605v1M186.5 662v1M187.5 605v1M187.5 662v1M188.5 532v1M188.5 601v2M188.5 660v1M189.5 532v1M189.5 601v2M189.5 660v1M190.5 600v2M190.5 660v3M191.5 600v2M191.5 660v3M192.5 596v1M192.5 660v2M193.5 596v1M193.5 660v2M194.5 594v1M194.5 660v1M194.5 662v1M195.5 594v1M195.5 660v1M195.5 662v1M196.5 538v1M196.5 591v1M197.5 538v1M197.5 591v1M198.5 544v1M198.5 582v3M198.5 661v1M199.5 544v1M199.5 582v3M199.5 661v1M200.5 550v1M200.5 583v2M201.5 550v1M201.5 583v2M202.5 558v2M202.5 578v2M203.5 558v2M203.5 578v2M204.5 565v1M204.5 574v2M205.5 565v1M205.5 574v2M206.5 566v4M206.5 573v2M207.5 566v4M207.5 573v2M216.5 574v1M216.5 578v1M217.5 574v1M217.5 578v1M218.5 575v1M218.5 578v3M219.5 575v1M219.5 578v3M220.5 575v2M220.5 578v2M220.5 581v2M221.5 575v2M221.5 578v2M221.5 581v2M222.5 574v2M222.5 662v1M223.5 574v2M223.5 662v1M224.5 578v3M224.5 660v1M225.5 578v3M225.5 660v1M226.5 573v4M226.5 580v2M227.5 573v4M227.5 580v2M228.5 580v4M228.5 661v2M229.5 580v4M229.5 661v2M230.5 660v2M231.5 660v2M234.5 659v1M234.5 663v1M235.5 659v1M235.5 663v1M236.5 652v1M237.5 652v1M238.5 639v11M239.5 639v11M240.5 579v1M240.5 589v1M240.5 611v3M240.5 624v8M241.5 579v1M241.5 589v1M241.5 611v3M241.5 624v8M242.5 572v5M242.5 610v1M242.5 622v2M242.5 640v4M242.5 647v2M243.5 572v5M243.5 610v1M243.5 622v2M243.5 640v4M243.5 647v2M244.5 572v4M244.5 579v1M244.5 624v1M244.5 630v3M244.5 650v1M245.5 572v4M245.5 579v1M245.5 624v1M245.5 630v3M245.5 650v1M246.5 573v12M246.5 621v3M246.5 628v2M246.5 650v1M247.5 573v12M247.5 621v3M247.5 628v2M247.5 650v1M250.5 658v1M251.5 658v1M252.5 586v7M252.5 660v1M253.5 586v7M253.5 660v1M254.5 565v2M254.5 573v6M255.5 565v2M255.5 573v6M256.5 565v1M256.5 582v8M256.5 591v2M257.5 565v1M257.5 582v8M257.5 591v2M258.5 565v1M258.5 571v1M259.5 565v1M259.5 571v1M260.5 578v9M261.5 578v9M264.5 575v2M264.5 580v2M264.5 584v2M265.5 575v2M265.5 580v2M265.5 584v2M266.5 572v3M266.5 584v4M266.5 591v1M267.5 572v3M267.5 584v4M267.5 591v1M268.5 564v2M268.5 567v2M268.5 579v3M268.5 591v1M269.5 564v2M269.5 567v2M269.5 579v3M269.5 591v1M270.5 563v1M270.5 575v3M270.5 582v1M271.5 563v1M271.5 575v3M271.5 582v1M274.5 576v3M274.5 587v3M275.5 576v3M275.5 587v3M282.5 571v2M282.5 588v1M283.5 571v2M283.5 588v1M284.5 571v7M284.5 582v4M284.5 623v2M285.5 571v7M285.5 582v4M285.5 623v2M290.5 573v7M290.5 583v3M291.5 573v7M291.5 583v3M292.5 562v5M292.5 580v5M292.5 641v1M292.5 646v9M293.5 562v5M293.5 580v5M293.5 641v1M293.5 646v9M294.5 557v9M294.5 649v2M294.5 662v1M295.5 557v9M295.5 649v2M295.5 662v1M366.5 558v2M367.5 558v2M380.5 603v8M380.5 638v11M381.5 603v8M381.5 638v11M382.5 595v3M382.5 600v2M382.5 643v3M383.5 595v3M383.5 600v2M383.5 643v3M384.5 588v8M385.5 588v8M386.5 578v1M386.5 584v1M387.5 578v1M387.5 584v1M388.5 575v1M389.5 575v1M390.5 575v1M391.5 575v1M392.5 575v2M393.5 575v2M394.5 573v2M395.5 573v2M396.5 563v6M396.5 580v2M397.5 563v6M397.5 580v2M398.5 551v1M399.5 551v1M400.5 562v2M400.5 571v4M401.5 562v2M401.5 571v4M402.5 569v1M403.5 569v1M404.5 549v2M405.5 549v2M406.5 534v2M407.5 534v2M408.5 539v4M408.5 547v4M409.5 539v4M409.5 547v4M410.5 534v1M410.5 640v2M410.5 647v3M410.5 652v4M411.5 534v1M411.5 640v2M411.5 647v3M411.5 652v4M412.5 536v1M412.5 647v1M412.5 660v3M413.5 536v1M413.5 647v1M413.5 660v3M414.5 659v3M415.5 659v3M416.5 535v1M416.5 612v3M416.5 618v8M416.5 652v11M417.5 535v1M417.5 612v3M417.5 618v8M417.5 652v11M418.5 607v17M418.5 641v2M419.5 607v17M419.5 641v2M420.5 535v1M420.5 608v4M420.5 624v2M420.5 629v3M420.5 635v7M421.5 535v1M421.5 608v4M421.5 624v2M421.5 629v3M421.5 635v7M422.5 537v1M422.5 611v4M422.5 619v1M422.5 624v9M422.5 645v11M423.5 537v1M423.5 611v4M423.5 619v1M423.5 624v9M423.5 645v11M424.5 542v2M424.5 643v2M425.5 542v2M425.5 643v2M426.5 540v8M426.5 606v7M426.5 617v3M426.5 626v14M427.5 540v8M427.5 606v7M427.5 617v3M427.5 626v14M428.5 540v1M428.5 604v2M429.5 540v1M429.5 604v2M430.5 548v4M430.5 555v11M430.5 601v1M430.5 607v2M430.5 624v4M431.5 548v4M431.5 555v11M431.5 601v1M431.5 607v2M431.5 624v4M432.5 562v3M432.5 582v2M432.5 596v4M432.5 601v1M432.5 613v4M432.5 631v1M433.5 562v3M433.5 582v2M433.5 596v4M433.5 601v1M433.5 613v4M433.5 631v1M434.5 540v1M434.5 575v2M434.5 584v10M434.5 599v3M434.5 628v2M435.5 540v1M435.5 575v2M435.5 584v10M435.5 599v3M435.5 628v2M436.5 542v1M436.5 607v1M436.5 615v7M436.5 624v2M437.5 542v1M437.5 607v1M437.5 615v7M437.5 624v2M438.5 539v1M438.5 566v3M438.5 572v9M438.5 602v7M438.5 616v5M439.5 539v1M439.5 566v3M439.5 572v9M439.5 602v7M439.5 616v5M440.5 590v3M440.5 607v1M440.5 616v1M441.5 590v3M441.5 607v1M441.5 616v1M442.5 541v1M442.5 553v4M442.5 563v7M442.5 612v3M443.5 541v1M443.5 553v4M443.5 563v7M443.5 612v3M444.5 554v2M444.5 559v2M444.5 565v5M444.5 592v2M444.5 600v2M444.5 605v1M445.5 554v2M445.5 559v2M445.5 565v5M445.5 592v2M445.5 600v2M445.5 605v1M446.5 561v3M446.5 591v14M447.5 561v3M447.5 591v14M448.5 542v1M448.5 556v1M448.5 577v4M448.5 583v1M448.5 591v2M448.5 603v1M449.5 542v1M449.5 556v1M449.5 577v4M449.5 583v1M449.5 591v2M449.5 603v1M450.5 542v1M450.5 555v13M450.5 589v3M450.5 599v1M451.5 542v1M451.5 555v13M451.5 589v3M451.5 599v1M452.5 542v1M452.5 557v4M453.5 542v1M453.5 557v4M454.5 263v3M454.5 542v1M454.5 555v2M454.5 586v2M455.5 263v3M455.5 542v1M455.5 555v2M455.5 586v2M456.5 255v14M456.5 544v2M456.5 550v3M456.5 556v5M456.5 582v1M457.5 255v14M457.5 544v2M457.5 550v3M457.5 556v5M457.5 582v1M458.5 569v3M459.5 569v3M460.5 548v2M460.5 584v1M461.5 548v2M461.5 584v1M462.5 549v1M462.5 553v4M462.5 561v6M462.5 578v1M463.5 549v1M463.5 553v4M463.5 561v6M463.5 578v1M556.5 264v2M557.5 264v2M590.5 615v3M590.5 621v1M590.5 625v3M591.5 615v3M591.5 621v1M591.5 625v3M592.5 565v7M592.5 577v7M592.5 604v2M592.5 620v1M592.5 631v2M592.5 638v1M593.5 565v7M593.5 577v7M593.5 604v2M593.5 620v1M593.5 631v2M593.5 638v1M594.5 562v3M594.5 570v1M594.5 591v3M594.5 657v2M595.5 562v3M595.5 570v1M595.5 591v3M595.5 657v2M596.5 586v1M597.5 586v1M598.5 558v7M599.5 558v7M600.5 556v1M601.5 556v1M606.5 555v1M607.5 555v1M610.5 555v1M611.5 555v1M612.5 553v1M613.5 553v1M616.5 549v1M617.5 549v1M620.5 548v1M621.5 548v1M626.5 548v1M627.5 548v1M634.5 548v1M634.5 601v3M634.5 627v1M635.5 548v1M635.5 601v3M635.5 627v1M636.5 587v1M636.5 640v1M637.5 587v1M637.5 640v1M638.5 575v4M638.5 651v1M639.5 575v4M639.5 651v1M640.5 659v1M640.5 663v1M641.5 659v1M641.5 663v1M644.5 661v1M645.5 661v1M648.5 658v3M649.5 658v3M656.5 657v1M657.5 657v1M658.5 659v1M659.5 659v1M660.5 660v1M660.5 662v1M661.5 660v1M661.5 662v1M668.5 661v1M669.5 661v1M672.5 658v1M673.5 658v1M676.5 659v1M676.5 661v1M677.5 659v1M677.5 661v1M678.5 658v1M679.5 658v1M682.5 660v1M683.5 660v1M692.5 660v1M693.5 660v1M694.5 660v1M695.5 660v1M698.5 657v1M699.5 657v1M700.5 659v1M701.5 659v1M704.5 655v1M704.5 657v2M705.5 655v1M705.5 657v2M708.5 658v1M709.5 658v1M714.5 661v1M715.5 661v1M716.5 657v1M717.5 657v1M718.5 658v1M719.5 658v1M728.5 657v1M729.5 657v1M742.5 661v1M743.5 661v1M746.5 658v1M747.5 658v1M762.5 657v1M763.5 657v1M764.5 657v1M764.5 659v1M765.5 657v1M765.5 659v1M774.5 656v1M774.5 658v1M775.5 656v1M775.5 658v1M776.5 656v1M777.5 656v1M780.5 656v1M781.5 656v1M782.5 660v1M783.5 660v1M788.5 659v2M789.5 659v2M792.5 656v1M793.5 656v1M794.5 660v1M795.5 660v1M796.5 657v1M797.5 657v1M798.5 658v1M799.5 658v1M808.5 659v1M809.5 659v1M816.5 658v1M817.5 658v1M818.5 659v1M819.5 659v1M820.5 658v1M821.5 658v1M824.5 657v1M825.5 657v1M828.5 657v1M829.5 657v1M832.5 656v2M833.5 656v2M838.5 657v1M838.5 660v1M839.5 657v1M839.5 660v1M844.5 655v1M844.5 660v1M845.5 655v1M845.5 660v1M846.5 660v1M847.5 660v1M850.5 658v1M850.5 660v1M851.5 658v1M851.5 660v1M854.5 659v1M855.5 659v1M868.5 658v1M869.5 658v1M870.5 655v1M871.5 655v1M874.5 659v1M875.5 659v1M880.5 660v1M881.5 660v1M886.5 267v3M886.5 658v1M887.5 267v3M887.5 658v1M888.5 659v1M889.5 659v1M890.5 657v1M890.5 660v1M891.5 657v1M891.5 660v1M894.5 656v1M895.5 656v1M908.5 659v1M909.5 659v1M910.5 659v1M911.5 659v1M912.5 659v1M912.5 663v1M913.5 659v1M913.5 663v1M916.5 659v1M917.5 659v1M924.5 659v1M925.5 659v1M934.5 660v1M935.5 660v1M968.5 582v4M968.5 590v2M969.5 582v4M969.5 590v2"/>
<path stroke="#2bffd4" d="M178.5 660v2M179.5 660v2M180.5 659v1M180.5 662v1M181.5 659v1M181.5 662v1M182.5 612v1M183.5 612v1M184.5 608v1M185.5 608v1M186.5 603v2M186.5 660v2M187.5 603v2M187.5 660v2M188.5 600v1M188.5 661v2M189.5 600v1M189.5 661v2M190.5 532v1M190.5 599v1M191.5 532v1M191.5 599v1M192.5 595v1M193.5 595v1M194.5 534v1M194.5 592v2M194.5 661v1M195.5 534v1M195.5 592v2M195.5 661v1M196.5 539v1M196.5 589v2M197.5 539v1M197.5 589v2M198.5 545v1M198.5 581v1M199.5 545v1M199.5 581v1M200.5 551v1M200.5 581v2M201.5 551v1M201.5 581v2M202.5 560v2M202.5 577v1M203.5 560v2M203.5 577v1M204.5 566v5M204.5 572v2M205.5 566v5M205.5 572v2M206.5 570v3M207.5 570v3M216.5 575v3M217.5 575v3M218.5 576v2M219.5 576v2M220.5 577v1M220.5 580v1M221.5 577v1M221.5 580v1M222.5 660v2M223.5 660v2M224.5 661v2M225.5 661v2M234.5 660v1M234.5 662v1M235.5 660v1M235.5 662v1M236.5 653v2M237.5 653v2M238.5 650v1M239.5 650v1M240.5 580v1M240.5 588v1M240.5 632v3M240.5 640v10M241.5 580v1M241.5 588v1M241.5 632v3M241.5 640v10M242.5 577v2M242.5 589v1M242.5 624v1M242.5 632v8M242.5 644v3M242.5 649v1M243.5 577v2M243.5 589v1M243.5 624v1M243.5 632v8M243.5 644v3M243.5 649v1M244.5 580v1M244.5 588v1M244.5 625v2M244.5 628v2M244.5 651v1M245.5 580v1M245.5 588v1M245.5 625v2M245.5 628v2M245.5 651v1M246.5 624v4M247.5 624v4M248.5 652v1M249.5 652v1M250.5 663v1M251.5 663v1M252.5 661v2M253.5 661v2M254.5 567v6M255.5 567v6M256.5 566v6M256.5 575v7M256.5 590v1M257.5 566v6M257.5 575v7M257.5 590v1M258.5 566v5M259.5 566v5M264.5 582v2M265.5 582v2M266.5 575v9M266.5 588v3M267.5 575v9M267.5 588v3M268.5 566v1M268.5 569v2M268.5 572v2M268.5 578v1M268.5 582v2M268.5 586v5M269.5 566v1M269.5 569v2M269.5 572v2M269.5 578v1M269.5 582v2M269.5 586v5M270.5 568v7M270.5 578v4M271.5 568v7M271.5 578v4M282.5 573v15M283.5 573v15M284.5 578v4M284.5 625v2M284.5 630v1M285.5 578v4M285.5 625v2M285.5 630v1M290.5 580v3M291.5 580v3M292.5 642v4M293.5 642v4M294.5 642v1M294.5 646v3M294.5 651v11M295.5 642v1M295.5 646v3M295.5 651v11M380.5 611v6M380.5 636v2M381.5 611v6M381.5 636v2M382.5 602v8M382.5 614v8M382.5 630v9M382.5 641v2M383.5 602v8M383.5 614v8M383.5 630v9M383.5 641v2M384.5 596v1M384.5 632v1M385.5 596v1M385.5 632v1M386.5 585v5M387.5 585v5M388.5 576v7M389.5 576v7M390.5 576v8M391.5 576v8M392.5 577v1M392.5 583v7M393.5 577v1M393.5 583v7M394.5 575v11M395.5 575v11M396.5 569v2M396.5 572v4M396.5 578v2M396.5 582v2M397.5 569v2M397.5 572v4M397.5 578v2M397.5 582v2M398.5 552v1M398.5 573v4M399.5 552v1M399.5 573v4M400.5 575v2M401.5 575v2M402.5 570v1M403.5 570v1M404.5 551v3M405.5 551v3M406.5 536v2M406.5 663v1M407.5 536v2M407.5 663v1M408.5 543v4M408.5 551v2M409.5 543v4M409.5 551v2M410.5 535v1M410.5 638v2M410.5 650v2M410.5 656v4M410.5 662v1M411.5 535v1M411.5 638v2M411.5 650v2M411.5 656v4M411.5 662v1M412.5 537v1M412.5 632v3M412.5 638v9M412.5 648v6M412.5 658v2M413.5 537v1M413.5 632v3M413.5 638v9M413.5 648v6M413.5 658v2M414.5 536v1M414.5 618v26M414.5 648v2M414.5 658v1M415.5 536v1M415.5 618v26M415.5 648v2M415.5 658v1M416.5 611v1M416.5 615v3M416.5 626v26M417.5 611v1M417.5 615v3M417.5 626v26M418.5 535v1M418.5 606v1M418.5 624v4M418.5 638v3M419.5 535v1M419.5 606v1M419.5 624v4M419.5 638v3M420.5 536v1M420.5 605v3M420.5 632v3M421.5 536v1M421.5 605v3M421.5 632v3M422.5 538v1M422.5 607v4M422.5 615v4M422.5 633v12M423.5 538v1M423.5 607v4M423.5 615v4M423.5 633v12M424.5 544v3M424.5 612v12M424.5 641v2M425.5 544v3M425.5 612v12M425.5 641v2M426.5 548v2M426.5 604v2M427.5 548v2M427.5 604v2M428.5 541v5M428.5 585v2M428.5 597v7M429.5 541v5M429.5 585v2M429.5 597v7M430.5 552v3M430.5 566v14M430.5 585v2M430.5 600v1M430.5 609v6M430.5 617v7M431.5 552v3M431.5 566v14M431.5 585v2M431.5 600v1M431.5 609v6M431.5 617v7M432.5 584v8M432.5 593v3M432.5 617v2M432.5 629v2M433.5 584v8M433.5 593v3M433.5 617v2M433.5 629v2M434.5 541v1M434.5 556v7M434.5 569v6M434.5 594v5M434.5 602v7M434.5 613v3M434.5 625v3M435.5 541v1M435.5 556v7M435.5 569v6M435.5 594v5M435.5 602v7M435.5 613v3M435.5 625v3M436.5 543v8M436.5 580v2M436.5 604v3M436.5 608v3M436.5 612v3M436.5 622v2M437.5 543v8M437.5 580v2M437.5 604v3M437.5 608v3M437.5 612v3M437.5 622v2M438.5 540v1M438.5 557v9M438.5 569v3M438.5 609v2M438.5 612v4M439.5 540v1M439.5 557v9M439.5 569v3M439.5 609v2M439.5 612v4M440.5 608v8M441.5 608v8M442.5 548v5M442.5 570v1M442.5 584v2M442.5 596v11M442.5 610v2M443.5 548v5M443.5 570v1M443.5 584v2M443.5 596v11M443.5 610v2M444.5 552v2M444.5 570v7M444.5 590v2M444.5 594v6M445.5 552v2M445.5 570v7M445.5 590v2M445.5 594v6M446.5 542v1M446.5 547v2M446.5 556v5M446.5 564v3M446.5 583v3M446.5 588v3M447.5 542v1M447.5 547v2M447.5 556v5M447.5 564v3M447.5 583v3M447.5 588v3M448.5 555v1M448.5 581v2M448.5 593v2M448.5 602v1M449.5 555v1M449.5 581v2M449.5 593v2M449.5 602v1M450.5 553v2M450.5 568v21M450.5 592v7M451.5 553v2M451.5 568v21M451.5 592v7M452.5 555v2M453.5 555v2M454.5 543v1M454.5 554v1M455.5 543v1M455.5 554v1M456.5 546v4M456.5 553v3M457.5 546v4M457.5 553v3M460.5 550v13M460.5 582v2M461.5 550v13M461.5 582v2M462.5 550v3M462.5 557v4M462.5 567v3M462.5 576v2M463.5 550v3M463.5 557v4M463.5 567v3M463.5 576v2M520.5 659v1M520.5 662v1M521.5 659v1M521.5 662v1M592.5 572v5M592.5 606v6M592.5 617v3M592.5 621v2M592.5 624v7M592.5 633v5M593.5 572v5M593.5 606v6M593.5 617v3M593.5 621v2M593.5 624v7M593.5 633v5M594.5 565v5M594.5 571v10M594.5 584v7M594.5 594v6M594.5 653v4M595.5 565v5M595.5 571v10M595.5 584v7M595.5 594v6M595.5 653v4M596.5 587v1M596.5 593v2M597.5 587v1M597.5 593v2M598.5 565v1M599.5 565v1M608.5 556v1M609.5 556v1M624.5 549v1M625.5 549v1M628.5 548v1M629.5 548v1M630.5 548v1M631.5 548v1M632.5 549v1M633.5 549v1M634.5 598v3M634.5 628v2M635.5 598v3M635.5 628v2M636.5 548v1M636.5 586v1M636.5 641v1M637.5 548v1M637.5 586v1M637.5 641v1M638.5 549v1M638.5 574v1M638.5 652v1M639.5 549v1M639.5 574v1M639.5 652v1M640.5 662v1M641.5 662v1M644.5 659v1M645.5 659v1M646.5 659v1M647.5 659v1M648.5 663v1M649.5 663v1M650.5 660v1M651.5 660v1M654.5 660v2M655.5 660v2M656.5 661v3M657.5 661v3M660.5 657v1M661.5 657v1M672.5 659v1M673.5 659v1M678.5 660v2M679.5 660v2M692.5 656v2M693.5 656v2M714.5 659v1M715.5 659v1M734.5 662v1M735.5 662v1M742.5 659v1M743.5 659v1M760.5 659v1M761.5 659v1M768.5 658v1M769.5 658v1M774.5 660v1M775.5 660v1M776.5 662v1M777.5 662v1M792.5 658v1M793.5 658v1M802.5 657v1M802.5 659v1M803.5 657v1M803.5 659v1M816.5 657v1M817.5 657v1M822.5 658v1M823.5 658v1M824.5 659v1M825.5 659v1M828.5 656v1M829.5 656v1M838.5 661v1M839.5 661v1M844.5 658v2M845.5 658v2M850.5 657v1M851.5 657v1M854.5 660v1M855.5 660v1M864.5 661v1M865.5 661v1M870.5 661v1M871.5 661v1M880.5 656v1M881.5 656v1M890.5 659v1M890.5 662v1M891.5 659v1M891.5 662v1M912.5 658v1M912.5 660v1M913.5 658v1M913.5 660v1M922.5 658v1M923.5 658v1M930.5 658v1M931.5 658v1M934.5 658v1M934.5 663v1M935.5 658v1M935.5 663v1M936.5 660v1M937.5 660v1"/>
<path stroke="#47ffb8" d="M170.5 530v1M171.5 530v1M174.5 605v1M175.5 605v1M176.5 608v1M177.5 608v1M178.5 530v1M178.5 609v1M179.5 530v1M179.5 609v1M180.5 611v1M180.5 660v2M181.5 611v1M181.5 660v2M182.5 611v1M183.5 611v1M184.5 607v1M185.5 607v1M186.5 602v1M187.5 602v1M188.5 599v1M189.5 599v1M190.5 598v1M191.5 598v1M192.5 534v1M192.5 593v2M193.5 534v1M193.5 593v2M194.5 535v1M194.5 591v1M195.5 535v1M195.5 591v1M196.5 540v1M196.5 588v1M197.5 540v1M197.5 588v1M198.5 546v1M198.5 580v1M199.5 546v1M199.5 580v1M200.5 552v1M200.5 580v1M201.5 552v1M201.5 580v1M202.5 562v1M202.5 575v2M203.5 562v1M203.5 575v2M204.5 571v1M205.5 571v1M234.5 661v1M235.5 661v1M236.5 655v2M237.5 655v2M240.5 581v7M240.5 635v5M240.5 650v1M241.5 581v7M241.5 635v5M241.5 650v1M242.5 579v1M242.5 588v1M242.5 625v7M242.5 650v1M243.5 579v1M243.5 588v1M243.5 625v7M243.5 650v1M244.5 581v7M244.5 627v1M245.5 581v7M245.5 627v1M246.5 651v1M247.5 651v1M250.5 659v1M251.5 659v1M256.5 572v3M257.5 572v3M268.5 571v1M268.5 574v4M268.5 584v2M269.5 571v1M269.5 574v4M269.5 584v2M270.5 564v1M270.5 567v1M271.5 564v1M271.5 567v1M284.5 627v1M284.5 629v1M285.5 627v1M285.5 629v1M294.5 643v3M295.5 643v3M380.5 617v19M381.5 617v19M382.5 610v4M382.5 622v3M382.5 628v2M382.5 639v2M383.5 610v4M383.5 622v3M383.5 628v2M383.5 639v2M384.5 597v10M384.5 625v2M384.5 630v2M384.5 633v2M384.5 662v1M385.5 597v10M385.5 625v2M385.5 630v2M385.5 633v2M385.5 662v1M386.5 590v4M386.5 619v8M387.5 590v4M387.5 619v8M388.5 583v2M388.5 618v2M388.5 626v2M389.5 583v2M389.5 618v2M389.5 626v2M390.5 584v4M391.5 584v4M392.5 578v5M392.5 590v5M393.5 578v5M393.5 590v5M394.5 586v3M395.5 586v3M396.5 571v1M396.5 576v2M396.5 584v5M397.5 571v1M397.5 576v2M397.5 584v5M398.5 553v2M398.5 568v5M398.5 577v3M399.5 553v2M399.5 568v5M399.5 577v3M400.5 577v2M401.5 577v2M402.5 571v4M403.5 571v4M404.5 554v1M404.5 559v4M405.5 554v1M405.5 559v4M406.5 538v3M406.5 543v2M406.5 548v11M407.5 538v3M407.5 543v2M407.5 548v11M408.5 553v4M408.5 663v1M409.5 553v4M409.5 663v1M410.5 536v1M410.5 539v9M410.5 632v6M410.5 660v2M411.5 536v1M411.5 539v9M411.5 632v6M411.5 660v2M412.5 538v1M412.5 631v1M412.5 635v3M412.5 654v4M413.5 538v1M413.5 631v1M413.5 635v3M413.5 654v4M414.5 537v1M414.5 617v1M414.5 644v4M414.5 650v8M415.5 537v1M415.5 617v1M415.5 644v4M415.5 650v8M416.5 610v1M417.5 610v1M418.5 605v1M418.5 628v4M418.5 634v4M419.5 605v1M419.5 628v4M419.5 634v4M420.5 537v1M420.5 602v3M421.5 537v1M421.5 602v3M422.5 539v1M422.5 603v4M423.5 539v1M423.5 603v4M424.5 547v2M424.5 604v8M424.5 624v5M424.5 635v6M425.5 547v2M425.5 604v8M425.5 624v5M425.5 635v6M426.5 550v1M426.5 602v2M427.5 550v1M427.5 602v2M428.5 546v3M428.5 550v6M428.5 559v2M428.5 579v6M428.5 587v6M428.5 595v2M429.5 546v3M429.5 550v6M429.5 559v2M429.5 579v6M429.5 587v6M429.5 595v2M430.5 580v5M430.5 587v4M430.5 594v6M430.5 615v2M431.5 580v5M431.5 587v4M431.5 594v6M431.5 615v2M432.5 592v1M432.5 619v10M433.5 592v1M433.5 619v10M434.5 542v1M434.5 554v2M434.5 563v6M434.5 609v4M434.5 616v9M435.5 542v1M435.5 554v2M435.5 563v6M435.5 609v4M435.5 616v9M436.5 551v9M436.5 578v2M436.5 582v7M436.5 596v8M436.5 611v1M437.5 551v9M437.5 578v2M437.5 582v7M437.5 596v8M437.5 611v1M438.5 555v2M438.5 611v1M439.5 555v2M439.5 611v1M442.5 542v1M442.5 546v2M442.5 571v2M442.5 576v3M442.5 582v2M442.5 586v10M442.5 607v3M443.5 542v1M443.5 546v2M443.5 571v2M443.5 576v3M443.5 582v2M443.5 586v10M443.5 607v3M444.5 542v1M444.5 549v3M444.5 577v3M444.5 582v3M444.5 587v3M445.5 542v1M445.5 549v3M445.5 577v3M445.5 582v3M445.5 587v3M446.5 543v1M446.5 545v2M446.5 549v3M446.5 554v2M446.5 567v9M446.5 581v2M446.5 586v2M447.5 543v1M447.5 545v2M447.5 549v3M447.5 554v2M447.5 567v9M447.5 581v2M447.5 586v2M448.5 543v12M448.5 595v7M449.5 543v12M449.5 595v7M450.5 543v1M450.5 548v5M451.5 543v1M451.5 548v5M452.5 543v1M452.5 554v1M453.5 543v1M453.5 554v1M454.5 544v5M454.5 550v4M455.5 544v5M455.5 550v4M460.5 563v5M460.5 581v1M461.5 563v5M461.5 581v1M462.5 570v6M463.5 570v6M518.5 661v2M519.5 661v2M520.5 661v1M521.5 661v1M539.5 659v5M564.5 660v1M565.5 660v1M592.5 612v5M592.5 623v1M593.5 612v5M593.5 623v1M594.5 581v3M594.5 600v2M594.5 651v2M595.5 581v3M595.5 600v2M595.5 651v2M596.5 588v5M596.5 595v2M596.5 662v1M597.5 588v5M597.5 595v2M597.5 662v1M598.5 566v1M599.5 566v1M600.5 557v1M601.5 557v1M604.5 555v1M605.5 555v1M634.5 593v5M634.5 630v2M635.5 593v5M635.5 630v2M636.5 584v2M636.5 642v1M637.5 584v2M637.5 642v1M638.5 572v2M638.5 653v1M639.5 572v2M639.5 653v1M640.5 660v2M641.5 660v2M648.5 661v1M649.5 661v1M668.5 662v2M669.5 662v2M684.5 658v1M685.5 658v1M690.5 658v1M691.5 658v1M696.5 659v1M697.5 659v1M714.5 658v1M715.5 658v1M734.5 659v1M735.5 659v1M760.5 660v1M761.5 660v1M776.5 660v1M777.5 660v1M778.5 657v1M778.5 661v1M778.5 663v1M779.5 657v1M779.5 661v1M779.5 663v1M782.5 657v2M783.5 657v2M818.5 661v1M819.5 661v1M820.5 661v1M821.5 661v1M824.5 660v1M825.5 660v1M828.5 659v1M829.5 659v1M840.5 659v1M841.5 659v1M846.5 659v1M847.5 659v1M864.5 658v1M864.5 660v1M865.5 658v1M865.5 660v1M870.5 657v1M870.5 660v1M871.5 657v1M871.5 660v1M908.5 661v1M909.5 661v1M910.5 660v1M911.5 660v1M912.5 662v1M913.5 662v1M924.5 663v1M925.5 663v1M926.5 658v1M927.5 658v1M934.5 659v1M934.5 661v1M935.5 659v1M935.5 661v1"/>
<path stroke="#63ff9c" d="M170.5 600v1M171.5 600v1M172.5 602v1M173.5 602v1M180.5 530v1M181.5 530v1M182.5 530v1M182.5 609v2M183.5 530v1M183.5 609v2M184.5 531v1M184.5 606v1M185.5 531v1M185.5 606v1M186.5 532v1M186.5 601v1M187.5 532v1M187.5 601v1M188.5 533v1M188.5 598v1M189.5 533v1M189.5 598v1M190.5 597v1M191.5 597v1M192.5 592v1M193.5 592v1M194.5 590v1M195.5 590v1M196.5 541v1M196.5 587v1M197.5 541v1M197.5 587v1M198.5 547v1M198.5 578v2M199.5 547v1M199.5 578v2M200.5 553v1M200.5 579v1M201.5 553v1M201.5 579v1M202.5 563v2M202.5 574v1M203.5 563v2M203.5 574v1M236.5 657v1M237.5 657v1M238.5 651v1M239.5 651v1M242.5 580v1M242.5 587v1M243.5 580v1M243.5 587v1M270.5 565v2M271.5 565v2M284.5 628v1M285.5 628v1M382.5 625v3M383.5 625v3M384.5 607v18M384.5 627v3M384.5 635v23M384.5 660v2M385.5 607v18M385.5 627v3M385.5 635v23M385.5 660v2M386.5 594v5M386.5 611v4M386.5 618v1M386.5 627v8M387.5 594v5M387.5 611v4M387.5 618v1M387.5 627v8M388.5 585v4M388.5 617v1M388.5 620v6M388.5 628v4M389.5 585v4M389.5 617v1M389.5 620v6M389.5 628v4M390.5 588v2M391.5 588v2M392.5 595v1M393.5 595v1M394.5 589v3M394.5 612v5M394.5 621v3M395.5 589v3M395.5 612v5M395.5 621v3M396.5 589v2M397.5 589v2M398.5 555v10M398.5 566v2M398.5 580v4M399.5 555v10M399.5 566v2M399.5 580v4M400.5 579v1M401.5 579v1M402.5 575v1M403.5 575v1M404.5 555v4M404.5 563v1M404.5 626v5M404.5 663v1M405.5 555v4M405.5 563v1M405.5 626v5M405.5 663v1M406.5 541v2M406.5 545v3M406.5 559v2M406.5 630v2M407.5 541v2M407.5 545v3M407.5 559v2M407.5 630v2M408.5 557v7M408.5 643v6M409.5 557v7M409.5 643v6M410.5 537v2M410.5 548v1M410.5 620v12M411.5 537v2M411.5 548v1M411.5 620v12M412.5 539v1M412.5 623v8M413.5 539v1M413.5 623v8M414.5 538v1M414.5 611v3M414.5 616v1M415.5 538v1M415.5 611v3M415.5 616v1M416.5 536v1M416.5 609v1M417.5 536v1M417.5 609v1M418.5 536v1M418.5 604v1M418.5 632v2M419.5 536v1M419.5 604v1M419.5 632v2M420.5 600v2M421.5 600v2M422.5 540v1M422.5 598v5M423.5 540v1M423.5 598v5M424.5 549v1M424.5 602v2M424.5 629v6M425.5 549v1M425.5 602v2M425.5 629v6M426.5 551v1M426.5 584v9M426.5 594v8M427.5 551v1M427.5 584v9M427.5 594v8M428.5 549v1M428.5 556v3M428.5 561v2M428.5 574v5M428.5 593v2M429.5 549v1M429.5 556v3M429.5 561v2M429.5 574v5M429.5 593v2M430.5 591v3M431.5 591v3M434.5 543v2M434.5 547v4M434.5 553v1M435.5 543v2M435.5 547v4M435.5 553v1M436.5 560v8M436.5 575v3M436.5 589v2M436.5 593v3M437.5 560v8M437.5 575v3M437.5 589v2M437.5 593v3M438.5 541v1M438.5 550v5M439.5 541v1M439.5 550v5M442.5 543v3M442.5 573v3M442.5 579v3M443.5 543v3M443.5 573v3M443.5 579v3M444.5 543v6M444.5 580v2M444.5 585v2M445.5 543v6M445.5 580v2M445.5 585v2M446.5 544v1M446.5 552v2M446.5 576v2M446.5 579v2M447.5 544v1M447.5 552v2M447.5 576v2M447.5 579v2M450.5 544v4M451.5 544v4M452.5 544v10M453.5 544v10M454.5 549v1M455.5 549v1M460.5 568v2M460.5 577v4M461.5 568v2M461.5 577v4M594.5 602v6M594.5 643v8M595.5 602v6M595.5 643v8M596.5 597v2M596.5 661v1M597.5 597v2M597.5 661v1M598.5 567v1M598.5 663v1M599.5 567v1M599.5 663v1M600.5 558v1M600.5 562v1M601.5 558v1M601.5 562v1M602.5 556v1M603.5 556v1M610.5 556v1M611.5 556v1M612.5 554v1M613.5 554v1M616.5 550v1M617.5 550v1M618.5 549v1M619.5 549v1M620.5 549v1M621.5 549v1M622.5 549v1M623.5 549v1M624.5 550v1M625.5 550v1M626.5 549v1M627.5 549v1M632.5 550v1M633.5 550v1M634.5 549v1M634.5 591v2M634.5 632v1M635.5 549v1M635.5 591v2M635.5 632v1M636.5 582v2M636.5 643v2M637.5 582v2M637.5 643v2M638.5 550v1M638.5 571v1M638.5 654v1M639.5 550v1M639.5 571v1M639.5 654v1M656.5 660v1M657.5 660v1M660.5 663v1M661.5 663v1M676.5 660v1M677.5 660v1M698.5 659v1M699.5 659v1M734.5 663v1M735.5 663v1M824.5 662v1M825.5 662v1M828.5 658v1M829.5 658v1M840.5 660v1M841.5 660v1M886.5 660v1M887.5 660v1M934.5 662v1M935.5 662v1M950.5 659v1M951.5 659v1"/>
<path stroke="#80ff80" d="M172.5 530v1M173.5 530v1M174.5 604v1M175.5 604v1M176.5 607v1M177.5 607v1M180.5 610v1M181.5 610v1M182.5 608v1M183.5 608v1M186.5 600v1M187.5 600v1M188.5 597v1M189.5 597v1M190.5 595v2M191.5 595v2M192.5 535v1M192.5 591v1M193.5 535v1M193.5 591v1M194.5 536v1M194.5 589v1M195.5 536v1M195.5 589v1M196.5 585v2M197.5 585v2M198.5 577v1M199.5 577v1M200.5 554v1M200.5 578v1M201.5 554v1M201.5 578v1M202.5 565v9M203.5 565v9M240.5 651v1M241.5 651v1M242.5 581v6M242.5 651v1M243.5 581v6M243.5 651v1M244.5 652v1M245.5 652v1M248.5 653v1M249.5 653v1M250.5 660v3M251.5 660v3M384.5 658v2M385.5 658v2M386.5 599v5M386.5 609v2M386.5 615v3M386.5 635v2M387.5 599v5M387.5 609v2M387.5 615v3M387.5 635v2M388.5 589v2M388.5 614v3M388.5 632v2M389.5 589v2M389.5 614v3M389.5 632v2M390.5 590v1M390.5 594v6M391.5 590v1M391.5 594v6M392.5 596v1M392.5 619v3M392.5 623v4M393.5 596v1M393.5 619v3M393.5 623v4M394.5 592v2M394.5 607v5M394.5 617v4M394.5 624v1M395.5 592v2M395.5 607v5M395.5 617v4M395.5 624v1M396.5 591v9M397.5 591v9M398.5 565v1M398.5 584v1M399.5 565v1M399.5 584v1M400.5 580v12M401.5 580v12M402.5 576v5M403.5 576v5M404.5 564v4M404.5 631v1M405.5 564v4M405.5 631v1M406.5 561v2M406.5 564v6M406.5 626v4M406.5 632v3M406.5 638v1M406.5 662v1M407.5 561v2M407.5 564v6M407.5 626v4M407.5 632v3M407.5 638v1M407.5 662v1M408.5 564v3M408.5 620v8M408.5 635v1M408.5 640v3M408.5 649v2M409.5 564v3M409.5 620v8M409.5 635v1M409.5 640v3M409.5 649v2M410.5 549v1M410.5 617v3M411.5 549v1M411.5 617v3M412.5 540v2M412.5 620v3M413.5 540v2M413.5 620v3M414.5 609v2M414.5 614v2M415.5 609v2M415.5 614v2M416.5 607v2M417.5 607v2M418.5 602v2M419.5 602v2M420.5 538v1M420.5 599v1M421.5 538v1M421.5 599v1M422.5 541v1M422.5 597v1M423.5 541v1M423.5 597v1M424.5 550v4M424.5 594v8M425.5 550v4M425.5 594v8M426.5 552v4M426.5 583v1M426.5 593v1M427.5 552v4M427.5 583v1M427.5 593v1M428.5 563v2M428.5 572v2M429.5 563v2M429.5 572v2M434.5 545v2M434.5 551v2M435.5 545v2M435.5 551v2M436.5 568v7M436.5 591v2M437.5 568v7M437.5 591v2M438.5 542v8M439.5 542v8M446.5 578v1M447.5 578v1M460.5 570v7M461.5 570v7M594.5 608v2M594.5 640v3M595.5 608v2M595.5 640v3M596.5 599v1M596.5 660v1M597.5 599v1M597.5 660v1M598.5 568v5M599.5 568v5M600.5 559v3M600.5 563v1M601.5 559v3M601.5 563v1M606.5 556v1M607.5 556v1M608.5 557v6M609.5 557v6M610.5 557v1M611.5 557v1M624.5 551v4M625.5 551v4M628.5 549v1M629.5 549v1M630.5 549v1M631.5 549v1M632.5 551v3M633.5 551v3M634.5 550v1M634.5 588v3M634.5 633v1M635.5 550v1M635.5 588v3M635.5 633v1M636.5 549v1M636.5 581v1M636.5 645v2M637.5 549v1M637.5 581v1M637.5 645v2M638.5 562v3M638.5 570v1M638.5 655v2M639.5 562v3M639.5 570v1M639.5 655v2M742.5 663v1M743.5 663v1M760.5 663v1M761.5 663v1M824.5 661v1M825.5 661v1"/>
<path stroke="#9cff63" d="M170.5 531v1M171.5 531v1M174.5 530v1M175.5 530v1M176.5 530v1M177.5 530v1M178.5 531v1M178.5 608v1M179.5 531v1M179.5 608v1M182.5 607v1M183.5 607v1M184.5 532v1M184.5 605v1M185.5 532v1M185.5 605v1M186.5 533v1M186.5 599v1M187.5 533v1M187.5 599v1M188.5 534v1M188.5 596v1M189.5 534v1M189.5 596v1M190.5 533v1M190.5 594v1M191.5 533v1M191.5 594v1M192.5 590v1M193.5 590v1M194.5 588v1M195.5 588v1M196.5 542v1M196.5 584v1M197.5 542v1M197.5 584v1M198.5 548v2M198.5 565v5M198.5 575v2M199.5 548v2M199.5 565v5M199.5 575v2M200.5 555v1M200.5 576v2M201.5 555v1M201.5 576v2M236.5 658v1M237.5 658v1M238.5 652v1M239.5 652v1M244.5 656v2M245.5 656v2M246.5 652v1M247.5 652v1M248.5 654v1M249.5 654v1M386.5 604v5M386.5 637v4M387.5 604v5M387.5 637v4M388.5 591v4M388.5 605v9M388.5 634v1M389.5 591v4M389.5 605v9M389.5 634v1M390.5 591v3M390.5 600v1M390.5 618v9M391.5 591v3M391.5 600v1M391.5 618v9M392.5 597v2M392.5 615v4M392.5 622v1M392.5 627v1M393.5 597v2M393.5 615v4M393.5 622v1M393.5 627v1M394.5 594v1M394.5 600v3M394.5 604v3M394.5 625v1M395.5 594v1M395.5 600v3M395.5 604v3M395.5 625v1M396.5 600v5M397.5 600v5M398.5 585v2M398.5 592v7M399.5 585v2M399.5 592v7M400.5 592v2M401.5 592v2M402.5 581v4M402.5 627v1M403.5 581v4M403.5 627v1M404.5 568v4M404.5 625v1M404.5 632v1M404.5 636v2M405.5 568v4M405.5 625v1M405.5 632v1M405.5 636v2M406.5 563v1M406.5 570v3M406.5 623v3M406.5 635v3M406.5 639v5M406.5 649v2M406.5 656v6M407.5 563v1M407.5 570v3M407.5 623v3M407.5 635v3M407.5 639v5M407.5 649v2M407.5 656v6M408.5 567v2M408.5 619v1M408.5 628v7M408.5 636v4M408.5 651v6M408.5 662v1M409.5 567v2M409.5 619v1M409.5 628v7M409.5 636v4M409.5 651v6M409.5 662v1M410.5 550v1M410.5 616v1M411.5 550v1M411.5 616v1M412.5 542v2M412.5 615v5M413.5 542v2M413.5 615v5M414.5 539v1M414.5 607v2M415.5 539v1M415.5 607v2M416.5 606v1M417.5 606v1M418.5 537v1M418.5 601v1M419.5 537v1M419.5 601v1M420.5 597v2M421.5 597v2M422.5 542v2M422.5 595v2M423.5 542v2M423.5 595v2M424.5 554v1M424.5 593v1M425.5 554v1M425.5 593v1M426.5 556v2M426.5 582v1M427.5 556v2M427.5 582v1M428.5 565v3M428.5 571v1M429.5 565v3M429.5 571v1M594.5 610v11M594.5 639v1M595.5 610v11M595.5 639v1M596.5 600v2M596.5 605v4M596.5 659v1M597.5 600v2M597.5 605v4M597.5 659v1M598.5 573v5M599.5 573v5M600.5 564v1M601.5 564v1M602.5 663v1M603.5 663v1M608.5 563v1M609.5 563v1M610.5 558v2M611.5 558v2M612.5 555v1M613.5 555v1M614.5 552v1M615.5 552v1M616.5 551v1M617.5 551v1M618.5 550v1M619.5 550v1M624.5 555v1M625.5 555v1M626.5 550v1M627.5 550v1M632.5 554v2M633.5 554v2M634.5 551v1M634.5 586v2M635.5 551v1M635.5 586v2M636.5 580v1M637.5 580v1M638.5 551v11M638.5 565v1M638.5 657v1M639.5 551v11M639.5 565v1M639.5 657v1M658.5 660v1M659.5 660v1M776.5 663v1M777.5 663v1M824.5 663v1M825.5 663v1M890.5 663v1M891.5 663v1"/>
<path stroke="#b8ff47" d="M170.5 532v1M170.5 599v1M171.5 532v1M171.5 599v1M172.5 531v1M172.5 601v1M173.5 531v1M173.5 601v1M174.5 603v1M175.5 603v1M176.5 606v1M177.5 606v1M180.5 531v1M180.5 609v1M181.5 531v1M181.5 609v1M184.5 603v2M185.5 603v2M186.5 534v2M186.5 598v1M187.5 534v2M187.5 598v1M188.5 535v2M188.5 594v2M189.5 535v2M189.5 594v2M190.5 593v1M191.5 593v1M192.5 536v1M192.5 589v1M193.5 536v1M193.5 589v1M194.5 537v1M194.5 587v1M195.5 537v1M195.5 587v1M196.5 543v1M196.5 582v2M197.5 543v1M197.5 582v2M198.5 550v2M198.5 560v5M198.5 570v5M199.5 550v2M199.5 560v5M199.5 570v5M200.5 556v2M200.5 575v1M201.5 556v2M201.5 575v1M240.5 652v1M241.5 652v1M242.5 652v1M243.5 652v1M244.5 653v3M244.5 658v1M245.5 653v3M245.5 658v1M248.5 655v3M249.5 655v3M386.5 641v2M387.5 641v2M388.5 595v6M388.5 604v1M388.5 635v4M389.5 595v6M389.5 604v1M389.5 635v4M390.5 601v1M390.5 616v2M390.5 627v1M391.5 601v1M391.5 616v2M391.5 627v1M392.5 599v1M392.5 611v4M392.5 628v8M392.5 638v4M393.5 599v1M393.5 611v4M393.5 628v8M393.5 638v4M394.5 595v5M394.5 603v1M394.5 626v1M395.5 595v5M395.5 603v1M395.5 626v1M396.5 605v2M397.5 605v2M398.5 587v5M398.5 599v5M398.5 621v4M399.5 587v5M399.5 599v5M399.5 621v4M400.5 594v1M401.5 594v1M402.5 585v3M402.5 624v3M402.5 628v1M403.5 585v3M403.5 624v3M403.5 628v1M404.5 572v4M404.5 624v1M404.5 633v3M404.5 638v1M405.5 572v4M405.5 624v1M405.5 633v3M405.5 638v1M406.5 573v1M406.5 621v2M406.5 644v5M406.5 651v5M407.5 573v1M407.5 621v2M407.5 644v5M407.5 651v5M408.5 569v1M408.5 616v3M408.5 657v4M409.5 569v1M409.5 616v3M409.5 657v4M410.5 551v2M410.5 614v2M411.5 551v2M411.5 614v2M412.5 544v2M412.5 613v2M413.5 544v2M413.5 613v2M414.5 605v2M415.5 605v2M416.5 537v1M416.5 604v2M417.5 537v1M417.5 604v2M418.5 600v1M419.5 600v1M420.5 539v1M420.5 596v1M421.5 539v1M421.5 596v1M422.5 544v1M422.5 594v1M423.5 544v1M423.5 594v1M424.5 555v1M424.5 591v2M425.5 555v1M425.5 591v2M426.5 558v1M426.5 581v1M427.5 558v1M427.5 581v1M428.5 568v3M429.5 568v3M594.5 621v2M595.5 621v2M596.5 602v3M596.5 609v2M596.5 612v4M596.5 653v6M597.5 602v3M597.5 609v2M597.5 612v4M597.5 653v6M598.5 578v6M599.5 578v6M600.5 565v2M601.5 565v2M602.5 557v1M603.5 557v1M604.5 556v1M604.5 663v1M605.5 556v1M605.5 663v1M606.5 663v1M607.5 663v1M608.5 564v1M609.5 564v1M610.5 560v4M611.5 560v4M612.5 556v1M613.5 556v1M620.5 550v1M621.5 550v1M622.5 550v5M623.5 550v5M626.5 551v2M627.5 551v2M628.5 550v1M629.5 550v1M630.5 550v1M631.5 550v1M634.5 552v3M634.5 584v2M634.5 634v1M635.5 552v3M635.5 584v2M635.5 634v1M636.5 550v1M636.5 576v1M636.5 579v1M636.5 647v1M637.5 550v1M637.5 576v1M637.5 579v1M637.5 647v1M638.5 566v2M638.5 569v1M639.5 566v2M639.5 569v1"/>
<path stroke="#d5ff2a" d="M176.5 531v1M176.5 605v1M177.5 531v1M177.5 605v1M178.5 532v1M178.5 607v1M179.5 532v1M179.5 607v1M182.5 531v1M182.5 606v1M183.5 531v1M183.5 606v1M184.5 533v2M184.5 602v1M185.5 533v2M185.5 602v1M186.5 536v1M186.5 583v2M186.5 597v1M187.5 536v1M187.5 583v2M187.5 597v1M188.5 537v4M188.5 579v5M188.5 585v4M188.5 592v2M189.5 537v4M189.5 579v5M189.5 585v4M189.5 592v2M190.5 585v2M190.5 592v1M191.5 585v2M191.5 592v1M192.5 537v7M192.5 586v3M193.5 537v7M193.5 586v3M194.5 538v1M195.5 538v1M196.5 544v1M196.5 569v1M196.5 581v1M197.5 544v1M197.5 569v1M197.5 581v1M198.5 552v3M198.5 558v2M199.5 552v3M199.5 558v2M200.5 558v1M200.5 562v4M200.5 570v5M201.5 558v1M201.5 562v4M201.5 570v5M236.5 659v1M237.5 659v1M238.5 653v2M238.5 656v2M239.5 653v2M239.5 656v2M242.5 653v1M243.5 653v1M246.5 653v1M247.5 653v1M248.5 658v1M248.5 663v1M249.5 658v1M249.5 663v1M386.5 643v3M387.5 643v3M388.5 601v3M388.5 639v4M389.5 601v3M389.5 639v4M390.5 602v4M390.5 609v7M390.5 628v2M391.5 602v4M391.5 609v7M391.5 628v2M392.5 600v1M392.5 606v5M392.5 636v2M392.5 642v2M393.5 600v1M393.5 606v5M393.5 636v2M393.5 642v2M396.5 607v9M396.5 621v2M397.5 607v9M397.5 621v2M398.5 604v6M398.5 614v4M398.5 619v2M398.5 625v1M399.5 604v6M399.5 614v4M399.5 619v2M399.5 625v1M400.5 595v2M400.5 623v5M401.5 595v2M401.5 623v5M402.5 588v2M402.5 621v3M402.5 629v2M403.5 588v2M403.5 621v3M403.5 629v2M404.5 576v5M404.5 622v2M404.5 639v2M404.5 650v3M404.5 662v1M405.5 576v5M405.5 622v2M405.5 639v2M405.5 650v3M405.5 662v1M406.5 574v2M406.5 620v1M407.5 574v2M407.5 620v1M408.5 570v1M408.5 615v1M408.5 661v1M409.5 570v1M409.5 615v1M409.5 661v1M410.5 553v1M410.5 557v3M410.5 613v1M411.5 553v1M411.5 557v3M411.5 613v1M412.5 546v5M412.5 612v1M413.5 546v5M413.5 612v1M414.5 540v1M414.5 603v2M415.5 540v1M415.5 603v2M416.5 538v1M416.5 602v2M417.5 538v1M417.5 602v2M418.5 538v1M418.5 598v2M419.5 538v1M419.5 598v2M420.5 595v1M421.5 595v1M422.5 545v5M422.5 592v2M423.5 545v5M423.5 592v2M424.5 556v1M424.5 589v2M425.5 556v1M425.5 589v2M426.5 559v3M426.5 579v2M427.5 559v3M427.5 579v2M594.5 623v6M594.5 638v1M595.5 623v6M595.5 638v1M596.5 611v1M596.5 616v2M596.5 652v1M597.5 611v1M597.5 616v2M597.5 652v1M598.5 584v2M598.5 662v1M599.5 584v2M599.5 662v1M600.5 567v7M600.5 577v2M600.5 583v8M601.5 567v7M601.5 577v2M601.5 583v8M606.5 557v7M606.5 608v3M607.5 557v7M607.5 608v3M608.5 565v1M609.5 565v1M610.5 564v2M610.5 568v3M611.5 564v2M611.5 568v3M612.5 557v2M613.5 557v2M616.5 552v1M617.5 552v1M618.5 551v1M619.5 551v1M620.5 551v3M621.5 551v3M622.5 555v1M623.5 555v1M624.5 556v1M625.5 556v1M626.5 553v3M627.5 553v3M628.5 551v1M629.5 551v1M630.5 551v1M631.5 551v1M632.5 556v1M633.5 556v1M634.5 555v2M634.5 583v1M634.5 635v1M635.5 555v2M635.5 583v1M635.5 635v1M636.5 574v2M636.5 577v2M636.5 648v2M637.5 574v2M637.5 577v2M637.5 648v2M638.5 568v1M639.5 568v1"/>
<path stroke="#f1ff0e" d="M170.5 533v1M171.5 533v1M172.5 532v1M173.5 532v1M174.5 531v1M174.5 602v1M175.5 531v1M175.5 602v1M176.5 603v2M177.5 603v2M178.5 533v1M178.5 591v5M178.5 603v4M179.5 533v1M179.5 591v5M179.5 603v4M180.5 532v1M180.5 605v4M181.5 532v1M181.5 605v4M182.5 532v1M182.5 605v1M183.5 532v1M183.5 605v1M184.5 535v1M184.5 598v4M185.5 535v1M185.5 598v4M186.5 537v1M186.5 581v2M186.5 585v2M186.5 596v1M187.5 537v1M187.5 581v2M187.5 585v2M187.5 596v1M188.5 541v1M188.5 577v2M188.5 584v1M188.5 589v3M189.5 541v1M189.5 577v2M189.5 584v1M189.5 589v3M190.5 534v1M190.5 573v12M190.5 587v5M191.5 534v1M191.5 573v12M191.5 587v5M192.5 544v2M192.5 548v3M192.5 581v5M193.5 544v2M193.5 548v3M193.5 581v5M194.5 539v1M194.5 586v1M195.5 539v1M195.5 586v1M196.5 545v1M196.5 559v10M196.5 570v3M196.5 579v2M197.5 545v1M197.5 559v10M197.5 570v3M197.5 579v2M198.5 555v3M199.5 555v3M200.5 559v3M200.5 566v4M201.5 559v3M201.5 566v4M238.5 655v1M238.5 658v1M239.5 655v1M239.5 658v1M240.5 653v1M240.5 656v2M241.5 653v1M241.5 656v2M242.5 654v4M243.5 654v4M244.5 659v1M245.5 659v1M246.5 654v5M247.5 654v5M248.5 659v1M249.5 659v1M386.5 646v2M387.5 646v2M388.5 643v3M389.5 643v3M390.5 606v3M390.5 630v2M390.5 634v6M391.5 606v3M391.5 630v2M391.5 634v6M392.5 601v5M392.5 644v2M392.5 650v1M393.5 601v5M393.5 644v2M393.5 650v1M394.5 627v2M395.5 627v2M396.5 616v5M396.5 623v2M397.5 616v5M397.5 623v2M398.5 610v4M398.5 618v1M398.5 626v2M399.5 610v4M399.5 618v1M399.5 626v2M400.5 597v2M400.5 622v1M400.5 628v2M400.5 635v3M401.5 597v2M401.5 622v1M401.5 628v2M401.5 635v3M402.5 590v2M402.5 618v3M402.5 631v1M403.5 590v2M403.5 618v3M403.5 631v1M404.5 581v2M404.5 621v1M404.5 641v9M404.5 653v6M405.5 581v2M405.5 621v1M405.5 641v9M405.5 653v6M406.5 576v1M406.5 619v1M407.5 576v1M407.5 619v1M408.5 571v3M408.5 614v1M409.5 571v3M409.5 614v1M410.5 554v3M410.5 560v2M410.5 612v1M411.5 554v3M411.5 560v2M411.5 612v1M412.5 551v3M412.5 611v1M413.5 551v3M413.5 611v1M414.5 541v1M414.5 601v2M415.5 541v1M415.5 601v2M416.5 539v1M416.5 601v1M417.5 539v1M417.5 601v1M418.5 539v1M418.5 597v1M419.5 539v1M419.5 597v1M420.5 540v4M420.5 552v4M420.5 593v2M421.5 540v4M421.5 552v4M421.5 593v2M422.5 550v7M422.5 588v4M423.5 550v7M423.5 588v4M424.5 557v1M424.5 587v2M425.5 557v1M425.5 587v2M426.5 562v1M426.5 577v2M427.5 562v1M427.5 577v2M594.5 629v6M594.5 637v1M595.5 629v6M595.5 637v1M596.5 618v1M596.5 650v2M597.5 618v1M597.5 650v2M598.5 586v11M598.5 599v4M598.5 622v1M598.5 651v11M599.5 586v11M599.5 599v4M599.5 622v1M599.5 651v11M600.5 574v3M600.5 579v4M600.5 591v10M600.5 663v1M601.5 574v3M601.5 579v4M601.5 591v10M601.5 663v1M602.5 558v6M602.5 591v9M603.5 558v6M603.5 591v9M604.5 557v1M604.5 561v2M604.5 606v4M604.5 613v5M605.5 557v1M605.5 561v2M605.5 606v4M605.5 613v5M606.5 564v1M606.5 572v10M606.5 590v5M606.5 597v11M606.5 611v2M607.5 564v1M607.5 572v10M607.5 590v5M607.5 597v11M607.5 611v2M608.5 566v2M609.5 566v2M610.5 566v2M610.5 571v3M611.5 566v2M611.5 571v3M612.5 559v2M613.5 559v2M614.5 553v1M615.5 553v1M616.5 553v4M617.5 553v4M618.5 552v1M619.5 552v1M620.5 554v2M621.5 554v2M622.5 556v1M623.5 556v1M628.5 552v2M629.5 552v2M630.5 552v4M631.5 552v4M632.5 557v1M633.5 557v1M634.5 557v1M634.5 582v1M634.5 636v3M635.5 557v1M635.5 582v1M635.5 636v3M636.5 551v1M636.5 571v3M636.5 650v2M637.5 551v1M637.5 571v3M637.5 650v2"/>
<path stroke="#fff100" d="M170.5 598v1M171.5 598v1M172.5 533v1M172.5 600v1M173.5 533v1M173.5 600v1M174.5 532v1M175.5 532v1M176.5 532v1M176.5 600v3M177.5 532v1M177.5 600v3M178.5 590v1M178.5 596v7M179.5 590v1M179.5 596v7M180.5 533v1M180.5 595v7M180.5 603v2M181.5 533v1M181.5 595v7M181.5 603v2M182.5 533v1M182.5 599v2M182.5 603v2M183.5 533v1M183.5 599v2M183.5 603v2M184.5 587v4M184.5 596v2M185.5 587v4M185.5 596v2M186.5 538v1M186.5 580v1M186.5 587v9M187.5 538v1M187.5 580v1M187.5 587v9M188.5 542v1M188.5 576v1M189.5 542v1M189.5 576v1M190.5 570v3M191.5 570v3M192.5 546v2M192.5 551v1M192.5 568v13M193.5 546v2M193.5 551v1M193.5 568v13M194.5 540v1M194.5 585v1M195.5 540v1M195.5 585v1M196.5 546v10M196.5 557v2M196.5 573v2M196.5 577v2M197.5 546v10M197.5 557v2M197.5 573v2M197.5 577v2M236.5 660v1M236.5 663v1M237.5 660v1M237.5 663v1M240.5 654v2M240.5 658v1M241.5 654v2M241.5 658v1M242.5 658v1M243.5 658v1M246.5 659v1M247.5 659v1M386.5 648v1M387.5 648v1M388.5 646v1M389.5 646v1M390.5 632v2M390.5 640v3M391.5 632v2M391.5 640v3M392.5 646v4M392.5 651v2M393.5 646v4M393.5 651v2M394.5 629v4M394.5 636v9M395.5 629v4M395.5 636v9M396.5 625v3M397.5 625v3M398.5 628v3M398.5 637v8M399.5 628v3M399.5 637v8M400.5 599v1M400.5 617v5M400.5 630v5M400.5 638v9M401.5 599v1M401.5 617v5M401.5 630v5M401.5 638v9M402.5 592v2M402.5 610v2M402.5 615v3M402.5 632v2M403.5 592v2M403.5 610v2M403.5 615v3M403.5 632v2M404.5 583v1M404.5 620v1M404.5 659v3M405.5 583v1M405.5 620v1M405.5 659v3M406.5 577v3M406.5 618v1M407.5 577v3M407.5 618v1M408.5 574v3M408.5 613v1M409.5 574v3M409.5 613v1M410.5 562v3M410.5 611v1M411.5 562v3M411.5 611v1M412.5 554v2M412.5 607v4M413.5 554v2M413.5 607v4M414.5 542v1M414.5 599v2M415.5 542v1M415.5 599v2M416.5 540v1M416.5 599v2M417.5 540v1M417.5 599v2M418.5 540v7M418.5 596v1M419.5 540v7M419.5 596v1M420.5 544v3M420.5 549v3M420.5 556v2M420.5 589v4M421.5 544v3M421.5 549v3M421.5 556v2M421.5 589v4M422.5 557v1M422.5 584v4M423.5 557v1M423.5 584v4M424.5 558v1M424.5 585v2M425.5 558v1M425.5 585v2M426.5 563v3M426.5 575v2M427.5 563v3M427.5 575v2M594.5 635v2M595.5 635v2M596.5 619v1M596.5 622v4M596.5 646v4M597.5 619v1M597.5 622v4M597.5 646v4M598.5 597v2M598.5 603v2M598.5 614v8M598.5 623v2M598.5 628v5M598.5 640v11M599.5 597v2M599.5 603v2M599.5 614v8M599.5 623v2M599.5 628v5M599.5 640v11M600.5 601v2M601.5 601v2M602.5 564v1M602.5 584v7M602.5 600v2M602.5 662v1M603.5 564v1M603.5 584v7M603.5 600v2M603.5 662v1M604.5 558v3M604.5 563v1M604.5 599v7M604.5 610v3M604.5 618v4M605.5 558v3M605.5 563v1M605.5 599v7M605.5 610v3M605.5 618v4M606.5 565v2M606.5 570v2M606.5 582v8M606.5 595v2M606.5 613v3M606.5 618v7M607.5 565v2M607.5 570v2M607.5 582v8M607.5 595v2M607.5 613v3M607.5 618v7M608.5 568v5M609.5 568v5M610.5 574v7M611.5 574v7M612.5 561v4M612.5 572v3M613.5 561v4M613.5 572v3M614.5 554v6M615.5 554v6M616.5 557v1M617.5 557v1M618.5 553v3M619.5 553v3M620.5 556v1M621.5 556v1M622.5 557v1M623.5 557v1M626.5 556v1M627.5 556v1M628.5 554v2M629.5 554v2M630.5 556v1M631.5 556v1M632.5 578v2M632.5 587v7M632.5 601v4M632.5 607v7M632.5 616v3M633.5 578v2M633.5 587v7M633.5 601v4M633.5 607v7M633.5 616v3M634.5 577v5M634.5 639v1M635.5 577v5M635.5 639v1M636.5 552v2M636.5 558v3M636.5 562v4M636.5 570v1M636.5 652v2M637.5 552v2M637.5 558v3M637.5 562v4M637.5 570v1M637.5 652v2M638.5 658v1M639.5 658v1"/>
<path stroke="#ffd500" d="M170.5 534v1M170.5 597v1M171.5 534v1M171.5 597v1M174.5 533v1M174.5 596v1M174.5 601v1M175.5 533v1M175.5 596v1M175.5 601v1M176.5 533v1M176.5 598v2M177.5 533v1M177.5 598v2M178.5 534v1M178.5 589v1M179.5 534v1M179.5 589v1M180.5 534v1M180.5 589v6M180.5 602v1M181.5 534v1M181.5 589v6M181.5 602v1M182.5 534v1M182.5 585v14M182.5 601v2M183.5 534v1M183.5 585v14M183.5 601v2M184.5 536v1M184.5 585v2M184.5 591v5M185.5 536v1M185.5 585v2M185.5 591v5M186.5 539v2M186.5 579v1M187.5 539v2M187.5 579v1M188.5 543v1M188.5 575v1M189.5 543v1M189.5 575v1M190.5 535v1M190.5 538v5M190.5 569v1M191.5 535v1M191.5 538v5M191.5 569v1M192.5 552v8M192.5 567v1M193.5 552v8M193.5 567v1M194.5 541v1M194.5 583v2M195.5 541v1M195.5 583v2M196.5 556v1M196.5 575v2M197.5 556v1M197.5 575v2M238.5 659v1M239.5 659v1M240.5 659v1M241.5 659v1M242.5 659v1M243.5 659v1M244.5 660v1M244.5 663v1M245.5 660v1M245.5 663v1M248.5 660v1M248.5 662v1M249.5 660v1M249.5 662v1M386.5 649v2M387.5 649v2M388.5 647v2M389.5 647v2M390.5 643v3M391.5 643v3M392.5 653v4M393.5 653v4M394.5 633v3M394.5 645v2M395.5 633v3M395.5 645v2M396.5 628v2M396.5 639v3M396.5 653v4M397.5 628v2M397.5 639v3M397.5 653v4M398.5 631v6M398.5 645v2M398.5 650v7M399.5 631v6M399.5 645v2M399.5 650v7M400.5 600v2M400.5 605v2M400.5 616v1M400.5 647v3M401.5 600v2M401.5 605v2M401.5 616v1M401.5 647v3M402.5 594v1M402.5 601v9M402.5 612v3M402.5 634v11M402.5 653v1M403.5 594v1M403.5 601v9M403.5 612v3M403.5 634v11M403.5 653v1M404.5 584v1M404.5 619v1M405.5 584v1M405.5 619v1M406.5 580v4M406.5 617v1M407.5 580v4M407.5 617v1M408.5 577v11M408.5 590v2M408.5 611v2M409.5 577v11M409.5 590v2M409.5 611v2M410.5 565v1M410.5 594v8M410.5 606v5M411.5 565v1M411.5 594v8M411.5 606v5M412.5 556v2M412.5 605v2M413.5 556v2M413.5 605v2M414.5 543v3M414.5 549v2M414.5 597v2M415.5 543v3M415.5 549v2M415.5 597v2M416.5 541v2M416.5 597v2M417.5 541v2M417.5 597v2M418.5 547v2M418.5 552v3M418.5 593v3M419.5 547v2M419.5 552v3M419.5 593v3M420.5 547v2M420.5 558v1M420.5 586v3M421.5 547v2M421.5 558v1M421.5 586v3M422.5 558v1M422.5 582v2M423.5 558v1M423.5 582v2M424.5 559v1M424.5 581v4M425.5 559v1M425.5 581v4M426.5 566v2M426.5 573v2M427.5 566v2M427.5 573v2M596.5 620v2M596.5 626v2M596.5 644v2M597.5 620v2M597.5 626v2M597.5 644v2M598.5 605v9M598.5 625v3M598.5 633v7M599.5 605v9M599.5 625v3M599.5 633v7M600.5 603v5M600.5 637v5M600.5 644v4M601.5 603v5M601.5 637v5M601.5 644v4M602.5 565v1M602.5 571v1M602.5 578v6M602.5 602v8M603.5 565v1M603.5 571v1M603.5 578v6M603.5 602v8M604.5 564v1M604.5 582v9M604.5 594v5M604.5 622v10M604.5 662v1M605.5 564v1M605.5 582v9M605.5 594v5M605.5 622v10M605.5 662v1M606.5 567v3M606.5 616v2M606.5 625v2M606.5 662v1M607.5 567v3M607.5 616v2M607.5 625v2M607.5 662v1M608.5 573v17M608.5 592v3M609.5 573v17M609.5 592v3M610.5 581v1M611.5 581v1M612.5 565v7M612.5 575v2M613.5 565v7M613.5 575v2M616.5 558v1M617.5 558v1M618.5 556v2M619.5 556v2M622.5 558v1M622.5 563v3M623.5 558v1M623.5 563v3M624.5 557v1M624.5 561v3M625.5 557v1M625.5 561v3M628.5 556v1M629.5 556v1M630.5 609v1M631.5 609v1M632.5 558v1M632.5 576v2M632.5 580v7M632.5 594v2M632.5 599v2M632.5 605v2M632.5 614v2M632.5 619v4M632.5 624v4M633.5 558v1M633.5 576v2M633.5 580v7M633.5 594v2M633.5 599v2M633.5 605v2M633.5 614v2M633.5 619v4M633.5 624v4M634.5 558v1M634.5 564v2M634.5 572v1M634.5 575v2M634.5 640v1M635.5 558v1M635.5 564v2M635.5 572v1M635.5 575v2M635.5 640v1M636.5 554v4M636.5 561v1M636.5 566v2M636.5 569v1M636.5 654v1M637.5 554v4M637.5 561v1M637.5 566v2M637.5 569v1M637.5 654v1"/>
<path stroke="#ffb800" d="M170.5 535v5M170.5 564v12M170.5 596v1M171.5 535v5M171.5 564v12M171.5 596v1M172.5 534v1M172.5 598v2M173.5 534v1M173.5 598v2M174.5 534v1M174.5 593v3M174.5 597v4M175.5 534v1M175.5 593v3M175.5 597v4M176.5 534v1M176.5 594v4M177.5 534v1M177.5 594v4M178.5 538v6M178.5 587v2M179.5 538v6M179.5 587v2M180.5 535v7M180.5 586v3M181.5 535v7M181.5 586v3M182.5 535v1M182.5 583v2M183.5 535v1M183.5 583v2M184.5 537v1M184.5 583v2M185.5 537v1M185.5 583v2M186.5 541v7M186.5 551v1M186.5 571v8M187.5 541v7M187.5 551v1M187.5 571v8M188.5 544v6M188.5 552v3M188.5 557v10M188.5 568v2M188.5 572v3M189.5 544v6M189.5 552v3M189.5 557v10M189.5 568v2M189.5 572v3M190.5 536v2M190.5 543v2M190.5 549v5M190.5 568v1M191.5 536v2M191.5 543v2M191.5 549v5M191.5 568v1M192.5 560v7M193.5 560v7M194.5 542v2M194.5 546v16M194.5 568v5M194.5 581v2M195.5 542v2M195.5 546v16M195.5 568v5M195.5 581v2M236.5 661v2M237.5 661v2M240.5 663v1M241.5 663v1M246.5 660v1M247.5 660v1M248.5 661v1M249.5 661v1M386.5 651v1M386.5 655v3M386.5 663v1M387.5 651v1M387.5 655v3M387.5 663v1M388.5 649v1M389.5 649v1M390.5 646v2M391.5 646v2M392.5 657v1M393.5 657v1M394.5 647v2M394.5 652v1M395.5 647v2M395.5 652v1M396.5 630v9M396.5 642v5M396.5 650v3M396.5 657v1M397.5 630v9M397.5 642v5M397.5 650v3M397.5 657v1M398.5 647v3M398.5 657v1M399.5 647v3M399.5 657v1M400.5 602v3M400.5 607v2M400.5 611v5M400.5 650v2M401.5 602v3M401.5 607v2M401.5 611v5M401.5 650v2M402.5 595v6M402.5 645v8M402.5 654v3M403.5 595v6M403.5 645v8M403.5 654v3M404.5 585v1M404.5 599v3M404.5 606v2M404.5 616v3M405.5 585v1M405.5 599v3M405.5 606v2M405.5 616v3M406.5 584v4M406.5 616v1M407.5 584v4M407.5 616v1M408.5 588v2M408.5 592v3M408.5 607v4M409.5 588v2M409.5 592v3M409.5 607v4M410.5 566v3M410.5 592v2M410.5 602v4M411.5 566v3M411.5 592v2M411.5 602v4M412.5 558v1M412.5 586v6M412.5 595v3M412.5 603v2M413.5 558v1M413.5 586v6M413.5 595v3M413.5 603v2M414.5 546v3M414.5 551v2M414.5 582v1M414.5 588v3M414.5 595v2M415.5 546v3M415.5 551v2M415.5 582v1M415.5 588v3M415.5 595v2M416.5 543v8M416.5 578v5M416.5 593v4M417.5 543v8M417.5 578v5M417.5 593v4M418.5 549v3M418.5 555v2M418.5 559v3M418.5 570v1M418.5 589v4M419.5 549v3M419.5 555v2M419.5 559v3M419.5 570v1M419.5 589v4M420.5 559v2M420.5 567v7M420.5 576v4M420.5 582v4M421.5 559v2M421.5 567v7M421.5 576v4M421.5 582v4M422.5 577v2M422.5 580v2M423.5 577v2M423.5 580v2M424.5 560v1M424.5 580v1M425.5 560v1M425.5 580v1M426.5 568v5M427.5 568v5M596.5 628v2M596.5 642v2M597.5 628v2M597.5 642v2M600.5 608v9M600.5 633v4M600.5 642v2M600.5 648v2M601.5 608v9M601.5 633v4M601.5 642v2M601.5 648v2M602.5 566v5M602.5 572v2M602.5 576v2M602.5 610v11M602.5 643v5M602.5 656v6M603.5 566v5M603.5 572v2M603.5 576v2M603.5 610v11M603.5 643v5M603.5 656v6M604.5 565v1M604.5 574v2M604.5 579v3M604.5 591v3M604.5 632v18M605.5 565v1M605.5 574v2M605.5 579v3M605.5 591v3M605.5 632v18M606.5 627v4M607.5 627v4M608.5 590v2M608.5 595v8M609.5 590v2M609.5 595v8M610.5 582v9M611.5 582v9M612.5 577v8M612.5 590v2M613.5 577v8M613.5 590v2M614.5 560v2M614.5 564v3M615.5 560v2M615.5 564v3M616.5 559v1M616.5 564v3M616.5 576v2M617.5 559v1M617.5 564v3M617.5 576v2M618.5 558v1M619.5 558v1M620.5 557v1M621.5 557v1M622.5 559v4M622.5 566v11M623.5 559v4M623.5 566v11M624.5 558v3M624.5 564v6M624.5 581v2M625.5 558v3M625.5 564v6M625.5 581v2M626.5 557v1M626.5 575v1M627.5 557v1M627.5 575v1M628.5 557v1M628.5 602v3M629.5 557v1M629.5 602v3M630.5 557v1M630.5 602v2M630.5 607v2M630.5 610v2M631.5 557v1M631.5 602v2M631.5 607v2M631.5 610v2M632.5 559v11M632.5 574v2M632.5 596v3M632.5 623v1M632.5 628v2M633.5 559v11M633.5 574v2M633.5 596v3M633.5 623v1M633.5 628v2M634.5 559v1M634.5 562v2M634.5 566v1M634.5 570v2M634.5 573v2M635.5 559v1M635.5 562v2M635.5 566v1M635.5 570v2M635.5 573v2M636.5 568v1M636.5 655v1M637.5 568v1M637.5 655v1"/>
<path stroke="#ff9c00" d="M170.5 540v5M170.5 549v4M170.5 558v6M170.5 576v2M170.5 580v16M171.5 540v5M171.5 549v4M171.5 558v6M171.5 576v2M171.5 580v16M172.5 535v1M172.5 575v12M172.5 589v9M173.5 535v1M173.5 575v12M173.5 589v9M174.5 535v1M174.5 581v12M175.5 535v1M175.5 581v12M176.5 535v1M176.5 579v15M177.5 535v1M177.5 579v15M178.5 535v3M178.5 544v3M178.5 552v8M178.5 562v1M178.5 565v7M178.5 576v5M178.5 583v4M179.5 535v3M179.5 544v3M179.5 552v8M179.5 562v1M179.5 565v7M179.5 576v5M179.5 583v4M180.5 542v2M180.5 582v4M181.5 542v2M181.5 582v4M182.5 536v2M182.5 539v2M182.5 551v2M182.5 560v19M182.5 581v2M183.5 536v2M183.5 539v2M183.5 551v2M183.5 560v19M183.5 581v2M184.5 538v11M184.5 559v2M184.5 569v3M184.5 580v3M185.5 538v11M185.5 559v2M185.5 569v3M185.5 580v3M186.5 548v3M186.5 552v3M186.5 557v10M186.5 568v3M187.5 548v3M187.5 552v3M187.5 557v10M187.5 568v3M188.5 550v2M188.5 555v2M188.5 567v1M188.5 570v2M189.5 550v2M189.5 555v2M189.5 567v1M189.5 570v2M190.5 545v4M190.5 554v14M191.5 545v4M191.5 554v14M194.5 544v2M194.5 562v6M194.5 573v8M195.5 544v2M195.5 562v6M195.5 573v8M238.5 660v1M238.5 663v1M239.5 660v1M239.5 663v1M240.5 660v1M241.5 660v1M242.5 660v1M242.5 663v1M243.5 660v1M243.5 663v1M244.5 661v2M245.5 661v2M246.5 663v1M247.5 663v1M386.5 652v3M386.5 658v1M387.5 652v3M387.5 658v1M388.5 650v2M389.5 650v2M390.5 648v2M391.5 648v2M394.5 649v3M394.5 653v4M395.5 649v3M395.5 653v4M396.5 647v3M397.5 647v3M398.5 658v1M399.5 658v1M400.5 609v2M400.5 652v5M401.5 609v2M401.5 652v5M402.5 657v2M402.5 663v1M403.5 657v2M403.5 663v1M404.5 586v6M404.5 593v6M404.5 602v4M404.5 608v8M405.5 586v6M405.5 593v6M405.5 602v4M405.5 608v8M406.5 588v2M406.5 600v2M406.5 613v3M407.5 588v2M407.5 600v2M407.5 613v3M408.5 595v12M409.5 595v12M410.5 569v3M410.5 586v6M411.5 569v3M411.5 586v6M412.5 559v2M412.5 576v6M412.5 584v2M412.5 592v3M412.5 598v5M413.5 559v2M413.5 576v6M413.5 584v2M413.5 592v3M413.5 598v5M414.5 553v1M414.5 580v2M414.5 583v5M414.5 591v4M415.5 553v1M415.5 580v2M415.5 583v5M415.5 591v4M416.5 551v9M416.5 564v3M416.5 576v2M416.5 583v10M417.5 551v9M417.5 564v3M417.5 576v2M417.5 583v10M418.5 557v2M418.5 562v8M418.5 571v10M418.5 584v5M419.5 557v2M419.5 562v8M419.5 571v10M419.5 584v5M420.5 561v6M420.5 574v2M420.5 580v2M421.5 561v6M421.5 574v2M421.5 580v2M422.5 559v1M422.5 564v13M422.5 579v1M423.5 559v1M423.5 564v13M423.5 579v1M424.5 561v1M424.5 579v1M425.5 561v1M425.5 579v1M596.5 630v6M596.5 640v2M597.5 630v6M597.5 640v2M600.5 617v1M600.5 627v6M600.5 650v3M600.5 657v4M600.5 662v1M601.5 617v1M601.5 627v6M601.5 650v3M601.5 657v4M601.5 662v1M602.5 574v2M602.5 621v3M602.5 639v4M602.5 648v8M603.5 574v2M603.5 621v3M603.5 639v4M603.5 648v8M604.5 566v8M604.5 576v3M604.5 650v4M604.5 659v3M605.5 566v8M605.5 576v3M605.5 650v4M605.5 659v3M606.5 631v2M606.5 660v2M607.5 631v2M607.5 660v2M608.5 603v1M609.5 603v1M610.5 591v2M610.5 596v5M611.5 591v2M611.5 596v5M612.5 585v5M612.5 592v11M613.5 585v5M613.5 592v11M614.5 562v2M614.5 567v4M615.5 562v2M615.5 567v4M616.5 560v1M616.5 563v1M616.5 567v2M616.5 570v6M616.5 578v8M616.5 591v3M617.5 560v1M617.5 563v1M617.5 567v2M617.5 570v6M617.5 578v8M617.5 591v3M618.5 559v1M619.5 559v1M620.5 558v2M621.5 558v2M622.5 577v1M622.5 582v3M623.5 577v1M623.5 582v3M624.5 570v11M624.5 583v2M624.5 594v5M625.5 570v11M625.5 583v2M625.5 594v5M626.5 558v17M626.5 576v2M626.5 581v3M626.5 587v15M627.5 558v17M627.5 576v2M627.5 581v3M627.5 587v15M628.5 558v5M628.5 568v5M628.5 574v4M628.5 584v18M628.5 605v5M629.5 558v5M629.5 568v5M629.5 574v4M629.5 584v18M629.5 605v5M630.5 558v1M630.5 565v8M630.5 590v6M630.5 598v4M630.5 604v3M630.5 612v7M631.5 558v1M631.5 565v8M631.5 590v6M631.5 598v4M631.5 604v3M631.5 612v7M632.5 570v4M632.5 630v4M633.5 570v4M633.5 630v4M634.5 560v2M634.5 567v3M634.5 641v1M635.5 560v2M635.5 567v3M635.5 641v1M636.5 656v1M637.5 656v1"/>
<path stroke="#ff8000" d="M170.5 545v4M170.5 553v5M170.5 578v2M171.5 545v4M171.5 553v5M171.5 578v2M172.5 536v1M172.5 538v5M172.5 556v1M172.5 560v2M172.5 567v8M172.5 587v2M173.5 536v1M173.5 538v5M173.5 556v1M173.5 560v2M173.5 567v8M173.5 587v2M174.5 536v2M174.5 558v3M174.5 576v1M174.5 579v2M175.5 536v2M175.5 558v3M175.5 576v1M175.5 579v2M176.5 536v6M176.5 544v3M176.5 573v6M177.5 536v6M177.5 544v3M177.5 573v6M178.5 547v5M178.5 560v2M178.5 563v2M178.5 572v4M178.5 581v2M179.5 547v5M179.5 560v2M179.5 563v2M179.5 572v4M179.5 581v2M180.5 544v7M180.5 560v2M180.5 570v2M180.5 575v7M181.5 544v7M181.5 560v2M181.5 570v2M181.5 575v7M182.5 538v1M182.5 541v10M182.5 553v3M182.5 557v3M182.5 579v2M183.5 538v1M183.5 541v10M183.5 553v3M183.5 557v3M183.5 579v2M184.5 549v10M184.5 561v4M184.5 566v3M184.5 572v8M185.5 549v10M185.5 561v4M185.5 566v3M185.5 572v8M186.5 555v2M186.5 567v1M187.5 555v2M187.5 567v1M240.5 661v2M241.5 661v2M246.5 661v1M247.5 661v1M386.5 659v1M386.5 662v1M387.5 659v1M387.5 662v1M388.5 652v5M389.5 652v5M390.5 650v2M390.5 654v4M391.5 650v2M391.5 654v4M392.5 658v1M393.5 658v1M394.5 657v1M395.5 657v1M396.5 658v1M396.5 663v1M397.5 658v1M397.5 663v1M398.5 663v1M399.5 663v1M400.5 657v2M401.5 657v2M402.5 659v1M403.5 659v1M404.5 592v1M405.5 592v1M406.5 590v10M406.5 602v11M407.5 590v10M407.5 602v11M410.5 572v2M410.5 577v9M411.5 572v2M411.5 577v9M412.5 561v1M412.5 569v2M412.5 575v1M412.5 582v2M413.5 561v1M413.5 569v2M413.5 575v1M413.5 582v2M414.5 554v6M414.5 570v6M414.5 579v1M415.5 554v6M415.5 570v6M415.5 579v1M416.5 560v4M416.5 567v2M416.5 571v5M417.5 560v4M417.5 567v2M417.5 571v5M418.5 581v3M419.5 581v3M422.5 560v4M423.5 560v4M424.5 562v3M424.5 575v4M425.5 562v3M425.5 575v4M596.5 636v4M597.5 636v4M600.5 618v2M600.5 623v4M600.5 653v4M600.5 661v1M601.5 618v2M601.5 623v4M601.5 653v4M601.5 661v1M602.5 624v15M603.5 624v15M604.5 654v5M605.5 654v5M606.5 633v12M606.5 658v2M607.5 633v12M607.5 658v2M608.5 604v4M608.5 611v3M608.5 663v1M609.5 604v4M609.5 611v3M609.5 663v1M610.5 593v3M610.5 601v2M611.5 593v3M611.5 601v2M612.5 603v1M613.5 603v1M614.5 571v8M615.5 571v8M616.5 561v2M616.5 569v1M616.5 586v5M616.5 594v1M616.5 599v1M617.5 561v2M617.5 569v1M617.5 586v5M617.5 594v1M617.5 599v1M618.5 560v8M619.5 560v8M620.5 560v7M621.5 560v7M622.5 578v4M622.5 585v2M622.5 589v2M622.5 596v4M623.5 578v4M623.5 585v2M623.5 589v2M623.5 596v4M624.5 585v9M624.5 599v3M625.5 585v9M625.5 599v3M626.5 578v3M626.5 584v3M626.5 602v4M627.5 578v3M627.5 584v3M627.5 602v4M628.5 563v5M628.5 573v1M628.5 578v6M628.5 610v1M629.5 563v5M629.5 573v1M629.5 578v6M629.5 610v1M630.5 559v6M630.5 573v17M630.5 596v2M630.5 619v2M631.5 559v6M631.5 573v17M631.5 596v2M631.5 619v2M632.5 634v1M633.5 634v1M634.5 642v1M635.5 642v1M636.5 657v1M637.5 657v1M638.5 659v1M639.5 659v1"/>
<path stroke="#ff6300" d="M172.5 537v1M172.5 543v2M172.5 551v5M172.5 557v3M172.5 562v5M173.5 537v1M173.5 543v2M173.5 551v5M173.5 557v3M173.5 562v5M174.5 538v20M174.5 561v6M174.5 571v5M174.5 577v2M175.5 538v20M175.5 561v6M175.5 571v5M175.5 577v2M176.5 542v2M176.5 547v1M176.5 555v6M176.5 567v6M177.5 542v2M177.5 547v1M177.5 555v6M177.5 567v6M180.5 551v9M180.5 562v8M180.5 572v3M181.5 551v9M181.5 562v8M181.5 572v3M182.5 556v1M183.5 556v1M184.5 565v1M185.5 565v1M238.5 661v2M239.5 661v2M242.5 661v2M243.5 661v2M246.5 662v1M247.5 662v1M386.5 660v2M387.5 660v2M388.5 657v1M389.5 657v1M390.5 652v2M390.5 658v1M391.5 652v2M391.5 658v1M392.5 663v1M393.5 663v1M394.5 658v1M395.5 658v1M398.5 659v1M399.5 659v1M400.5 663v1M401.5 663v1M402.5 660v1M402.5 662v1M403.5 660v1M403.5 662v1M410.5 574v3M411.5 574v3M412.5 562v1M412.5 567v2M412.5 571v4M413.5 562v1M413.5 567v2M413.5 571v4M414.5 560v2M414.5 564v3M414.5 568v2M414.5 576v3M415.5 560v2M415.5 564v3M415.5 568v2M415.5 576v3M416.5 569v2M417.5 569v2M424.5 565v1M424.5 572v3M425.5 565v1M425.5 572v3M600.5 620v3M601.5 620v3M606.5 645v9M606.5 656v2M607.5 645v9M607.5 656v2M608.5 608v3M608.5 614v1M609.5 608v3M609.5 614v1M610.5 603v1M611.5 603v1M612.5 604v2M613.5 604v2M614.5 579v18M614.5 624v2M614.5 629v5M615.5 579v18M615.5 624v2M615.5 629v5M616.5 595v4M616.5 600v2M616.5 619v5M616.5 629v4M617.5 595v4M617.5 600v2M617.5 619v5M617.5 629v4M618.5 568v9M618.5 591v10M618.5 609v3M619.5 568v9M619.5 591v10M619.5 609v3M620.5 567v4M620.5 577v3M621.5 567v4M621.5 577v3M622.5 587v2M622.5 591v5M622.5 600v2M623.5 587v2M623.5 591v5M623.5 600v2M624.5 602v4M625.5 602v4M626.5 606v3M627.5 606v3M628.5 611v1M629.5 611v1M630.5 621v4M631.5 621v4M632.5 635v1M633.5 635v1M634.5 643v3M635.5 643v3"/>
<path stroke="#ff4700" d="M172.5 545v6M173.5 545v6M174.5 567v4M175.5 567v4M176.5 548v2M176.5 552v3M176.5 561v6M177.5 548v2M177.5 552v3M177.5 561v6M388.5 658v1M388.5 663v1M389.5 658v1M389.5 663v1M390.5 663v1M391.5 663v1M392.5 659v1M393.5 659v1M394.5 659v1M394.5 663v1M395.5 659v1M395.5 663v1M396.5 659v1M397.5 659v1M400.5 659v1M401.5 659v1M402.5 661v1M403.5 661v1M412.5 563v4M413.5 563v4M414.5 562v2M414.5 567v1M415.5 562v2M415.5 567v1M424.5 566v6M425.5 566v6M606.5 654v2M607.5 654v2M608.5 615v2M608.5 626v1M609.5 615v2M609.5 626v1M610.5 604v2M611.5 604v2M612.5 606v3M613.5 606v3M614.5 597v6M614.5 623v1M614.5 626v3M614.5 634v1M615.5 597v6M615.5 623v1M615.5 626v3M615.5 634v1M616.5 602v1M616.5 610v9M616.5 624v5M616.5 633v1M617.5 602v1M617.5 610v9M617.5 624v5M617.5 633v1M618.5 577v8M618.5 590v1M618.5 601v8M618.5 612v2M618.5 620v4M619.5 577v8M619.5 590v1M619.5 601v8M619.5 612v2M619.5 620v4M620.5 571v6M620.5 580v13M620.5 595v2M620.5 599v3M621.5 571v6M621.5 580v13M621.5 595v2M621.5 599v3M622.5 602v1M623.5 602v1M624.5 606v10M624.5 620v2M624.5 627v3M625.5 606v10M625.5 620v2M625.5 627v3M626.5 609v5M627.5 609v5M628.5 612v6M628.5 633v1M629.5 612v6M629.5 633v1M630.5 625v6M631.5 625v6M632.5 636v2M633.5 636v2M634.5 646v2M635.5 646v2"/>
<path stroke="#ff2a00" d="M176.5 550v2M177.5 550v2M390.5 659v1M391.5 659v1M392.5 660v1M392.5 662v1M393.5 660v1M393.5 662v1M396.5 660v3M397.5 660v3M398.5 660v3M399.5 660v3M400.5 660v3M401.5 660v3M608.5 617v9M608.5 627v3M608.5 641v3M608.5 662v1M609.5 617v9M609.5 627v3M609.5 641v3M609.5 662v1M610.5 606v3M610.5 618v18M611.5 606v3M611.5 618v18M612.5 609v8M612.5 619v3M613.5 609v8M613.5 619v3M614.5 603v4M614.5 612v6M614.5 621v2M614.5 635v1M615.5 603v4M615.5 612v6M615.5 621v2M615.5 635v1M616.5 603v7M616.5 634v1M617.5 603v7M617.5 634v1M618.5 585v5M618.5 614v6M618.5 624v3M618.5 629v5M619.5 585v5M619.5 614v6M619.5 624v3M619.5 629v5M620.5 593v2M620.5 597v2M620.5 602v1M620.5 608v13M620.5 625v9M621.5 593v2M621.5 597v2M621.5 602v1M621.5 608v13M621.5 625v9M622.5 603v31M623.5 603v31M624.5 616v4M624.5 622v5M624.5 630v5M625.5 616v4M625.5 622v5M625.5 630v5M626.5 614v20M627.5 614v20M628.5 618v5M628.5 624v9M628.5 634v1M629.5 618v5M629.5 624v9M629.5 634v1M630.5 631v4M631.5 631v4M632.5 638v2M633.5 638v2M634.5 648v2M635.5 648v2M636.5 658v1M637.5 658v1M638.5 660v1M639.5 660v1"/>
<path stroke="#ff0e00" d="M388.5 659v1M388.5 662v1M389.5 659v1M389.5 662v1M390.5 662v1M391.5 662v1M392.5 661v1M393.5 661v1M394.5 660v3M395.5 660v3M608.5 630v11M608.5 644v3M608.5 648v6M608.5 661v1M609.5 630v11M609.5 644v3M609.5 648v6M609.5 661v1M610.5 609v9M610.5 636v2M611.5 609v9M611.5 636v2M612.5 617v2M612.5 622v2M612.5 633v2M613.5 617v2M613.5 622v2M613.5 633v2M614.5 607v5M614.5 618v3M614.5 636v1M615.5 607v5M615.5 618v3M615.5 636v1M616.5 635v1M617.5 635v1M618.5 627v2M618.5 634v1M619.5 627v2M619.5 634v1M620.5 603v5M620.5 621v4M620.5 634v1M621.5 603v5M621.5 621v4M621.5 634v1M622.5 634v1M623.5 634v1M624.5 635v1M625.5 635v1M626.5 634v1M627.5 634v1M628.5 623v1M628.5 635v1M629.5 623v1M629.5 635v1M630.5 635v1M631.5 635v1M632.5 640v1M632.5 644v1M633.5 640v1M633.5 644v1M634.5 650v6M635.5 650v6"/>
<path stroke="#f10000" d="M388.5 660v2M389.5 660v2M390.5 660v2M391.5 660v2M608.5 647v1M608.5 654v2M608.5 659v2M609.5 647v1M609.5 654v2M609.5 659v2M610.5 638v6M611.5 638v6M612.5 624v9M612.5 635v2M613.5 624v9M613.5 635v2M614.5 637v2M614.5 645v2M614.5 651v5M615.5 637v2M615.5 645v2M615.5 651v5M616.5 636v1M617.5 636v1M618.5 635v1M619.5 635v1M620.5 635v1M620.5 652v4M621.5 635v1M621.5 652v4M622.5 635v1M623.5 635v1M624.5 636v1M624.5 642v12M625.5 636v1M625.5 642v12M626.5 635v1M627.5 635v1M628.5 636v1M629.5 636v1M630.5 636v1M631.5 636v1M632.5 641v3M632.5 645v1M633.5 641v3M633.5 645v1M634.5 656v1M635.5 656v1M636.5 659v1M637.5 659v1M638.5 661v1M638.5 663v1M639.5 661v1M639.5 663v1"/>
<path stroke="#d50000" d="M608.5 656v3M609.5 656v3M610.5 644v7M611.5 644v7M612.5 637v2M613.5 637v2M614.5 639v6M614.5 647v4M614.5 656v1M615.5 639v6M615.5 647v4M615.5 656v1M616.5 637v1M617.5 637v1M618.5 636v1M618.5 654v2M619.5 636v1M619.5 654v2M620.5 636v1M620.5 650v2M620.5 656v3M621.5 636v1M621.5 650v2M621.5 656v3M622.5 636v1M622.5 650v1M623.5 636v1M623.5 650v1M624.5 637v5M624.5 654v3M625.5 637v5M625.5 654v3M630.5 637v1M631.5 637v1M632.5 646v7M633.5 646v7M634.5 657v1M635.5 657v1M638.5 662v1M639.5 662v1"/>
<path stroke="#b80000" d="M610.5 651v1M610.5 655v3M611.5 651v1M611.5 655v3M612.5 639v13M612.5 654v4M613.5 639v13M613.5 654v4M614.5 657v1M615.5 657v1M616.5 638v1M616.5 645v1M617.5 638v1M617.5 645v1M618.5 637v2M618.5 642v7M618.5 652v2M618.5 656v3M619.5 637v2M619.5 642v7M619.5 652v2M619.5 656v3M620.5 637v1M620.5 645v5M620.5 659v1M620.5 663v1M621.5 637v1M621.5 645v5M621.5 659v1M621.5 663v1M622.5 637v1M622.5 641v5M622.5 647v3M622.5 651v3M623.5 637v1M623.5 641v5M623.5 647v3M623.5 651v3M624.5 657v3M624.5 661v3M625.5 657v3M625.5 661v3M626.5 636v1M627.5 636v1M628.5 637v8M629.5 637v8M630.5 638v7M631.5 638v7M632.5 653v2M633.5 653v2M634.5 658v1M634.5 663v1M635.5 658v1M635.5 663v1M636.5 660v1M637.5 660v1"/>
<path stroke="#9c0000" d="M610.5 652v3M610.5 658v6M611.5 652v3M611.5 658v6M612.5 652v2M612.5 658v1M612.5 663v1M613.5 652v2M613.5 658v1M613.5 663v1M614.5 658v2M614.5 662v2M615.5 658v2M615.5 662v2M616.5 639v6M616.5 646v5M616.5 655v2M617.5 639v6M617.5 646v5M617.5 655v2M618.5 639v3M618.5 649v3M618.5 659v3M618.5 663v1M619.5 639v3M619.5 649v3M619.5 659v3M619.5 663v1M620.5 638v7M620.5 660v3M621.5 638v7M621.5 660v3M622.5 638v3M622.5 646v1M622.5 654v6M622.5 663v1M623.5 638v3M623.5 646v1M623.5 654v6M623.5 663v1M624.5 660v1M625.5 660v1M626.5 637v10M626.5 654v4M627.5 637v10M627.5 654v4M628.5 645v1M628.5 652v2M629.5 645v1M629.5 652v2M630.5 645v13M631.5 645v13M632.5 655v4M633.5 655v4M634.5 659v1M634.5 661v2M635.5 659v1M635.5 661v2M636.5 661v1M636.5 663v1M637.5 661v1M637.5 663v1"/>
<path stroke="#800000" d="M612.5 659v4M613.5 659v4M614.5 660v2M615.5 660v2M616.5 651v4M616.5 657v7M617.5 651v4M617.5 657v7M618.5 662v1M619.5 662v1M622.5 660v3M623.5 660v3M626.5 647v7M626.5 658v6M627.5 647v7M627.5 658v6M628.5 646v6M628.5 654v10M629.5 646v6M629.5 654v10M630.5 658v6M631.5 658v6M632.5 659v5M633.5 659v5M634.5 660v1M635.5 660v1M636.5 662v1M637.5 662v1"/>
</g>
<path fill="#000" shape-rendering="crispEdges" d="M169 619h2v2h-2zM170 619h2v2h-2zM182 572h2v2h-2zM184 571h2v2h-2zM185 573h2v2h-2zM185 649h2v2h-2zM186 570h2v2h-2zM186 572h2v2h-2zM187 649h2v2h-2zM188 580h2v2h-2zM189 612h2v2h-2zM189 649h2v2h-2zM190 581h2v2h-2zM191 613h2v2h-2zM194 615h2v2h-2zM196 616h2v2h-2zM197 633h2v2h-2zM198 634h2v2h-2zM199 627h2v2h-2zM199 634h2v2h-2zM200 635h2v2h-2zM201 635h2v2h-2zM201 637h2v2h-2zM202 625h2v2h-2zM202 639h2v2h-2zM203 629h2v2h-2zM204 628h2v2h-2zM205 629h2v2h-2zM206 631h2v2h-2zM209 632h2v2h-2zM211 633h2v2h-2zM212 633h2v2h-2zM214 633h2v2h-2zM215 581h2v2h-2zM217 580h2v2h-2zM218 578h2v2h-2zM219 580h2v2h-2zM220 580h2v2h-2zM221 581h2v2h-2zM223 578h2v2h-2zM223 580h2v2h-2zM224 577h2v2h-2zM226 577h2v2h-2zM227 580h2v2h-2zM229 579h2v2h-2zM230 581h2v2h-2zM231 582h2v2h-2zM232 584h2v2h-2zM233 584h2v2h-2zM235 587h2v2h-2zM237 585h2v2h-2zM238 585h2v2h-2zM239 583h2v2h-2zM239 584h2v2h-2zM239 612h2v2h-2zM240 584h2v2h-2zM240 612h2v2h-2zM241 584h2v2h-2zM241 585h2v2h-2zM242 582h2v2h-2zM242 585h2v2h-2zM242 613h2v2h-2zM244 614h2v2h-2zM246 614h2v2h-2zM247 613h2v2h-2zM249 613h2v2h-2zM251 614h2v2h-2zM252 587h2v2h-2zM252 613h2v2h-2zM253 615h2v2h-2zM254 587h2v2h-2zM255 583h2v2h-2zM255 614h2v2h-2zM256 583h2v2h-2zM258 582h2v2h-2zM260 583h2v2h-2zM262 581h2v2h-2zM265 580h2v2h-2zM266 580h2v2h-2zM268 579h2v2h-2zM270 581h2v2h-2zM271 579h2v2h-2zM272 612h2v2h-2zM273 613h2v2h-2zM275 614h2v2h-2zM276 615h2v2h-2zM277 616h2v2h-2zM278 617h2v2h-2zM278 620h2v2h-2zM279 620h2v2h-2zM281 583h2v2h-2zM281 619h2v2h-2zM282 619h2v2h-2zM283 583h2v2h-2zM285 583h2v2h-2zM285 604h2v2h-2zM286 568h2v2h-2zM286 605h2v2h-2zM287 570h2v2h-2zM287 597h2v2h-2zM288 571h2v2h-2zM288 597h2v2h-2zM289 571h2v2h-2zM291 572h2v2h-2zM292 570h2v2h-2zM292 571h2v2h-2zM294 568h2v2h-2zM295 566h2v2h-2zM295 567h2v2h-2zM296 564h2v2h-2zM298 564h2v2h-2zM299 561h2v2h-2zM300 560h2v2h-2zM301 559h2v2h-2zM302 557h2v2h-2zM303 557h2v2h-2zM306 557h2v2h-2zM307 555h2v2h-2zM309 554h2v2h-2zM310 555h2v2h-2zM312 553h2v2h-2zM314 552h2v2h-2zM318 552h2v2h-2zM319 552h2v2h-2zM319 578h2v2h-2zM320 577h2v2h-2zM321 576h2v2h-2zM322 575h2v2h-2zM324 567h2v2h-2zM324 574h2v2h-2zM325 574h2v2h-2zM326 567h2v2h-2zM327 566h2v2h-2zM329 566h2v2h-2zM340 562h2v2h-2zM341 562h2v2h-2zM343 552h2v2h-2zM343 560h2v2h-2zM344 552h2v2h-2zM345 559h2v2h-2zM346 552h2v2h-2zM346 558h2v2h-2zM347 557h2v2h-2zM349 556h2v2h-2zM350 556h2v2h-2zM351 557h2v2h-2zM353 555h2v2h-2zM354 555h2v2h-2zM355 555h2v2h-2zM356 554h2v2h-2zM357 555h2v2h-2zM359 553h2v2h-2zM362 589h2v2h-2zM363 588h2v2h-2zM364 587h2v2h-2zM366 554h2v2h-2zM366 587h2v2h-2zM367 553h2v2h-2zM369 553h2v2h-2zM370 552h2v2h-2zM372 552h2v2h-2zM373 551h2v2h-2zM373 587h2v2h-2zM375 586h2v2h-2zM377 633h2v2h-2zM378 634h2v2h-2zM380 590h2v2h-2zM380 634h2v2h-2zM381 591h2v2h-2zM382 592h2v2h-2zM382 633h2v2h-2zM383 598h2v2h-2zM384 598h2v2h-2zM385 598h2v2h-2zM387 598h2v2h-2zM388 600h2v2h-2zM389 602h2v2h-2zM390 603h2v2h-2zM391 604h2v2h-2zM392 605h2v2h-2zM393 617h2v2h-2zM394 607h2v2h-2zM394 616h2v2h-2zM395 615h2v2h-2zM396 612h2v2h-2zM396 614h2v2h-2zM397 611h2v2h-2zM398 608h2v2h-2zM399 610h2v2h-2zM399 616h2v2h-2zM400 609h2v2h-2zM400 615h2v2h-2zM401 608h2v2h-2zM402 606h2v2h-2zM402 614h2v2h-2zM403 605h2v2h-2zM403 613h2v2h-2zM404 603h2v2h-2zM405 602h2v2h-2zM406 602h2v2h-2zM408 600h2v2h-2zM409 600h2v2h-2zM411 597h2v2h-2zM412 596h2v2h-2zM413 595h2v2h-2zM414 593h2v2h-2zM415 592h2v2h-2zM417 590h2v2h-2zM418 589h2v2h-2zM419 588h2v2h-2zM420 586h2v2h-2zM421 586h2v2h-2zM422 586h2v2h-2zM424 565h2v2h-2zM424 585h2v2h-2zM425 583h2v2h-2zM426 565h2v2h-2zM426 582h2v2h-2zM430 564h2v2h-2zM431 564h2v2h-2zM431 580h2v2h-2zM433 580h2v2h-2zM435 579h2v2h-2zM437 579h2v2h-2zM438 578h2v2h-2zM439 578h2v2h-2zM440 576h2v2h-2zM442 574h2v2h-2zM443 571h2v2h-2zM444 570h2v2h-2zM446 568h2v2h-2zM447 567h2v2h-2zM448 566h2v2h-2zM450 566h2v2h-2zM452 565h2v2h-2zM454 564h2v2h-2zM456 563h2v2h-2zM457 563h2v2h-2zM458 562h2v2h-2zM461 559h2v2h-2zM461 564h2v2h-2zM462 553h2v2h-2zM462 559h2v2h-2zM462 563h2v2h-2zM463 563h2v2h-2zM466 561h2v2h-2zM468 560h2v2h-2zM470 552h2v2h-2zM470 557h2v2h-2zM470 559h2v2h-2zM471 556h2v2h-2zM472 551h2v2h-2zM473 553h2v2h-2zM475 551h2v2h-2zM476 551h2v2h-2zM477 551h2v2h-2zM478 552h2v2h-2zM480 551h2v2h-2zM496 249h2v2h-2zM497 256h2v2h-2zM498 249h2v2h-2zM498 255h2v2h-2zM500 252h2v2h-2zM500 255h2v2h-2zM501 251h2v2h-2zM503 251h2v2h-2zM504 251h2v2h-2zM506 252h2v2h-2zM507 251h2v2h-2zM508 262h2v2h-2zM510 262h2v2h-2zM512 251h2v2h-2zM513 252h2v2h-2zM515 265h2v2h-2zM516 265h2v2h-2zM518 266h2v2h-2zM519 262h2v2h-2zM521 264h2v2h-2zM522 264h2v2h-2zM524 263h2v2h-2zM525 264h2v2h-2zM526 267h2v2h-2zM536 269h2v2h-2zM538 269h2v2h-2zM539 266h2v2h-2zM539 269h2v2h-2zM540 271h2v2h-2zM541 266h2v2h-2zM541 271h2v2h-2zM543 271h2v2h-2zM544 270h2v2h-2zM546 266h2v2h-2zM546 270h2v2h-2zM548 266h2v2h-2zM548 269h2v2h-2zM549 556h2v2h-2zM550 266h2v2h-2zM551 556h2v2h-2zM552 556h2v2h-2zM554 556h2v2h-2zM556 557h2v2h-2zM558 557h2v2h-2zM563 559h2v2h-2zM564 559h2v2h-2zM566 560h2v2h-2zM568 561h2v2h-2zM569 561h2v2h-2zM571 561h2v2h-2zM573 563h2v2h-2zM575 563h2v2h-2zM576 563h2v2h-2zM578 565h2v2h-2zM580 566h2v2h-2zM581 564h2v2h-2zM583 566h2v2h-2zM583 608h2v2h-2zM584 567h2v2h-2zM584 608h2v2h-2zM585 568h2v2h-2zM586 608h2v2h-2zM588 571h2v2h-2zM589 572h2v2h-2zM590 574h2v2h-2zM590 613h2v2h-2zM592 614h2v2h-2zM593 614h2v2h-2zM594 619h2v2h-2zM595 615h2v2h-2zM595 619h2v2h-2zM596 619h2v2h-2zM597 610h2v2h-2zM598 610h2v2h-2zM600 611h2v2h-2zM600 614h2v2h-2zM602 607h2v2h-2zM602 612h2v2h-2zM602 615h2v2h-2zM603 612h2v2h-2zM604 608h2v2h-2zM605 605h2v2h-2zM606 604h2v2h-2zM606 609h2v2h-2zM607 610h2v2h-2zM608 653h2v2h-2zM609 631h2v2h-2zM609 653h2v2h-2zM609 657h2v2h-2zM610 632h2v2h-2zM610 658h2v2h-2zM612 632h2v2h-2zM613 631h2v2h-2zM613 654h2v2h-2zM614 630h2v2h-2zM615 654h2v2h-2zM616 657h2v2h-2zM617 658h2v2h-2zM618 659h2v2h-2zM620 651h2v2h-2zM621 653h2v2h-2zM622 655h2v2h-2zM624 657h2v2h-2zM625 645h2v2h-2zM626 646h2v2h-2zM626 650h2v2h-2zM626 658h2v2h-2zM627 651h2v2h-2zM628 628h2v2h-2zM629 603h2v2h-2zM630 603h2v2h-2zM630 629h2v2h-2zM631 630h2v2h-2zM633 631h2v2h-2zM635 556h2v2h-2zM636 557h2v2h-2zM636 573h2v2h-2zM637 565h2v2h-2zM637 572h2v2h-2zM639 564h2v2h-2zM644 628h2v2h-2zM646 628h2v2h-2zM658 629h2v2h-2zM660 629h2v2h-2zM661 629h2v2h-2zM664 628h2v2h-2zM666 567h2v2h-2zM666 629h2v2h-2zM668 568h2v2h-2zM669 569h2v2h-2zM671 570h2v2h-2zM674 626h2v2h-2zM675 572h2v2h-2zM676 626h2v2h-2zM677 572h2v2h-2zM677 626h2v2h-2zM678 627h2v2h-2zM679 568h2v2h-2zM680 569h2v2h-2zM680 628h2v2h-2zM681 570h2v2h-2zM683 571h2v2h-2zM684 576h2v2h-2zM686 576h2v2h-2zM687 576h2v2h-2zM687 625h2v2h-2zM688 575h2v2h-2zM688 629h2v2h-2zM689 625h2v2h-2zM690 629h2v2h-2zM691 629h2v2h-2zM692 629h2v2h-2zM694 629h2v2h-2zM695 576h2v2h-2zM697 576h2v2h-2zM698 576h2v2h-2zM700 576h2v2h-2zM702 580h2v2h-2zM703 579h2v2h-2zM704 579h2v2h-2zM705 578h2v2h-2zM706 578h2v2h-2zM707 628h2v2h-2zM708 627h2v2h-2zM709 628h2v2h-2zM709 631h2v2h-2zM710 629h2v2h-2zM711 631h2v2h-2zM712 630h2v2h-2zM712 633h2v2h-2zM713 631h2v2h-2zM714 632h2v2h-2zM715 631h2v2h-2zM742 620h2v2h-2zM742 624h2v2h-2zM742 625h2v2h-2zM744 621h2v2h-2zM745 622h2v2h-2zM746 625h2v2h-2zM747 626h2v2h-2zM748 627h2v2h-2zM750 628h2v2h-2zM767 622h2v2h-2zM769 622h2v2h-2zM770 614h2v2h-2zM771 612h2v2h-2zM772 606h2v2h-2zM774 614h2v2h-2zM775 615h2v2h-2zM777 616h2v2h-2zM778 618h2v2h-2zM778 627h2v2h-2zM779 626h2v2h-2zM780 618h2v2h-2zM780 623h2v2h-2zM781 622h2v2h-2zM782 620h2v2h-2zM782 621h2v2h-2zM784 622h2v2h-2zM785 623h2v2h-2zM786 624h2v2h-2zM788 625h2v2h-2zM789 625h2v2h-2zM790 623h2v2h-2zM791 622h2v2h-2zM793 622h2v2h-2zM802 590h2v2h-2zM803 591h2v2h-2zM804 592h2v2h-2zM804 620h2v2h-2zM805 592h2v2h-2zM806 622h2v2h-2zM807 624h2v2h-2zM809 625h2v2h-2zM810 625h2v2h-2zM811 624h2v2h-2zM813 625h2v2h-2zM815 624h2v2h-2zM817 617h2v2h-2zM817 624h2v2h-2zM818 618h2v2h-2zM819 619h2v2h-2zM820 620h2v2h-2zM821 622h2v2h-2zM823 622h2v2h-2zM828 608h2v2h-2zM829 608h2v2h-2zM829 613h2v2h-2zM830 602h2v2h-2zM830 614h2v2h-2zM831 602h2v2h-2zM832 615h2v2h-2zM832 620h2v2h-2zM833 624h2v2h-2zM834 621h2v2h-2zM835 620h2v2h-2zM835 624h2v2h-2zM836 607h2v2h-2zM836 620h2v2h-2zM838 607h2v2h-2zM838 617h2v2h-2zM839 613h2v2h-2zM839 615h2v2h-2zM840 612h2v2h-2zM840 614h2v2h-2zM840 615h2v2h-2zM848 612h2v2h-2zM848 614h2v2h-2zM848 616h2v2h-2zM849 618h2v2h-2zM849 619h2v2h-2zM850 612h2v2h-2zM850 622h2v2h-2zM851 622h2v2h-2zM852 622h2v2h-2zM853 622h2v2h-2zM854 620h2v2h-2zM856 617h2v2h-2zM857 561h2v2h-2zM857 617h2v2h-2zM858 561h2v2h-2zM858 617h2v2h-2zM860 615h2v2h-2zM861 612h2v2h-2zM861 616h2v2h-2zM863 612h2v2h-2zM863 615h2v2h-2zM865 616h2v2h-2zM866 617h2v2h-2zM868 618h2v2h-2zM870 620h2v2h-2zM878 622h2v2h-2zM880 623h2v2h-2zM881 624h2v2h-2zM882 625h2v2h-2zM884 614h2v2h-2zM884 616h2v2h-2zM885 613h2v2h-2zM886 611h2v2h-2zM887 616h2v2h-2zM887 617h2v2h-2zM888 618h2v2h-2zM891 622h2v2h-2zM892 622h2v2h-2zM894 620h2v2h-2zM895 620h2v2h-2zM898 618h2v2h-2zM900 618h2v2h-2zM900 622h2v2h-2zM901 625h2v2h-2zM902 622h2v2h-2zM903 626h2v2h-2zM905 614h2v2h-2zM905 615h2v2h-2zM905 620h2v2h-2zM906 620h2v2h-2zM908 621h2v2h-2zM909 620h2v2h-2zM910 620h2v2h-2zM914 598h2v2h-2zM915 598h2v2h-2zM917 598h2v2h-2zM918 598h2v2h-2zM928 606h2v2h-2zM929 607h2v2h-2zM930 608h2v2h-2zM932 609h2v2h-2zM942 294h2v2h-2zM944 594h2v2h-2zM945 594h2v2h-2zM946 356h2v2h-2zM948 356h2v2h-2zM950 594h2v2h-2zM951 594h2v2h-2z"/>
</g>
<rect x="170" y="666" width="800" height="1" fill="#fff"/>
<g fill="#000" shape-rendering="crispEdges">
<rect x="169" y="135" width="802" height="1"/>
<rect x="169" y="667" width="802" height="1"/>
<rect x="169" y="135" width="1" height="533"/>
<rect x="970" y="135" width="1" height="533"/>
<rect x="187" y="132" width="1" height="3"/>
<rect x="187" y="668" width="1" height="2"/>
<rect x="209" y="132" width="1" height="3"/>
<rect x="209" y="668" width="1" height="2"/>
<rect x="231" y="132" width="1" height="3"/>
<rect x="231" y="668" width="1" height="2"/>
<rect x="253" y="132" width="1" height="3"/>
<rect x="253" y="668" width="1" height="2"/>
<rect x="276" y="132" width="1" height="3"/>
<rect x="276" y="668" width="1" height="2"/>
<rect x="298" y="129" width="1" height="6"/>
<rect x="298" y="668" width="1" height="5"/>
<rect x="320" y="132" width="1" height="3"/>
<rect x="320" y="668" width="1" height="2"/>
<rect x="343" y="132" width="1" height="3"/>
<rect x="343" y="668" width="1" height="2"/>
<rect x="365" y="132" width="1" height="3"/>
<rect x="365" y="668" width="1" height="2"/>
<rect x="387" y="132" width="1" height="3"/>
<rect x="387" y="668" width="1" height="2"/>
<rect x="409" y="132" width="1" height="3"/>
<rect x="409" y="668" width="1" height="2"/>
<rect x="432" y="129" width="1" height="6"/>
<rect x="432" y="668" width="1" height="5"/>
<rect x="454" y="132" width="1" height="3"/>
<rect x="454" y="668" width="1" height="2"/>
<rect x="476" y="132" width="1" height="3"/>
<rect x="476" y="668" width="1" height="2"/>
<rect x="498" y="132" width="1" height="3"/>
<rect x="498" y="668" width="1" height="2"/>
<rect x="521" y="132" width="1" height="3"/>
<rect x="521" y="668" width="1" height="2"/>
<rect x="543" y="132" width="1" height="3"/>
<rect x="543" y="668" width="1" height="2"/>
<rect x="565" y="129" width="1" height="6"/>
<rect x="565" y="668" width="1" height="5"/>
<rect x="587" y="132" width="1" height="3"/>
<rect x="587" y="668" width="1" height="2"/>
<rect x="610" y="132" width="1" height="3"/>
<rect x="610" y="668" width="1" height="2"/>
<rect x="632" y="132" width="1" height="3"/>
<rect x="632" y="668" width="1" height="2"/>
<rect x="654" y="132" width="1" height="3"/>
<rect x="654" y="668" width="1" height="2"/>
<rect x="677" y="132" width="1" height="3"/>
<rect x="677" y="668" width="1" height="2"/>
<rect x="699" y="129" width="1" height="6"/>
<rect x="699" y="668" width="1" height="5"/>
<rect x="721" y="132" width="1" height="3"/>
<rect x="721" y="668" width="1" height="2"/>
<rect x="743" y="132" width="1" height="3"/>
<rect x="743" y="668" width="1" height="2"/>
<rect x="766" y="132" width="1" height="3"/>
<rect x="766" y="668" width="1" height="2"/>
<rect x="788" y="132" width="1" height="3"/>
<rect x="788" y="668" width="1" height="2"/>
<rect x="810" y="132" width="1" height="3"/>
<rect x="810" y="668" width="1" height="2"/>
<rect x="832" y="129" width="1" height="6"/>
<rect x="832" y="668" width="1" height="5"/>
<rect x="855" y="132" width="1" height="3"/>
<rect x="855" y="668" width="1" height="2"/>
<rect x="877" y="132" width="1" height="3"/>
<rect x="877" y="668" width="1" height="2"/>
<rect x="899" y="132" width="1" height="3"/>
<rect x="899" y="668" width="1" height="2"/>
<rect x="921" y="132" width="1" height="3"/>
<rect x="921" y="668" width="1" height="2"/>
<rect x="944" y="132" width="1" height="3"/>
<rect x="944" y="668" width="1" height="2"/>
<rect x="966" y="129" width="1" height="6"/>
<rect x="966" y="668" width="1" height="5"/>
<rect x="165" y="652" width="4" height="1"/>
<rect x="971" y="652" width="4" height="1"/>
<rect x="165" y="630" width="4" height="1"/>
<rect x="971" y="630" width="4" height="1"/>
<rect x="165" y="607" width="4" height="1"/>
<rect x="971" y="607" width="4" height="1"/>
<rect x="161" y="585" width="8" height="1"/>
<rect x="971" y="585" width="8" height="1"/>
<rect x="165" y="562" width="4" height="1"/>
<rect x="971" y="562" width="4" height="1"/>
<rect x="165" y="540" width="4" height="1"/>
<rect x="971" y="540" width="4" height="1"/>
<rect x="165" y="517" width="4" height="1"/>
<rect x="971" y="517" width="4" height="1"/>
<rect x="161" y="494" width="8" height="1"/>
<rect x="971" y="494" width="8" height="1"/>
<rect x="165" y="472" width="4" height="1"/>
<rect x="971" y="472" width="4" height="1"/>
<rect x="165" y="449" width="4" height="1"/>
<rect x="971" y="449" width="4" height="1"/>
<rect x="165" y="427" width="4" height="1"/>
<rect x="971" y="427" width="4" height="1"/>
<rect x="161" y="404" width="8" height="1"/>
<rect x="971" y="404" width="8" height="1"/>
<rect x="165" y="382" width="4" height="1"/>
<rect x="971" y="382" width="4" height="1"/>
<rect x="165" y="359" width="4" height="1"/>
<rect x="971" y="359" width="4" height="1"/>
<rect x="165" y="337" width="4" height="1"/>
<rect x="971" y="337" width="4" height="1"/>
<rect x="161" y="314" width="8" height="1"/>
<rect x="971" y="314" width="8" height="1"/>
<rect x="165" y="292" width="4" height="1"/>
<rect x="971" y="292" width="4" height="1"/>
<rect x="165" y="269" width="4" height="1"/>
<rect x="971" y="269" width="4" height="1"/>
<rect x="165" y="247" width="4" height="1"/>
<rect x="971" y="247" width="4" height="1"/>
<rect x="161" y="224" width="8" height="1"/>
<rect x="971" y="224" width="8" height="1"/>
<rect x="165" y="202" width="4" height="1"/>
<rect x="971" y="202" width="4" height="1"/>
<rect x="165" y="179" width="4" height="1"/>
<rect x="971" y="179" width="4" height="1"/>
<rect x="165" y="157" width="4" height="1"/>
<rect x="971" y="157" width="4" height="1"/>
</g>
<rect x="990" y="135" width="21" height="533" fill="#000"/>
<rect x="991" y="136" width="19" height="531" fill="url(#cb)"/>
<g fill="#000" shape-rendering="crispEdges">
<rect x="1008.5" y="637" width="1.5" height="1"/>
<rect x="1008.5" y="607" width="1.5" height="1"/>
<rect x="1008.5" y="578" width="1.5" height="1"/>
<rect x="1008.5" y="548" width="1.5" height="1"/>
<rect x="1008.5" y="519" width="1.5" height="1"/>
<rect x="1008.5" y="489" width="1.5" height="1"/>
<rect x="1008.5" y="460" width="1.5" height="1"/>
<rect x="1008.5" y="430" width="1.5" height="1"/>
<rect x="1008.5" y="400" width="1.5" height="1"/>
<rect x="1008.5" y="371" width="1.5" height="1"/>
<rect x="1008.5" y="341" width="1.5" height="1"/>
<rect x="1008.5" y="312" width="1.5" height="1"/>
<rect x="1008.5" y="282" width="1.5" height="1"/>
<rect x="1008.5" y="253" width="1.5" height="1"/>
<rect x="1008.5" y="223" width="1.5" height="1"/>
<rect x="1008.5" y="194" width="1.5" height="1"/>
<rect x="1008.5" y="164" width="1.5" height="1"/>
</g>
<text transform="translate(143.30 115.00) scale(1.085 1)" font-size="17.50" text-anchor="start">Equivalent Radar Reflectivity Factor Ze of Hydrometeors   <tspan dx="2.1">12:01 17.09.2013 - 15:00 17.09.2013 Muenchen</tspan></text>
<g>
<text transform="translate(157.00 230.75) scale(1.187 1)" font-size="16.00" text-anchor="end">10</text>
<text transform="translate(157.00 320.75) scale(1.187 1)" font-size="16.00" text-anchor="end">8</text>
<text transform="translate(157.00 410.75) scale(1.187 1)" font-size="16.00" text-anchor="end">6</text>
<text transform="translate(157.00 500.75) scale(1.187 1)" font-size="16.00" text-anchor="end">4</text>
<text transform="translate(157.00 590.75) scale(1.187 1)" font-size="16.00" text-anchor="end">2</text>
<text transform="translate(299.30 694.00) scale(1.187 1)" font-size="16.00" text-anchor="middle">12:30</text>
<text transform="translate(432.90 694.00) scale(1.187 1)" font-size="16.00" text-anchor="middle">13:00</text>
<text transform="translate(566.50 694.00) scale(1.187 1)" font-size="16.00" text-anchor="middle">13:30</text>
<text transform="translate(700.10 694.00) scale(1.187 1)" font-size="16.00" text-anchor="middle">14:00</text>
<text transform="translate(833.70 694.00) scale(1.187 1)" font-size="16.00" text-anchor="middle">14:30</text>
<text transform="translate(967.29 694.00) scale(1.187 1)" font-size="16.00" text-anchor="middle">15:00</text>
</g>
<text transform="translate(569.00 714.00) scale(1.085 1)" font-size="17.50" text-anchor="middle">Time UTC</text>
<text transform="translate(119.30 401.40) rotate(-90) scale(1.003 1)" font-size="17.50" text-anchor="middle">Height AGL km</text>
<text transform="translate(1058.80 400.00) rotate(-90) scale(1.023 1)" font-size="17.50" text-anchor="middle">Ze dBmm^6/m^3</text>
<text transform="translate(1015.00 200.30) scale(1.187 1)" font-size="16.00" text-anchor="start">20</text>
<text transform="translate(1015.00 318.30) scale(1.187 1)" font-size="16.00" text-anchor="start">0</text>
<text transform="translate(1015.00 436.30) scale(1.187 1)" font-size="16.00" text-anchor="start">-20</text>
<text transform="translate(1015.00 554.30) scale(1.187 1)" font-size="16.00" text-anchor="start">-40</text>
<text transform="translate(1015.00 667.30) scale(1.187 1)" font-size="16.00" text-anchor="start">-60</text>
</svg></body></html>
